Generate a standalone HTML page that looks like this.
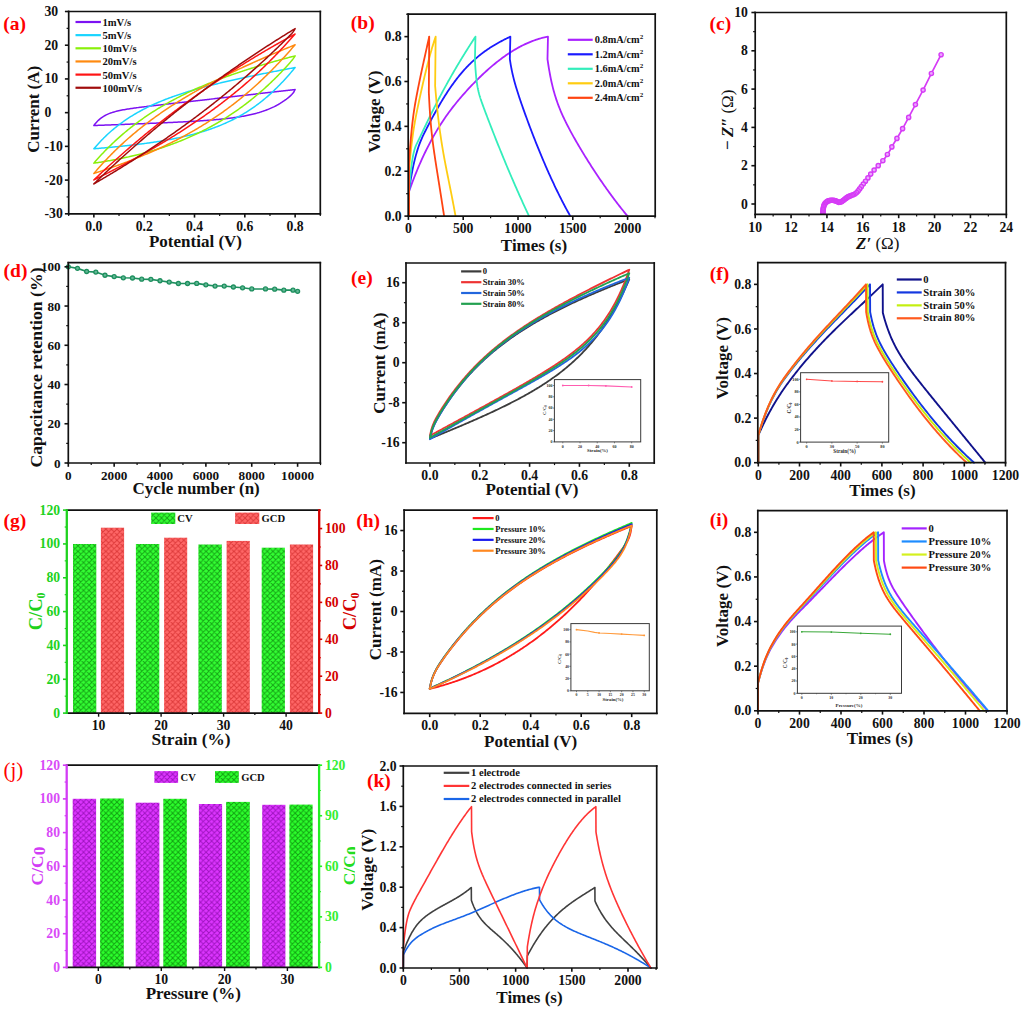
<!DOCTYPE html>
<html><head><meta charset="utf-8"><style>
html,body{margin:0;padding:0;background:#fff;overflow:hidden;}
svg{display:block;}
</style></head><body>
<svg width="1024" height="1010" viewBox="0 0 1024 1010">
<rect width="1024" height="1010" fill="#fff"/>
<polyline points="93.86,125.53 94.98,124.03 96.11,122.67 97.23,121.44 98.36,120.33 99.48,119.32 100.61,118.4 101.73,117.57 102.86,116.81 103.98,116.11 105.1,115.48 106.23,114.9 107.35,114.36 108.48,113.87 109.6,113.42 110.73,113 111.85,112.61 112.98,112.25 114.1,111.91 115.22,111.6 116.35,111.3 117.47,111.03 118.6,110.76 119.72,110.52 120.85,110.28 121.97,110.06 123.1,109.84 124.22,109.64 125.35,109.44 126.47,109.25 127.59,109.07 128.72,108.89 129.84,108.72 130.97,108.55 132.09,108.39 133.22,108.23 134.34,108.07 135.47,107.92 136.59,107.77 137.71,107.62 138.84,107.47 139.96,107.33 141.09,107.19 142.21,107.05 143.34,106.91 144.46,106.77 145.59,106.63 146.71,106.49 147.83,106.36 148.96,106.22 150.08,106.09 151.21,105.96 152.33,105.82 153.46,105.69 154.58,105.56 155.71,105.43 156.83,105.3 157.95,105.17 159.08,105.04 160.2,104.9 161.33,104.77 162.45,104.65 163.58,104.52 164.7,104.39 165.83,104.26 166.95,104.13 168.07,104 169.2,103.87 170.32,103.74 171.45,103.61 172.57,103.48 173.7,103.35 174.82,103.23 175.95,103.1 177.07,102.97 178.2,102.84 179.32,102.71 180.44,102.58 181.57,102.46 182.69,102.33 183.82,102.2 184.94,102.07 186.07,101.94 187.19,101.81 188.32,101.69 189.44,101.56 190.56,101.43 191.69,101.3 192.81,101.17 193.94,101.05 195.06,100.92 196.19,100.79 197.31,100.66 198.44,100.53 199.56,100.4 200.68,100.28 201.81,100.15 202.93,100.02 204.06,99.89 205.18,99.76 206.31,99.64 207.43,99.51 208.56,99.38 209.68,99.25 210.8,99.12 211.93,99 213.05,98.87 214.18,98.74 215.3,98.61 216.43,98.48 217.55,98.36 218.68,98.23 219.8,98.1 220.93,97.97 222.05,97.84 223.17,97.72 224.3,97.59 225.42,97.46 226.55,97.33 227.67,97.2 228.8,97.08 229.92,96.95 231.05,96.82 232.17,96.69 233.29,96.56 234.42,96.43 235.54,96.31 236.67,96.18 237.79,96.05 238.92,95.92 240.04,95.79 241.17,95.67 242.29,95.54 243.41,95.41 244.54,95.28 245.66,95.15 246.79,95.03 247.91,94.9 249.04,94.77 250.16,94.64 251.29,94.51 252.41,94.39 253.53,94.26 254.66,94.13 255.78,94 256.91,93.87 258.03,93.75 259.16,93.62 260.28,93.49 261.41,93.36 262.53,93.23 263.65,93.11 264.78,92.98 265.9,92.85 267.03,92.72 268.15,92.59 269.28,92.47 270.4,92.34 271.53,92.21 272.65,92.08 273.78,91.95 274.9,91.83 276.02,91.7 277.15,91.57 278.27,91.44 279.4,91.31 280.52,91.18 281.65,91.06 282.77,90.93 283.9,90.8 285.02,90.67 286.14,90.54 287.27,90.42 288.39,90.29 289.52,90.16 290.64,90.03 291.77,89.9 292.89,89.78 294.02,89.65 295.14,89.52 295.14,89.52 294.02,91.76 292.89,93.3 291.77,94.54 290.64,95.63 289.52,96.63 288.39,97.57 287.27,98.47 286.14,99.34 285.02,100.16 283.9,100.96 282.77,101.72 281.65,102.46 280.52,103.17 279.4,103.84 278.27,104.5 277.15,105.12 276.02,105.73 274.9,106.31 273.78,106.87 272.65,107.4 271.53,107.92 270.4,108.42 269.28,108.9 268.15,109.36 267.03,109.8 265.9,110.23 264.78,110.64 263.65,111.03 262.53,111.41 261.41,111.78 260.28,112.13 259.16,112.48 258.03,112.8 256.91,113.12 255.78,113.43 254.66,113.72 253.53,114.01 252.41,114.28 251.29,114.54 250.16,114.8 249.04,115.05 247.91,115.29 246.79,115.52 245.66,115.74 244.54,115.95 243.41,116.16 242.29,116.36 241.17,116.56 240.04,116.75 238.92,116.93 237.79,117.1 236.67,117.27 235.54,117.44 234.42,117.6 233.29,117.76 232.17,117.91 231.05,118.05 229.92,118.2 228.8,118.33 227.67,118.47 226.55,118.6 225.42,118.72 224.3,118.85 223.17,118.97 222.05,119.08 220.93,119.2 219.8,119.31 218.68,119.41 217.55,119.52 216.43,119.62 215.3,119.72 214.18,119.82 213.05,119.91 211.93,120.01 210.8,120.1 209.68,120.19 208.56,120.27 207.43,120.36 206.31,120.44 205.18,120.52 204.06,120.6 202.93,120.68 201.81,120.76 200.68,120.83 199.56,120.9 198.44,120.98 197.31,121.05 196.19,121.12 195.06,121.19 193.94,121.25 192.81,121.32 191.69,121.39 190.56,121.45 189.44,121.51 188.32,121.58 187.19,121.64 186.07,121.7 184.94,121.76 183.82,121.82 182.69,121.88 181.57,121.94 180.44,121.99 179.32,122.05 178.2,122.11 177.07,122.16 175.95,122.22 174.82,122.27 173.7,122.32 172.57,122.38 171.45,122.43 170.32,122.48 169.2,122.53 168.07,122.58 166.95,122.64 165.83,122.69 164.7,122.74 163.58,122.79 162.45,122.84 161.33,122.88 160.2,122.93 159.08,122.98 157.95,123.03 156.83,123.08 155.71,123.13 154.58,123.17 153.46,123.22 152.33,123.27 151.21,123.31 150.08,123.36 148.96,123.41 147.83,123.45 146.71,123.5 145.59,123.54 144.46,123.59 143.34,123.63 142.21,123.68 141.09,123.72 139.96,123.77 138.84,123.81 137.71,123.86 136.59,123.9 135.47,123.95 134.34,123.99 133.22,124.04 132.09,124.08 130.97,124.12 129.84,124.17 128.72,124.21 127.59,124.25 126.47,124.3 125.35,124.34 124.22,124.38 123.1,124.43 121.97,124.47 120.85,124.51 119.72,124.56 118.6,124.6 117.47,124.64 116.35,124.68 115.22,124.73 114.1,124.77 112.98,124.81 111.85,124.86 110.73,124.9 109.6,124.94 108.48,124.98 107.35,125.02 106.23,125.07 105.1,125.11 103.98,125.15 102.86,125.19 101.73,125.24 100.61,125.28 99.48,125.32 98.36,125.36 97.23,125.4 96.11,125.45 94.98,125.49 93.86,125.53" fill="none" stroke="#7c12f2" stroke-width="1.5" stroke-linejoin="round" stroke-linecap="round" />
<polyline points="93.86,148.76 94.98,147.44 96.11,146.15 97.23,144.89 98.36,143.65 99.48,142.43 100.61,141.24 101.73,140.07 102.86,138.93 103.98,137.81 105.1,136.71 106.23,135.64 107.35,134.58 108.48,133.55 109.6,132.53 110.73,131.54 111.85,130.56 112.98,129.6 114.1,128.66 115.22,127.74 116.35,126.84 117.47,125.95 118.6,125.08 119.72,124.23 120.85,123.39 121.97,122.57 123.1,121.76 124.22,120.97 125.35,120.19 126.47,119.42 127.59,118.67 128.72,117.93 129.84,117.21 130.97,116.49 132.09,115.79 133.22,115.11 134.34,114.43 135.47,113.77 136.59,113.11 137.71,112.47 138.84,111.84 139.96,111.22 141.09,110.61 142.21,110.01 143.34,109.42 144.46,108.83 145.59,108.26 146.71,107.7 147.83,107.14 148.96,106.6 150.08,106.06 151.21,105.53 152.33,105.01 153.46,104.49 154.58,103.99 155.71,103.49 156.83,103 157.95,102.51 159.08,102.04 160.2,101.57 161.33,101.1 162.45,100.64 163.58,100.19 164.7,99.75 165.83,99.31 166.95,98.88 168.07,98.45 169.2,98.03 170.32,97.61 171.45,97.2 172.57,96.79 173.7,96.39 174.82,96 175.95,95.6 177.07,95.22 178.2,94.84 179.32,94.46 180.44,94.09 181.57,93.72 182.69,93.35 183.82,92.99 184.94,92.63 186.07,92.28 187.19,91.93 188.32,91.59 189.44,91.25 190.56,90.91 191.69,90.57 192.81,90.24 193.94,89.91 195.06,89.59 196.19,89.27 197.31,88.95 198.44,88.63 199.56,88.32 200.68,88.01 201.81,87.7 202.93,87.39 204.06,87.09 205.18,86.79 206.31,86.5 207.43,86.2 208.56,85.91 209.68,85.62 210.8,85.33 211.93,85.05 213.05,84.76 214.18,84.48 215.3,84.2 216.43,83.93 217.55,83.65 218.68,83.38 219.8,83.11 220.93,82.84 222.05,82.57 223.17,82.3 224.3,82.04 225.42,81.78 226.55,81.51 227.67,81.25 228.8,81 229.92,80.74 231.05,80.49 232.17,80.23 233.29,79.98 234.42,79.73 235.54,79.48 236.67,79.23 237.79,78.98 238.92,78.74 240.04,78.49 241.17,78.25 242.29,78.01 243.41,77.77 244.54,77.53 245.66,77.29 246.79,77.05 247.91,76.82 249.04,76.58 250.16,76.34 251.29,76.11 252.41,75.88 253.53,75.65 254.66,75.42 255.78,75.18 256.91,74.96 258.03,74.73 259.16,74.5 260.28,74.27 261.41,74.05 262.53,73.82 263.65,73.6 264.78,73.37 265.9,73.15 267.03,72.93 268.15,72.7 269.28,72.48 270.4,72.26 271.53,72.04 272.65,71.82 273.78,71.6 274.9,71.38 276.02,71.17 277.15,70.95 278.27,70.73 279.4,70.52 280.52,70.3 281.65,70.09 282.77,69.87 283.9,69.66 285.02,69.44 286.14,69.23 287.27,69.02 288.39,68.8 289.52,68.59 290.64,68.38 291.77,68.17 292.89,67.96 294.02,67.75 295.14,67.54 295.14,67.54 294.02,68.89 292.89,70.24 291.77,71.57 290.64,72.88 289.52,74.18 288.39,75.47 287.27,76.74 286.14,78 285.02,79.24 283.9,80.46 282.77,81.67 281.65,82.86 280.52,84.03 279.4,85.19 278.27,86.33 277.15,87.46 276.02,88.57 274.9,89.66 273.78,90.73 272.65,91.79 271.53,92.84 270.4,93.86 269.28,94.87 268.15,95.86 267.03,96.84 265.9,97.8 264.78,98.75 263.65,99.68 262.53,100.59 261.41,101.49 260.28,102.37 259.16,103.24 258.03,104.09 256.91,104.93 255.78,105.75 254.66,106.56 253.53,107.36 252.41,108.14 251.29,108.91 250.16,109.66 249.04,110.4 247.91,111.13 246.79,111.84 245.66,112.54 244.54,113.23 243.41,113.91 242.29,114.57 241.17,115.22 240.04,115.86 238.92,116.49 237.79,117.11 236.67,117.71 235.54,118.31 234.42,118.89 233.29,119.46 232.17,120.02 231.05,120.58 229.92,121.12 228.8,121.65 227.67,122.17 226.55,122.69 225.42,123.19 224.3,123.68 223.17,124.17 222.05,124.64 220.93,125.11 219.8,125.57 218.68,126.02 217.55,126.46 216.43,126.9 215.3,127.32 214.18,127.74 213.05,128.15 211.93,128.56 210.8,128.95 209.68,129.34 208.56,129.73 207.43,130.1 206.31,130.47 205.18,130.83 204.06,131.19 202.93,131.54 201.81,131.88 200.68,132.22 199.56,132.55 198.44,132.87 197.31,133.19 196.19,133.51 195.06,133.82 193.94,134.12 192.81,134.42 191.69,134.71 190.56,135 189.44,135.28 188.32,135.56 187.19,135.83 186.07,136.1 184.94,136.36 183.82,136.62 182.69,136.88 181.57,137.13 180.44,137.38 179.32,137.62 178.2,137.86 177.07,138.09 175.95,138.32 174.82,138.55 173.7,138.77 172.57,138.99 171.45,139.21 170.32,139.42 169.2,139.63 168.07,139.84 166.95,140.04 165.83,140.24 164.7,140.44 163.58,140.63 162.45,140.82 161.33,141.01 160.2,141.2 159.08,141.38 157.95,141.56 156.83,141.74 155.71,141.91 154.58,142.08 153.46,142.25 152.33,142.42 151.21,142.58 150.08,142.75 148.96,142.91 147.83,143.07 146.71,143.22 145.59,143.37 144.46,143.53 143.34,143.68 142.21,143.82 141.09,143.97 139.96,144.11 138.84,144.25 137.71,144.39 136.59,144.53 135.47,144.67 134.34,144.8 133.22,144.93 132.09,145.07 130.97,145.19 129.84,145.32 128.72,145.45 127.59,145.57 126.47,145.7 125.35,145.82 124.22,145.94 123.1,146.06 121.97,146.18 120.85,146.29 119.72,146.41 118.6,146.52 117.47,146.64 116.35,146.75 115.22,146.86 114.1,146.97 112.98,147.08 111.85,147.18 110.73,147.29 109.6,147.39 108.48,147.5 107.35,147.6 106.23,147.7 105.1,147.8 103.98,147.9 102.86,148 101.73,148.1 100.61,148.2 99.48,148.29 98.36,148.39 97.23,148.48 96.11,148.58 94.98,148.67 93.86,148.76" fill="none" stroke="#18d4ff" stroke-width="1.5" stroke-linejoin="round" stroke-linecap="round" />
<polyline points="93.86,163.12 94.98,161.82 96.11,160.54 97.23,159.27 98.36,158.01 99.48,156.77 100.61,155.55 101.73,154.34 102.86,153.15 103.98,151.96 105.1,150.8 106.23,149.65 107.35,148.51 108.48,147.38 109.6,146.27 110.73,145.17 111.85,144.09 112.98,143.01 114.1,141.95 115.22,140.91 116.35,139.87 117.47,138.85 118.6,137.83 119.72,136.83 120.85,135.85 121.97,134.87 123.1,133.9 124.22,132.95 125.35,132 126.47,131.07 127.59,130.15 128.72,129.23 129.84,128.33 130.97,127.44 132.09,126.56 133.22,125.68 134.34,124.82 135.47,123.97 136.59,123.12 137.71,122.29 138.84,121.46 139.96,120.65 141.09,119.84 142.21,119.04 143.34,118.25 144.46,117.47 145.59,116.69 146.71,115.93 147.83,115.17 148.96,114.42 150.08,113.68 151.21,112.94 152.33,112.22 153.46,111.5 154.58,110.79 155.71,110.08 156.83,109.38 157.95,108.69 159.08,108.01 160.2,107.33 161.33,106.67 162.45,106 163.58,105.35 164.7,104.7 165.83,104.05 166.95,103.42 168.07,102.79 169.2,102.16 170.32,101.54 171.45,100.93 172.57,100.32 173.7,99.72 174.82,99.13 175.95,98.54 177.07,97.95 178.2,97.37 179.32,96.8 180.44,96.23 181.57,95.67 182.69,95.11 183.82,94.56 184.94,94.01 186.07,93.47 187.19,92.93 188.32,92.39 189.44,91.86 190.56,91.34 191.69,90.82 192.81,90.31 193.94,89.79 195.06,89.29 196.19,88.79 197.31,88.29 198.44,87.79 199.56,87.3 200.68,86.82 201.81,86.34 202.93,85.86 204.06,85.39 205.18,84.92 206.31,84.45 207.43,83.99 208.56,83.53 209.68,83.07 210.8,82.62 211.93,82.17 213.05,81.73 214.18,81.29 215.3,80.85 216.43,80.41 217.55,79.98 218.68,79.55 219.8,79.13 220.93,78.7 222.05,78.29 223.17,77.87 224.3,77.46 225.42,77.05 226.55,76.64 227.67,76.23 228.8,75.83 229.92,75.43 231.05,75.04 232.17,74.64 233.29,74.25 234.42,73.86 235.54,73.48 236.67,73.09 237.79,72.71 238.92,72.34 240.04,71.96 241.17,71.59 242.29,71.21 243.41,70.85 244.54,70.48 245.66,70.11 246.79,69.75 247.91,69.39 249.04,69.03 250.16,68.68 251.29,68.32 252.41,67.97 253.53,67.62 254.66,67.28 255.78,66.93 256.91,66.59 258.03,66.24 259.16,65.9 260.28,65.57 261.41,65.23 262.53,64.9 263.65,64.56 264.78,64.23 265.9,63.9 267.03,63.58 268.15,63.25 269.28,62.93 270.4,62.6 271.53,62.28 272.65,61.96 273.78,61.64 274.9,61.33 276.02,61.01 277.15,60.7 278.27,60.39 279.4,60.08 280.52,59.77 281.65,59.46 282.77,59.15 283.9,58.85 285.02,58.55 286.14,58.24 287.27,57.94 288.39,57.64 289.52,57.34 290.64,57.05 291.77,56.75 292.89,56.46 294.02,56.16 295.14,55.87 295.14,55.87 294.02,57.67 292.89,59.17 291.77,60.55 290.64,61.87 289.52,63.15 288.39,64.42 287.27,65.67 286.14,66.9 285.02,68.13 283.9,69.34 282.77,70.54 281.65,71.72 280.52,72.9 279.4,74.06 278.27,75.22 277.15,76.36 276.02,77.49 274.9,78.6 273.78,79.71 272.65,80.81 271.53,81.89 270.4,82.97 269.28,84.03 268.15,85.08 267.03,86.13 265.9,87.16 264.78,88.18 263.65,89.19 262.53,90.19 261.41,91.18 260.28,92.16 259.16,93.13 258.03,94.1 256.91,95.05 255.78,95.99 254.66,96.92 253.53,97.84 252.41,98.76 251.29,99.66 250.16,100.56 249.04,101.44 247.91,102.32 246.79,103.19 245.66,104.05 244.54,104.89 243.41,105.74 242.29,106.57 241.17,107.39 240.04,108.21 238.92,109.01 237.79,109.81 236.67,110.6 235.54,111.38 234.42,112.16 233.29,112.92 232.17,113.68 231.05,114.43 229.92,115.17 228.8,115.91 227.67,116.63 226.55,117.35 225.42,118.06 224.3,118.76 223.17,119.46 222.05,120.15 220.93,120.83 219.8,121.5 218.68,122.17 217.55,122.83 216.43,123.48 215.3,124.13 214.18,124.76 213.05,125.4 211.93,126.02 210.8,126.64 209.68,127.25 208.56,127.85 207.43,128.45 206.31,129.04 205.18,129.63 204.06,130.2 202.93,130.78 201.81,131.34 200.68,131.9 199.56,132.45 198.44,133 197.31,133.54 196.19,134.08 195.06,134.61 193.94,135.13 192.81,135.64 191.69,136.16 190.56,136.66 189.44,137.16 188.32,137.65 187.19,138.14 186.07,138.62 184.94,139.1 183.82,139.57 182.69,140.04 181.57,140.5 180.44,140.96 179.32,141.41 178.2,141.85 177.07,142.29 175.95,142.72 174.82,143.15 173.7,143.58 172.57,144 171.45,144.41 170.32,144.82 169.2,145.22 168.07,145.62 166.95,146.02 165.83,146.41 164.7,146.79 163.58,147.17 162.45,147.55 161.33,147.92 160.2,148.29 159.08,148.65 157.95,149.01 156.83,149.36 155.71,149.71 154.58,150.06 153.46,150.4 152.33,150.73 151.21,151.06 150.08,151.39 148.96,151.71 147.83,152.03 146.71,152.35 145.59,152.66 144.46,152.97 143.34,153.27 142.21,153.57 141.09,153.86 139.96,154.15 138.84,154.44 137.71,154.72 136.59,155 135.47,155.28 134.34,155.55 133.22,155.82 132.09,156.08 130.97,156.35 129.84,156.6 128.72,156.86 127.59,157.11 126.47,157.35 125.35,157.6 124.22,157.84 123.1,158.08 121.97,158.31 120.85,158.54 119.72,158.76 118.6,158.99 117.47,159.21 116.35,159.43 115.22,159.64 114.1,159.85 112.98,160.06 111.85,160.26 110.73,160.46 109.6,160.66 108.48,160.85 107.35,161.05 106.23,161.24 105.1,161.42 103.98,161.6 102.86,161.78 101.73,161.96 100.61,162.14 99.48,162.31 98.36,162.48 97.23,162.64 96.11,162.81 94.98,162.97 93.86,163.12" fill="none" stroke="#8af00a" stroke-width="1.5" stroke-linejoin="round" stroke-linecap="round" />
<polyline points="93.86,173.51 94.98,172.19 96.11,170.88 97.23,169.58 98.36,168.3 99.48,167.03 100.61,165.77 101.73,164.53 102.86,163.3 103.98,162.08 105.1,160.87 106.23,159.67 107.35,158.49 108.48,157.32 109.6,156.16 110.73,155.01 111.85,153.87 112.98,152.75 114.1,151.63 115.22,150.53 116.35,149.43 117.47,148.35 118.6,147.28 119.72,146.21 120.85,145.16 121.97,144.11 123.1,143.08 124.22,142.05 125.35,141.04 126.47,140.03 127.59,139.03 128.72,138.05 129.84,137.07 130.97,136.1 132.09,135.13 133.22,134.18 134.34,133.23 135.47,132.3 136.59,131.37 137.71,130.44 138.84,129.53 139.96,128.63 141.09,127.73 142.21,126.84 143.34,125.95 144.46,125.08 145.59,124.21 146.71,123.34 147.83,122.49 148.96,121.64 150.08,120.8 151.21,119.96 152.33,119.14 153.46,118.31 154.58,117.5 155.71,116.69 156.83,115.89 157.95,115.09 159.08,114.3 160.2,113.51 161.33,112.73 162.45,111.96 163.58,111.19 164.7,110.43 165.83,109.67 166.95,108.92 168.07,108.18 169.2,107.44 170.32,106.7 171.45,105.97 172.57,105.24 173.7,104.52 174.82,103.81 175.95,103.1 177.07,102.39 178.2,101.69 179.32,100.99 180.44,100.3 181.57,99.61 182.69,98.93 183.82,98.25 184.94,97.57 186.07,96.9 187.19,96.24 188.32,95.57 189.44,94.91 190.56,94.26 191.69,93.61 192.81,92.96 193.94,92.32 195.06,91.68 196.19,91.04 197.31,90.41 198.44,89.78 199.56,89.16 200.68,88.54 201.81,87.92 202.93,87.3 204.06,86.69 205.18,86.09 206.31,85.48 207.43,84.88 208.56,84.28 209.68,83.68 210.8,83.09 211.93,82.5 213.05,81.92 214.18,81.33 215.3,80.75 216.43,80.17 217.55,79.6 218.68,79.03 219.8,78.46 220.93,77.89 222.05,77.33 223.17,76.76 224.3,76.2 225.42,75.65 226.55,75.09 227.67,74.54 228.8,73.99 229.92,73.44 231.05,72.9 232.17,72.36 233.29,71.82 234.42,71.28 235.54,70.74 236.67,70.21 237.79,69.68 238.92,69.15 240.04,68.62 241.17,68.1 242.29,67.57 243.41,67.05 244.54,66.53 245.66,66.01 246.79,65.5 247.91,64.99 249.04,64.47 250.16,63.96 251.29,63.45 252.41,62.95 253.53,62.44 254.66,61.94 255.78,61.44 256.91,60.94 258.03,60.44 259.16,59.94 260.28,59.45 261.41,58.96 262.53,58.46 263.65,57.97 264.78,57.49 265.9,57 267.03,56.51 268.15,56.03 269.28,55.54 270.4,55.06 271.53,54.58 272.65,54.1 273.78,53.63 274.9,53.15 276.02,52.67 277.15,52.2 278.27,51.73 279.4,51.26 280.52,50.79 281.65,50.32 282.77,49.85 283.9,49.38 285.02,48.92 286.14,48.45 287.27,47.99 288.39,47.53 289.52,47.07 290.64,46.61 291.77,46.15 292.89,45.69 294.02,45.23 295.14,44.78 295.14,44.78 294.02,46.07 292.89,47.35 291.77,48.62 290.64,49.9 289.52,51.16 288.39,52.42 287.27,53.67 286.14,54.91 285.02,56.15 283.9,57.38 282.77,58.6 281.65,59.82 280.52,61.03 279.4,62.23 278.27,63.42 277.15,64.6 276.02,65.78 274.9,66.94 273.78,68.1 272.65,69.25 271.53,70.4 270.4,71.53 269.28,72.66 268.15,73.77 267.03,74.88 265.9,75.98 264.78,77.07 263.65,78.16 262.53,79.23 261.41,80.3 260.28,81.35 259.16,82.4 258.03,83.44 256.91,84.48 255.78,85.5 254.66,86.52 253.53,87.52 252.41,88.52 251.29,89.51 250.16,90.5 249.04,91.47 247.91,92.44 246.79,93.4 245.66,94.35 244.54,95.29 243.41,96.22 242.29,97.15 241.17,98.07 240.04,98.98 238.92,99.89 237.79,100.78 236.67,101.67 235.54,102.55 234.42,103.43 233.29,104.29 232.17,105.15 231.05,106.01 229.92,106.85 228.8,107.69 227.67,108.52 226.55,109.35 225.42,110.16 224.3,110.98 223.17,111.78 222.05,112.58 220.93,113.37 219.8,114.15 218.68,114.93 217.55,115.7 216.43,116.47 215.3,117.23 214.18,117.98 213.05,118.73 211.93,119.47 210.8,120.2 209.68,120.93 208.56,121.65 207.43,122.37 206.31,123.08 205.18,123.78 204.06,124.48 202.93,125.18 201.81,125.87 200.68,126.55 199.56,127.23 198.44,127.9 197.31,128.57 196.19,129.23 195.06,129.89 193.94,130.54 192.81,131.18 191.69,131.82 190.56,132.46 189.44,133.09 188.32,133.72 187.19,134.34 186.07,134.96 184.94,135.57 183.82,136.18 182.69,136.78 181.57,137.38 180.44,137.97 179.32,138.56 178.2,139.15 177.07,139.73 175.95,140.31 174.82,140.88 173.7,141.45 172.57,142.01 171.45,142.57 170.32,143.13 169.2,143.68 168.07,144.23 166.95,144.77 165.83,145.31 164.7,145.85 163.58,146.38 162.45,146.91 161.33,147.43 160.2,147.95 159.08,148.47 157.95,148.99 156.83,149.5 155.71,150 154.58,150.51 153.46,151.01 152.33,151.51 151.21,152 150.08,152.49 148.96,152.98 147.83,153.46 146.71,153.94 145.59,154.42 144.46,154.89 143.34,155.36 142.21,155.83 141.09,156.3 139.96,156.76 138.84,157.22 137.71,157.67 136.59,158.13 135.47,158.58 134.34,159.02 133.22,159.47 132.09,159.91 130.97,160.35 129.84,160.79 128.72,161.22 127.59,161.65 126.47,162.08 125.35,162.51 124.22,162.93 123.1,163.35 121.97,163.77 120.85,164.19 119.72,164.6 118.6,165.01 117.47,165.42 116.35,165.83 115.22,166.23 114.1,166.64 112.98,167.04 111.85,167.43 110.73,167.83 109.6,168.22 108.48,168.61 107.35,169 106.23,169.39 105.1,169.77 103.98,170.15 102.86,170.54 101.73,170.91 100.61,171.29 99.48,171.66 98.36,172.04 97.23,172.41 96.11,172.78 94.98,173.14 93.86,173.51" fill="none" stroke="#ff8a10" stroke-width="1.5" stroke-linejoin="round" stroke-linecap="round" />
<polyline points="93.86,179.95 94.98,178.88 96.11,177.81 97.23,176.75 98.36,175.69 99.48,174.64 100.61,173.59 101.73,172.54 102.86,171.49 103.98,170.45 105.1,169.41 106.23,168.38 107.35,167.35 108.48,166.32 109.6,165.29 110.73,164.27 111.85,163.25 112.98,162.24 114.1,161.23 115.22,160.22 116.35,159.21 117.47,158.21 118.6,157.21 119.72,156.22 120.85,155.22 121.97,154.24 123.1,153.25 124.22,152.27 125.35,151.29 126.47,150.31 127.59,149.34 128.72,148.37 129.84,147.4 130.97,146.44 132.09,145.48 133.22,144.52 134.34,143.57 135.47,142.62 136.59,141.67 137.71,140.72 138.84,139.78 139.96,138.84 141.09,137.91 142.21,136.97 143.34,136.04 144.46,135.12 145.59,134.19 146.71,133.27 147.83,132.35 148.96,131.44 150.08,130.52 151.21,129.62 152.33,128.71 153.46,127.81 154.58,126.9 155.71,126.01 156.83,125.11 157.95,124.22 159.08,123.33 160.2,122.44 161.33,121.56 162.45,120.68 163.58,119.8 164.7,118.93 165.83,118.05 166.95,117.19 168.07,116.32 169.2,115.45 170.32,114.59 171.45,113.74 172.57,112.88 173.7,112.03 174.82,111.18 175.95,110.33 177.07,109.48 178.2,108.64 179.32,107.8 180.44,106.96 181.57,106.13 182.69,105.3 183.82,104.47 184.94,103.64 186.07,102.82 187.19,102 188.32,101.18 189.44,100.36 190.56,99.55 191.69,98.74 192.81,97.93 193.94,97.13 195.06,96.32 196.19,95.52 197.31,94.72 198.44,93.93 199.56,93.14 200.68,92.34 201.81,91.56 202.93,90.77 204.06,89.99 205.18,89.21 206.31,88.43 207.43,87.65 208.56,86.88 209.68,86.11 210.8,85.34 211.93,84.57 213.05,83.81 214.18,83.05 215.3,82.29 216.43,81.53 217.55,80.78 218.68,80.03 219.8,79.28 220.93,78.53 222.05,77.79 223.17,77.04 224.3,76.3 225.42,75.57 226.55,74.83 227.67,74.1 228.8,73.37 229.92,72.64 231.05,71.91 232.17,71.19 233.29,70.46 234.42,69.74 235.54,69.03 236.67,68.31 237.79,67.6 238.92,66.89 240.04,66.18 241.17,65.47 242.29,64.77 243.41,64.07 244.54,63.37 245.66,62.67 246.79,61.97 247.91,61.28 249.04,60.59 250.16,59.9 251.29,59.21 252.41,58.53 253.53,57.84 254.66,57.16 255.78,56.48 256.91,55.81 258.03,55.13 259.16,54.46 260.28,53.79 261.41,53.12 262.53,52.45 263.65,51.79 264.78,51.13 265.9,50.47 267.03,49.81 268.15,49.15 269.28,48.5 270.4,47.85 271.53,47.2 272.65,46.55 273.78,45.9 274.9,45.26 276.02,44.62 277.15,43.98 278.27,43.34 279.4,42.7 280.52,42.07 281.65,41.43 282.77,40.8 283.9,40.17 285.02,39.55 286.14,38.92 287.27,38.3 288.39,37.68 289.52,37.06 290.64,36.44 291.77,35.82 292.89,35.21 294.02,34.6 295.14,33.99 295.14,33.99 294.02,35.25 292.89,36.5 291.77,37.76 290.64,39.01 289.52,40.26 288.39,41.5 287.27,42.74 286.14,43.97 285.02,45.2 283.9,46.42 282.77,47.64 281.65,48.85 280.52,50.05 279.4,51.24 278.27,52.43 277.15,53.61 276.02,54.78 274.9,55.95 273.78,57.11 272.65,58.26 271.53,59.4 270.4,60.53 269.28,61.66 268.15,62.78 267.03,63.89 265.9,65 264.78,66.09 263.65,67.18 262.53,68.27 261.41,69.34 260.28,70.41 259.16,71.47 258.03,72.52 256.91,73.57 255.78,74.61 254.66,75.64 253.53,76.67 252.41,77.68 251.29,78.7 250.16,79.7 249.04,80.7 247.91,81.69 246.79,82.68 245.66,83.66 244.54,84.63 243.41,85.6 242.29,86.56 241.17,87.51 240.04,88.46 238.92,89.4 237.79,90.34 236.67,91.27 235.54,92.2 234.42,93.12 233.29,94.03 232.17,94.94 231.05,95.84 229.92,96.74 228.8,97.63 227.67,98.52 226.55,99.4 225.42,100.28 224.3,101.15 223.17,102.02 222.05,102.88 220.93,103.74 219.8,104.59 218.68,105.44 217.55,106.28 216.43,107.12 215.3,107.95 214.18,108.78 213.05,109.61 211.93,110.43 210.8,111.24 209.68,112.05 208.56,112.86 207.43,113.66 206.31,114.46 205.18,115.26 204.06,116.05 202.93,116.84 201.81,117.62 200.68,118.4 199.56,119.17 198.44,119.94 197.31,120.71 196.19,121.47 195.06,122.23 193.94,122.99 192.81,123.74 191.69,124.49 190.56,125.24 189.44,125.98 188.32,126.72 187.19,127.45 186.07,128.19 184.94,128.91 183.82,129.64 182.69,130.36 181.57,131.08 180.44,131.8 179.32,132.51 178.2,133.22 177.07,133.93 175.95,134.63 174.82,135.33 173.7,136.03 172.57,136.72 171.45,137.42 170.32,138.11 169.2,138.79 168.07,139.48 166.95,140.16 165.83,140.84 164.7,141.51 163.58,142.18 162.45,142.86 161.33,143.52 160.2,144.19 159.08,144.85 157.95,145.51 156.83,146.17 155.71,146.83 154.58,147.48 153.46,148.13 152.33,148.78 151.21,149.43 150.08,150.07 148.96,150.71 147.83,151.35 146.71,151.99 145.59,152.63 144.46,153.26 143.34,153.89 142.21,154.52 141.09,155.15 139.96,155.77 138.84,156.4 137.71,157.02 136.59,157.64 135.47,158.26 134.34,158.87 133.22,159.49 132.09,160.1 130.97,160.71 129.84,161.32 128.72,161.92 127.59,162.53 126.47,163.13 125.35,163.73 124.22,164.33 123.1,164.93 121.97,165.52 120.85,166.12 119.72,166.71 118.6,167.3 117.47,167.89 116.35,168.48 115.22,169.07 114.1,169.65 112.98,170.24 111.85,170.82 110.73,171.4 109.6,171.98 108.48,172.56 107.35,173.13 106.23,173.71 105.1,174.28 103.98,174.86 102.86,175.43 101.73,176 100.61,176.56 99.48,177.13 98.36,177.7 97.23,178.26 96.11,178.83 94.98,179.39 93.86,179.95" fill="none" stroke="#ff1414" stroke-width="1.5" stroke-linejoin="round" stroke-linecap="round" />
<polyline points="93.86,183.89 94.98,182.8 96.11,181.72 97.23,180.63 98.36,179.55 99.48,178.47 100.61,177.4 101.73,176.32 102.86,175.25 103.98,174.19 105.1,173.12 106.23,172.06 107.35,171.01 108.48,169.95 109.6,168.9 110.73,167.85 111.85,166.8 112.98,165.76 114.1,164.72 115.22,163.68 116.35,162.65 117.47,161.62 118.6,160.59 119.72,159.56 120.85,158.54 121.97,157.52 123.1,156.5 124.22,155.48 125.35,154.47 126.47,153.46 127.59,152.46 128.72,151.45 129.84,150.45 130.97,149.45 132.09,148.46 133.22,147.46 134.34,146.47 135.47,145.48 136.59,144.5 137.71,143.52 138.84,142.54 139.96,141.56 141.09,140.59 142.21,139.61 143.34,138.64 144.46,137.68 145.59,136.71 146.71,135.75 147.83,134.79 148.96,133.84 150.08,132.88 151.21,131.93 152.33,130.98 153.46,130.04 154.58,129.1 155.71,128.15 156.83,127.22 157.95,126.28 159.08,125.35 160.2,124.42 161.33,123.49 162.45,122.56 163.58,121.64 164.7,120.72 165.83,119.8 166.95,118.88 168.07,117.97 169.2,117.06 170.32,116.15 171.45,115.24 172.57,114.34 173.7,113.44 174.82,112.54 175.95,111.64 177.07,110.75 178.2,109.86 179.32,108.97 180.44,108.08 181.57,107.19 182.69,106.31 183.82,105.43 184.94,104.55 186.07,103.68 187.19,102.8 188.32,101.93 189.44,101.06 190.56,100.2 191.69,99.33 192.81,98.47 193.94,97.61 195.06,96.75 196.19,95.9 197.31,95.04 198.44,94.19 199.56,93.35 200.68,92.5 201.81,91.65 202.93,90.81 204.06,89.97 205.18,89.14 206.31,88.3 207.43,87.47 208.56,86.64 209.68,85.81 210.8,84.98 211.93,84.16 213.05,83.33 214.18,82.51 215.3,81.69 216.43,80.88 217.55,80.06 218.68,79.25 219.8,78.44 220.93,77.63 222.05,76.83 223.17,76.03 224.3,75.22 225.42,74.42 226.55,73.63 227.67,72.83 228.8,72.04 229.92,71.25 231.05,70.46 232.17,69.67 233.29,68.88 234.42,68.1 235.54,67.32 236.67,66.54 237.79,65.76 238.92,64.99 240.04,64.21 241.17,63.44 242.29,62.67 243.41,61.91 244.54,61.14 245.66,60.38 246.79,59.61 247.91,58.85 249.04,58.1 250.16,57.34 251.29,56.59 252.41,55.83 253.53,55.08 254.66,54.34 255.78,53.59 256.91,52.84 258.03,52.1 259.16,51.36 260.28,50.62 261.41,49.88 262.53,49.15 263.65,48.42 264.78,47.68 265.9,46.95 267.03,46.23 268.15,45.5 269.28,44.77 270.4,44.05 271.53,43.33 272.65,42.61 273.78,41.89 274.9,41.18 276.02,40.46 277.15,39.75 278.27,39.04 279.4,38.33 280.52,37.63 281.65,36.92 282.77,36.22 283.9,35.52 285.02,34.82 286.14,34.12 287.27,33.42 288.39,32.73 289.52,32.03 290.64,31.34 291.77,30.65 292.89,29.97 294.02,29.28 295.14,28.59 295.14,28.59 294.02,30.65 292.89,32.17 291.77,33.46 290.64,34.66 289.52,35.82 288.39,36.96 287.27,38.08 286.14,39.2 285.02,40.32 283.9,41.43 282.77,42.54 281.65,43.64 280.52,44.74 279.4,45.83 278.27,46.92 277.15,48.01 276.02,49.09 274.9,50.16 273.78,51.24 272.65,52.31 271.53,53.37 270.4,54.43 269.28,55.49 268.15,56.54 267.03,57.59 265.9,58.64 264.78,59.68 263.65,60.72 262.53,61.75 261.41,62.78 260.28,63.81 259.16,64.83 258.03,65.85 256.91,66.87 255.78,67.88 254.66,68.88 253.53,69.89 252.41,70.89 251.29,71.89 250.16,72.88 249.04,73.87 247.91,74.86 246.79,75.84 245.66,76.82 244.54,77.79 243.41,78.77 242.29,79.74 241.17,80.7 240.04,81.66 238.92,82.62 237.79,83.58 236.67,84.53 235.54,85.48 234.42,86.42 233.29,87.37 232.17,88.31 231.05,89.24 229.92,90.17 228.8,91.1 227.67,92.03 226.55,92.95 225.42,93.87 224.3,94.79 223.17,95.7 222.05,96.61 220.93,97.52 219.8,98.42 218.68,99.32 217.55,100.22 216.43,101.12 215.3,102.01 214.18,102.9 213.05,103.79 211.93,104.67 210.8,105.55 209.68,106.43 208.56,107.3 207.43,108.17 206.31,109.04 205.18,109.91 204.06,110.77 202.93,111.63 201.81,112.49 200.68,113.34 199.56,114.19 198.44,115.04 197.31,115.89 196.19,116.73 195.06,117.57 193.94,118.41 192.81,119.25 191.69,120.08 190.56,120.91 189.44,121.74 188.32,122.56 187.19,123.39 186.07,124.21 184.94,125.02 183.82,125.84 182.69,126.65 181.57,127.46 180.44,128.27 179.32,129.07 178.2,129.87 177.07,130.67 175.95,131.47 174.82,132.27 173.7,133.06 172.57,133.85 171.45,134.63 170.32,135.42 169.2,136.2 168.07,136.98 166.95,137.76 165.83,138.54 164.7,139.31 163.58,140.08 162.45,140.85 161.33,141.62 160.2,142.38 159.08,143.14 157.95,143.9 156.83,144.66 155.71,145.42 154.58,146.17 153.46,146.92 152.33,147.67 151.21,148.42 150.08,149.16 148.96,149.9 147.83,150.64 146.71,151.38 145.59,152.12 144.46,152.85 143.34,153.58 142.21,154.31 141.09,155.04 139.96,155.77 138.84,156.49 137.71,157.21 136.59,157.93 135.47,158.65 134.34,159.36 133.22,160.08 132.09,160.79 130.97,161.5 129.84,162.21 128.72,162.91 127.59,163.62 126.47,164.32 125.35,165.02 124.22,165.72 123.1,166.41 121.97,167.11 120.85,167.8 119.72,168.49 118.6,169.18 117.47,169.87 116.35,170.55 115.22,171.24 114.1,171.92 112.98,172.6 111.85,173.28 110.73,173.95 109.6,174.63 108.48,175.3 107.35,175.97 106.23,176.64 105.1,177.31 103.98,177.97 102.86,178.64 101.73,179.3 100.61,179.96 99.48,180.62 98.36,181.28 97.23,181.94 96.11,182.59 94.98,183.24 93.86,183.89" fill="none" stroke="#a00c0c" stroke-width="1.5" stroke-linejoin="round" stroke-linecap="round" />
<line x1="67.85" y1="11.5" x2="321.15" y2="11.5" stroke="#111" stroke-width="1.7" />
<line x1="67.85" y1="213.8" x2="321.15" y2="213.8" stroke="#111" stroke-width="1.7" />
<line x1="68.7" y1="10.65" x2="68.7" y2="214.65" stroke="#111" stroke-width="1.7" />
<line x1="320.3" y1="10.65" x2="320.3" y2="214.65" stroke="#111" stroke-width="1.7" />
<line x1="93.86" y1="213.8" x2="93.86" y2="217.6" stroke="#111" stroke-width="1.6" />
<line x1="144.18" y1="213.8" x2="144.18" y2="217.6" stroke="#111" stroke-width="1.6" />
<line x1="194.5" y1="213.8" x2="194.5" y2="217.6" stroke="#111" stroke-width="1.6" />
<line x1="244.82" y1="213.8" x2="244.82" y2="217.6" stroke="#111" stroke-width="1.6" />
<line x1="295.14" y1="213.8" x2="295.14" y2="217.6" stroke="#111" stroke-width="1.6" />
<line x1="68.7" y1="213.8" x2="68.7" y2="215.9" stroke="#111" stroke-width="1.2" />
<line x1="119.02" y1="213.8" x2="119.02" y2="215.9" stroke="#111" stroke-width="1.2" />
<line x1="169.34" y1="213.8" x2="169.34" y2="215.9" stroke="#111" stroke-width="1.2" />
<line x1="219.66" y1="213.8" x2="219.66" y2="215.9" stroke="#111" stroke-width="1.2" />
<line x1="269.98" y1="213.8" x2="269.98" y2="215.9" stroke="#111" stroke-width="1.2" />
<line x1="320.3" y1="213.8" x2="320.3" y2="215.9" stroke="#111" stroke-width="1.2" />
<text x="93.86" y="231" font-family="'Liberation Serif', serif" font-size="13.7" font-weight="bold" fill="#111" text-anchor="middle" >0.0</text>
<text x="144.18" y="231" font-family="'Liberation Serif', serif" font-size="13.7" font-weight="bold" fill="#111" text-anchor="middle" >0.2</text>
<text x="194.5" y="231" font-family="'Liberation Serif', serif" font-size="13.7" font-weight="bold" fill="#111" text-anchor="middle" >0.4</text>
<text x="244.82" y="231" font-family="'Liberation Serif', serif" font-size="13.7" font-weight="bold" fill="#111" text-anchor="middle" >0.6</text>
<text x="295.14" y="231" font-family="'Liberation Serif', serif" font-size="13.7" font-weight="bold" fill="#111" text-anchor="middle" >0.8</text>
<line x1="68.7" y1="213.8" x2="64.9" y2="213.8" stroke="#111" stroke-width="1.6" />
<line x1="68.7" y1="180.08" x2="64.9" y2="180.08" stroke="#111" stroke-width="1.6" />
<line x1="68.7" y1="146.37" x2="64.9" y2="146.37" stroke="#111" stroke-width="1.6" />
<line x1="68.7" y1="112.65" x2="64.9" y2="112.65" stroke="#111" stroke-width="1.6" />
<line x1="68.7" y1="78.93" x2="64.9" y2="78.93" stroke="#111" stroke-width="1.6" />
<line x1="68.7" y1="45.22" x2="64.9" y2="45.22" stroke="#111" stroke-width="1.6" />
<line x1="68.7" y1="11.5" x2="64.9" y2="11.5" stroke="#111" stroke-width="1.6" />
<line x1="68.7" y1="196.94" x2="66.6" y2="196.94" stroke="#111" stroke-width="1.2" />
<line x1="68.7" y1="163.23" x2="66.6" y2="163.23" stroke="#111" stroke-width="1.2" />
<line x1="68.7" y1="129.51" x2="66.6" y2="129.51" stroke="#111" stroke-width="1.2" />
<line x1="68.7" y1="95.79" x2="66.6" y2="95.79" stroke="#111" stroke-width="1.2" />
<line x1="68.7" y1="62.07" x2="66.6" y2="62.07" stroke="#111" stroke-width="1.2" />
<line x1="68.7" y1="28.36" x2="66.6" y2="28.36" stroke="#111" stroke-width="1.2" />
<text x="44.5" y="218.35" font-family="'Liberation Serif', serif" font-size="13.7" font-weight="bold" fill="#111" text-anchor="start" >-30</text>
<text x="44.5" y="184.63" font-family="'Liberation Serif', serif" font-size="13.7" font-weight="bold" fill="#111" text-anchor="start" >-20</text>
<text x="44.5" y="150.92" font-family="'Liberation Serif', serif" font-size="13.7" font-weight="bold" fill="#111" text-anchor="start" >-10</text>
<text x="44.5" y="117.2" font-family="'Liberation Serif', serif" font-size="13.7" font-weight="bold" fill="#111" text-anchor="start" >0</text>
<text x="44.5" y="83.48" font-family="'Liberation Serif', serif" font-size="13.7" font-weight="bold" fill="#111" text-anchor="start" >10</text>
<text x="44.5" y="49.77" font-family="'Liberation Serif', serif" font-size="13.7" font-weight="bold" fill="#111" text-anchor="start" >20</text>
<text x="44.5" y="16.05" font-family="'Liberation Serif', serif" font-size="13.7" font-weight="bold" fill="#111" text-anchor="start" >30</text>
<line x1="75.5" y1="22" x2="100.9" y2="22" stroke="#7c12f2" stroke-width="2.2" />
<text x="102.4" y="25.9" font-family="'Liberation Serif', serif" font-size="10.6" font-weight="bold" fill="#111" text-anchor="start" >1mV/s</text>
<line x1="75.5" y1="35.15" x2="100.9" y2="35.15" stroke="#18d4ff" stroke-width="2.2" />
<text x="102.4" y="39.05" font-family="'Liberation Serif', serif" font-size="10.6" font-weight="bold" fill="#111" text-anchor="start" >5mV/s</text>
<line x1="75.5" y1="48.3" x2="100.9" y2="48.3" stroke="#8af00a" stroke-width="2.2" />
<text x="102.4" y="52.2" font-family="'Liberation Serif', serif" font-size="10.6" font-weight="bold" fill="#111" text-anchor="start" >10mV/s</text>
<line x1="75.5" y1="61.45" x2="100.9" y2="61.45" stroke="#ff8a10" stroke-width="2.2" />
<text x="102.4" y="65.35" font-family="'Liberation Serif', serif" font-size="10.6" font-weight="bold" fill="#111" text-anchor="start" >20mV/s</text>
<line x1="75.5" y1="74.6" x2="100.9" y2="74.6" stroke="#ff1414" stroke-width="2.2" />
<text x="102.4" y="78.5" font-family="'Liberation Serif', serif" font-size="10.6" font-weight="bold" fill="#111" text-anchor="start" >50mV/s</text>
<line x1="75.5" y1="87.75" x2="100.9" y2="87.75" stroke="#a00c0c" stroke-width="2.2" />
<text x="102.4" y="91.65" font-family="'Liberation Serif', serif" font-size="10.6" font-weight="bold" fill="#111" text-anchor="start" >100mV/s</text>
<text x="195.5" y="247" font-family="'Liberation Serif', serif" font-size="17" font-weight="bold" fill="#111" text-anchor="middle" >Potential (V)</text>
<text x="38.7" y="109.3" font-family="'Liberation Serif', serif" font-size="17" font-weight="bold" fill="#111" text-anchor="middle" transform="rotate(-90 38.7 109.3)" >Current (A)</text>
<text x="3.3" y="30.2" font-family="'Liberation Serif', serif" font-size="19.5" font-weight="bold" fill="#ff0000" text-anchor="start" >(a)</text>
<polyline points="409.06,216.1 409.06,191.42 410.22,188.14 411.39,184.93 412.56,181.8 413.73,178.75 414.89,175.76 416.06,172.84 417.23,169.99 418.4,167.2 419.56,164.48 420.73,161.82 421.9,159.22 423.07,156.68 424.23,154.19 425.4,151.76 426.57,149.39 427.74,147.06 428.9,144.79 430.07,142.56 431.24,140.39 432.41,138.26 433.57,136.17 434.74,134.12 435.91,132.12 437.07,130.16 438.24,128.24 439.41,126.36 440.58,124.52 441.74,122.71 442.91,120.94 444.08,119.2 445.25,117.5 446.41,115.83 447.58,114.19 448.75,112.58 449.92,111 451.08,109.44 452.25,107.92 453.42,106.42 454.59,104.94 455.75,103.48 456.92,102.05 458.09,100.64 459.25,99.25 460.42,97.88 461.59,96.52 462.76,95.18 463.92,93.86 465.09,92.55 466.26,91.25 467.43,89.97 468.59,88.7 469.76,87.44 470.93,86.19 472.1,84.96 473.26,83.75 474.43,82.54 475.6,81.35 476.77,80.18 477.93,79.01 479.1,77.86 480.27,76.73 481.44,75.6 482.6,74.5 483.77,73.4 484.94,72.32 486.1,71.26 487.27,70.21 488.44,69.17 489.61,68.14 490.77,67.14 491.94,66.14 493.11,65.16 494.28,64.2 495.44,63.25 496.61,62.31 497.78,61.39 498.95,60.48 500.11,59.59 501.28,58.71 502.45,57.85 503.62,57.01 504.78,56.17 505.95,55.36 507.12,54.56 508.28,53.77 509.45,53 510.62,52.25 511.79,51.51 512.95,50.78 514.12,50.07 515.29,49.38 516.46,48.7 517.62,48.04 518.79,47.4 519.96,46.77 521.13,46.16 522.29,45.56 523.46,44.98 524.63,44.42 525.8,43.87 526.96,43.34 528.13,42.82 529.3,42.32 530.46,41.84 531.63,41.37 532.8,40.92 533.97,40.49 535.13,40.08 536.3,39.68 537.47,39.3 538.64,38.93 539.8,38.58 540.97,38.25 542.14,37.94 543.31,37.64 544.47,37.37 545.64,37.1 546.81,36.86 547.98,36.63 547.48,59.07 547.82,61.39 548.15,63.62 548.48,65.76 548.81,67.82 549.15,69.8 549.48,71.7 549.81,73.53 550.14,75.29 550.48,76.99 550.81,78.63 551.14,80.21 551.47,81.74 551.81,83.22 552.14,84.65 552.47,86.03 552.8,87.37 553.14,88.67 553.47,89.93 553.8,91.16 554.13,92.35 554.47,93.51 554.8,94.64 555.13,95.75 555.47,96.82 555.8,97.87 556.13,98.89 556.46,99.89 556.8,100.87 557.13,101.83 557.46,102.76 557.79,103.68 558.13,104.59 558.46,105.47 558.79,106.34 559.12,107.19 559.46,108.04 559.79,108.86 560.12,109.68 560.45,110.48 560.79,111.27 561.12,112.05 561.45,112.82 561.78,113.58 562.12,114.33 562.45,115.07 562.78,115.8 563.12,116.53 563.45,117.25 563.78,117.96 564.11,118.66 564.45,119.36 564.78,120.05 565.11,120.73 565.44,121.41 565.78,122.09 566.11,122.75 566.44,123.42 566.77,124.08 567.11,124.73 567.44,125.38 567.77,126.03 568.1,126.67 568.44,127.3 568.77,127.94 569.1,128.57 569.43,129.2 569.77,129.82 570.1,130.44 570.43,131.06 571.26,132.59 572.09,134.09 572.92,135.59 573.74,137.07 574.57,138.53 575.4,139.99 576.23,141.43 577.05,142.86 577.88,144.29 578.71,145.7 579.54,147.1 580.37,148.49 581.19,149.88 582.02,151.26 582.85,152.62 583.68,153.98 584.5,155.34 585.33,156.68 586.16,158.02 586.99,159.35 587.81,160.67 588.64,161.99 589.47,163.29 590.3,164.6 591.13,165.89 591.95,167.18 592.78,168.46 593.61,169.73 594.44,171 595.26,172.25 596.09,173.51 596.92,174.75 597.75,175.99 598.57,177.22 599.4,178.45 600.23,179.67 601.06,180.88 601.89,182.08 602.71,183.28 603.54,184.47 604.37,185.66 605.2,186.84 606.02,188.01 606.85,189.17 607.68,190.33 608.51,191.48 609.34,192.62 610.16,193.76 610.99,194.89 611.82,196.02 612.65,197.13 613.47,198.24 614.3,199.35 615.13,200.45 615.96,201.54 616.78,202.62 617.61,203.7 618.44,204.77 619.27,205.83 620.1,206.89 620.92,207.94 621.75,208.98 622.58,210.02 623.41,211.05 624.23,212.07 625.06,213.09 625.89,214.1 626.72,215.1 627.55,216.1" fill="none" stroke="#aa22ff" stroke-width="1.8" stroke-linejoin="round" stroke-linecap="round" />
<polyline points="409.06,216.1 409.06,190.3 409.91,184.62 410.76,179.37 411.61,174.52 412.46,170.05 413.31,165.93 414.17,162.13 415.02,158.63 415.87,155.39 416.72,152.4 417.57,149.62 418.42,147.05 419.27,144.66 420.12,142.43 420.98,140.33 421.83,138.36 422.68,136.49 423.53,134.69 424.38,132.95 425.23,131.26 426.08,129.57 426.93,127.91 427.79,126.25 428.64,124.61 429.49,122.98 430.34,121.36 431.19,119.76 432.04,118.17 432.89,116.59 433.74,115.03 434.6,113.48 435.45,111.95 436.3,110.43 437.15,108.93 438,107.44 438.85,105.96 439.7,104.51 440.56,103.06 441.41,101.63 442.26,100.22 443.11,98.83 443.96,97.45 444.81,96.09 445.66,94.74 446.51,93.41 447.37,92.1 448.22,90.81 449.07,89.53 449.92,88.27 450.77,87.03 451.62,85.81 452.47,84.61 453.32,83.42 454.18,82.26 455.03,81.11 455.88,79.98 456.73,78.87 457.58,77.78 458.43,76.71 459.28,75.66 460.13,74.62 460.99,73.6 461.84,72.6 462.69,71.62 463.54,70.65 464.39,69.71 465.24,68.77 466.09,67.86 466.95,66.96 467.8,66.07 468.65,65.21 469.5,64.35 470.35,63.52 471.2,62.69 472.05,61.88 472.9,61.09 473.76,60.31 474.61,59.55 475.46,58.79 476.31,58.05 477.16,57.33 478.01,56.62 478.86,55.92 479.71,55.23 480.57,54.55 481.42,53.89 482.27,53.24 483.12,52.59 483.97,51.97 484.82,51.35 485.67,50.74 486.52,50.14 487.38,49.55 488.23,48.98 489.08,48.41 489.93,47.85 490.78,47.3 491.63,46.76 492.48,46.23 493.34,45.7 494.19,45.19 495.04,44.68 495.89,44.18 496.74,43.69 497.59,43.21 498.44,42.73 499.29,42.26 500.15,41.79 501,41.34 501.85,40.88 502.7,40.44 503.55,39.99 504.4,39.56 505.25,39.13 506.1,38.7 506.96,38.28 507.81,37.86 508.66,37.45 509.51,37.04 510.36,36.63 509.83,59.07 509.99,60.14 510.15,61.17 510.31,62.18 510.47,63.16 510.63,64.11 510.78,65.03 510.94,65.92 511.1,66.8 511.26,67.65 511.42,68.48 511.58,69.28 511.73,70.07 511.89,70.85 512.05,71.6 512.21,72.34 512.37,73.07 512.53,73.78 512.68,74.47 512.84,75.16 513,75.83 513.16,76.49 513.32,77.14 513.48,77.78 513.63,78.41 513.79,79.03 513.95,79.64 514.11,80.24 514.27,80.84 514.42,81.42 514.58,82.01 514.74,82.58 514.9,83.15 515.06,83.71 515.22,84.27 515.37,84.82 515.53,85.36 515.69,85.9 515.85,86.44 516.01,86.97 516.17,87.5 516.32,88.02 516.48,88.54 516.64,89.06 516.8,89.57 516.96,90.08 517.12,90.59 517.27,91.09 517.43,91.6 517.59,92.09 517.75,92.59 517.91,93.08 518.06,93.57 518.22,94.06 518.38,94.55 518.54,95.03 518.7,95.51 518.86,96 519.01,96.47 519.17,96.95 519.33,97.43 519.49,97.9 519.65,98.37 519.81,98.84 519.96,99.31 520.12,99.78 520.28,100.25 520.44,100.71 520.6,101.17 520.76,101.64 521.47,103.72 522.19,105.78 522.91,107.83 523.63,109.85 524.35,111.86 525.06,113.86 525.78,115.84 526.5,117.81 527.22,119.76 527.94,121.71 528.65,123.64 529.37,125.56 530.09,127.46 530.81,129.36 531.53,131.24 532.24,133.11 532.96,134.97 533.68,136.82 534.4,138.66 535.12,140.48 535.83,142.3 536.55,144.1 537.27,145.89 537.99,147.68 538.71,149.44 539.42,151.2 540.14,152.95 540.86,154.68 541.58,156.41 542.3,158.12 543.02,159.82 543.73,161.51 544.45,163.19 545.17,164.86 545.89,166.52 546.61,168.16 547.32,169.8 548.04,171.42 548.76,173.03 549.48,174.63 550.2,176.22 550.91,177.79 551.63,179.36 552.35,180.91 553.07,182.46 553.79,183.99 554.5,185.51 555.22,187.02 555.94,188.52 556.66,190.01 557.38,191.48 558.09,192.95 558.81,194.4 559.53,195.84 560.25,197.27 560.97,198.69 561.68,200.1 562.4,201.49 563.12,202.88 563.84,204.25 564.56,205.62 565.27,206.97 565.99,208.31 566.71,209.64 567.43,210.95 568.15,212.26 568.87,213.56 569.58,214.84 570.3,216.11" fill="none" stroke="#1a1aff" stroke-width="1.8" stroke-linejoin="round" stroke-linecap="round" />
<polyline points="409.06,216.1 409.12,191.65 409.68,184.01 410.24,177.36 410.8,171.6 411.35,166.66 411.91,162.43 412.47,158.84 413.03,155.78 413.58,153.18 414.14,150.95 414.7,149.03 415.25,147.37 415.81,145.91 416.37,144.61 416.93,143.42 417.48,142.28 418.04,141.14 418.6,139.99 419.16,138.84 419.71,137.69 420.27,136.53 420.83,135.36 421.39,134.2 421.94,133.03 422.5,131.86 423.06,130.69 423.62,129.51 424.17,128.34 424.73,127.17 425.29,126 425.85,124.83 426.4,123.66 426.96,122.49 427.52,121.33 428.07,120.17 428.63,119.02 429.19,117.87 429.75,116.73 430.3,115.59 430.86,114.46 431.42,113.33 431.98,112.21 432.53,111.09 433.09,109.97 433.65,108.87 434.21,107.76 434.76,106.66 435.32,105.56 435.88,104.47 436.44,103.39 436.99,102.31 437.55,101.23 438.11,100.15 438.67,99.09 439.22,98.02 439.78,96.96 440.34,95.91 440.89,94.85 441.45,93.81 442.01,92.76 442.57,91.73 443.12,90.69 443.68,89.66 444.24,88.63 444.8,87.61 445.35,86.59 445.91,85.58 446.47,84.57 447.03,83.56 447.58,82.56 448.14,81.56 448.7,80.56 449.26,79.57 449.81,78.59 450.37,77.6 450.93,76.62 451.49,75.65 452.04,74.67 452.6,73.7 453.16,72.74 453.71,71.77 454.27,70.82 454.83,69.86 455.39,68.91 455.94,67.96 456.5,67.01 457.06,66.07 457.62,65.13 458.17,64.2 458.73,63.27 459.29,62.34 459.85,61.41 460.4,60.49 460.96,59.57 461.52,58.65 462.08,57.74 462.63,56.83 463.19,55.92 463.75,55.02 464.31,54.11 464.86,53.22 465.42,52.32 465.98,51.43 466.53,50.54 467.09,49.65 467.65,48.76 468.21,47.88 468.76,47 469.32,46.12 469.88,45.25 470.44,44.38 470.99,43.51 471.55,42.64 472.11,41.77 472.67,40.91 473.22,40.05 473.78,39.19 474.34,38.34 474.9,37.48 475.45,36.63 474.93,59.74 475.01,61.34 475.1,62.86 475.19,64.3 475.27,65.68 475.36,67 475.44,68.25 475.53,69.45 475.62,70.59 475.7,71.68 475.79,72.72 475.87,73.72 475.96,74.68 476.05,75.59 476.13,76.47 476.22,77.31 476.3,78.11 476.39,78.89 476.48,79.63 476.56,80.34 476.65,81.03 476.73,81.69 476.82,82.33 476.91,82.95 476.99,83.54 477.08,84.12 477.17,84.67 477.25,85.21 477.34,85.73 477.42,86.23 477.51,86.72 477.6,87.19 477.68,87.65 477.77,88.1 477.85,88.54 477.94,88.96 478.03,89.38 478.11,89.78 478.2,90.17 478.28,90.56 478.37,90.93 478.46,91.3 478.54,91.66 478.63,92.02 478.71,92.36 478.8,92.7 478.89,93.04 478.97,93.36 479.06,93.69 479.14,94.01 479.23,94.32 479.32,94.63 479.4,94.93 479.49,95.23 479.58,95.53 479.66,95.82 479.75,96.11 479.83,96.4 479.92,96.68 480.01,96.96 480.09,97.24 480.18,97.51 480.26,97.78 480.35,98.05 480.44,98.32 480.52,98.59 480.61,98.85 480.69,99.11 480.78,99.37 480.87,99.63 481.56,101.68 482.26,103.65 482.96,105.58 483.66,107.48 484.36,109.37 485.05,111.23 485.75,113.08 486.45,114.93 487.15,116.76 487.84,118.59 488.54,120.42 489.24,122.23 489.94,124.04 490.64,125.84 491.33,127.64 492.03,129.43 492.73,131.22 493.43,133 494.12,134.77 494.82,136.54 495.52,138.3 496.22,140.06 496.92,141.81 497.61,143.56 498.31,145.3 499.01,147.03 499.71,148.76 500.4,150.48 501.1,152.2 501.8,153.91 502.5,155.61 503.2,157.31 503.89,159 504.59,160.69 505.29,162.37 505.99,164.05 506.68,165.72 507.38,167.38 508.08,169.04 508.78,170.69 509.48,172.34 510.17,173.98 510.87,175.61 511.57,177.24 512.27,178.87 512.97,180.48 513.66,182.09 514.36,183.7 515.06,185.3 515.76,186.89 516.45,188.48 517.15,190.07 517.85,191.64 518.55,193.21 519.25,194.78 519.94,196.34 520.64,197.89 521.34,199.44 522.04,200.98 522.73,202.52 523.43,204.05 524.13,205.57 524.83,207.09 525.53,208.6 526.22,210.11 526.92,211.61 527.62,213.11 528.32,214.6 529.01,216.08" fill="none" stroke="#33eebb" stroke-width="1.8" stroke-linejoin="round" stroke-linecap="round" />
<polyline points="409.06,216.1 409.06,169.88 409.28,167.27 409.5,164.74 409.73,162.28 409.95,159.89 410.18,157.58 410.4,155.33 410.62,153.15 410.85,151.04 411.07,148.99 411.29,147.01 411.52,145.08 411.74,143.21 411.96,141.39 412.19,139.63 412.41,137.92 412.63,136.26 412.86,134.65 413.08,133.08 413.3,131.56 413.53,130.08 413.75,128.63 413.98,127.23 414.2,125.86 414.42,124.52 414.65,123.22 414.87,121.94 415.09,120.69 415.32,119.47 415.54,118.27 415.76,117.09 415.99,115.94 416.21,114.8 416.43,113.67 416.66,112.56 416.88,111.46 417.1,110.37 417.33,109.29 417.55,108.21 417.78,107.14 418,106.07 418.22,105 418.45,103.94 418.67,102.88 418.89,101.83 419.12,100.77 419.34,99.73 419.56,98.68 419.79,97.65 420.01,96.61 420.23,95.58 420.46,94.55 420.68,93.53 420.9,92.51 421.13,91.5 421.35,90.49 421.58,89.48 421.8,88.48 422.02,87.49 422.25,86.49 422.47,85.51 422.69,84.52 422.92,83.54 423.14,82.57 423.36,81.6 423.59,80.64 423.81,79.68 424.03,78.72 424.26,77.77 424.48,76.82 424.7,75.88 424.93,74.95 425.15,74.02 425.38,73.09 425.6,72.17 425.82,71.26 426.05,70.34 426.27,69.44 426.49,68.54 426.72,67.64 426.94,66.75 427.16,65.87 427.39,64.99 427.61,64.12 427.83,63.25 428.06,62.39 428.28,61.53 428.5,60.68 428.73,59.83 428.95,58.99 429.18,58.16 429.4,57.33 429.62,56.51 429.85,55.69 430.07,54.88 430.29,54.08 430.52,53.28 430.74,52.48 430.96,51.7 431.19,50.92 431.41,50.14 431.63,49.37 431.86,48.61 432.08,47.85 432.3,47.1 432.53,46.36 432.75,45.62 432.98,44.89 433.2,44.17 433.42,43.45 433.65,42.74 433.87,42.03 434.09,41.33 434.32,40.64 434.54,39.96 434.76,39.28 434.99,38.61 435.21,37.94 435.43,37.28 435.66,36.63 435.14,85.99 435.44,89.57 435.73,93.02 436.03,96.35 436.32,99.56 436.62,102.66 436.92,105.65 437.21,108.53 437.51,111.32 437.8,114.03 438.1,116.64 438.39,119.17 438.69,121.63 438.98,124.01 439.28,126.32 439.57,128.57 439.87,130.75 440.16,132.88 440.46,134.95 440.76,136.98 441.05,138.95 441.35,140.88 441.64,142.76 441.94,144.61 442.23,146.42 442.53,148.19 442.82,149.93 443.12,151.64 443.41,153.33 443.71,154.98 444.01,156.62 444.3,158.23 444.6,159.82 444.89,161.4 445.19,162.95 445.48,164.5 445.78,166.03 446.07,167.54 446.37,169.05 446.66,170.55 446.96,172.04 447.26,173.52 447.55,175 447.85,176.48 448.14,177.95 448.44,179.42 448.73,180.88 449.03,182.35 449.32,183.82 449.62,185.29 449.91,186.76 450.21,188.24 450.51,189.72 450.8,191.2 451.1,192.69 451.39,194.19 451.69,195.69 451.98,197.2 452.28,198.72 452.57,200.25 452.87,201.78 453.16,203.33 453.46,204.89 453.76,206.45 454.05,208.03 454.35,209.62 454.64,211.22 454.94,212.83 455.23,214.46 455.53,216.1 455.53,216.1 455.53,216.1 455.53,216.1 455.53,216.1 455.53,216.1 455.53,216.1 455.53,216.1 455.53,216.1 455.53,216.1 455.53,216.1 455.53,216.1 455.53,216.1 455.53,216.1 455.53,216.1 455.53,216.1 455.53,216.1 455.53,216.1 455.53,216.1 455.53,216.1 455.53,216.1 455.53,216.1 455.53,216.1 455.53,216.1 455.53,216.1 455.53,216.1 455.53,216.1 455.53,216.1 455.53,216.1 455.53,216.1 455.53,216.1 455.53,216.1 455.53,216.1 455.53,216.1 455.53,216.1 455.53,216.1 455.53,216.1 455.53,216.1 455.53,216.1 455.53,216.1 455.53,216.1 455.53,216.1 455.53,216.1 455.53,216.1 455.53,216.1 455.53,216.1 455.53,216.1 455.53,216.1 455.53,216.1 455.53,216.1 455.53,216.1 455.53,216.1 455.53,216.1 455.53,216.1 455.53,216.1 455.53,216.1 455.53,216.1 455.53,216.1 455.53,216.1 455.53,216.1 455.53,216.1 455.53,216.1 455.53,216.1 455.53,216.1 455.53,216.1 455.53,216.1 455.53,216.1 455.53,216.1 455.53,216.1 455.53,216.1" fill="none" stroke="#ffcc11" stroke-width="1.8" stroke-linejoin="round" stroke-linecap="round" />
<polyline points="409.06,216.1 409.06,162.03 409.23,159.49 409.4,157.01 409.57,154.61 409.74,152.27 409.9,149.99 410.07,147.78 410.24,145.64 410.41,143.55 410.58,141.52 410.75,139.55 410.92,137.64 411.09,135.78 411.26,133.98 411.43,132.23 411.6,130.52 411.77,128.87 411.94,127.26 412.11,125.7 412.28,124.19 412.45,122.71 412.62,121.28 412.79,119.89 412.96,118.54 413.12,117.22 413.29,115.94 413.46,114.69 413.63,113.48 413.8,112.29 413.97,111.13 414.14,110.01 414.31,108.9 414.48,107.83 414.65,106.77 414.82,105.74 414.99,104.73 415.16,103.73 415.33,102.76 415.5,101.8 415.67,100.85 415.84,99.92 416.01,98.99 416.18,98.08 416.34,97.17 416.51,96.27 416.68,95.38 416.85,94.49 417.02,93.61 417.19,92.73 417.36,91.85 417.53,90.98 417.7,90.11 417.87,89.25 418.04,88.39 418.21,87.54 418.38,86.68 418.55,85.84 418.72,84.99 418.89,84.15 419.06,83.32 419.23,82.49 419.39,81.66 419.56,80.83 419.73,80.01 419.9,79.19 420.07,78.37 420.24,77.56 420.41,76.75 420.58,75.94 420.75,75.14 420.92,74.34 421.09,73.54 421.26,72.74 421.43,71.95 421.6,71.16 421.77,70.37 421.94,69.58 422.11,68.79 422.28,68.01 422.45,67.23 422.61,66.45 422.78,65.67 422.95,64.9 423.12,64.12 423.29,63.35 423.46,62.58 423.63,61.81 423.8,61.04 423.97,60.27 424.14,59.51 424.31,58.74 424.48,57.98 424.65,57.22 424.82,56.45 424.99,55.69 425.16,54.93 425.33,54.17 425.5,53.41 425.67,52.65 425.83,51.89 426,51.13 426.17,50.37 426.34,49.61 426.51,48.85 426.68,48.09 426.85,47.33 427.02,46.57 427.19,45.81 427.36,45.05 427.53,44.29 427.7,43.53 427.87,42.77 428.04,42 428.21,41.24 428.38,40.48 428.55,39.71 428.72,38.94 428.89,38.17 429.05,37.4 429.22,36.63 428.84,92.72 428.95,95.06 429.06,97.3 429.17,99.45 429.28,101.52 429.39,103.5 429.5,105.41 429.6,107.25 429.71,109.02 429.82,110.73 429.93,112.37 430.04,113.96 430.15,115.49 430.26,116.98 430.37,118.41 430.48,119.8 430.59,121.15 430.7,122.46 430.81,123.73 430.91,124.97 431.02,126.17 431.13,127.34 431.24,128.48 431.35,129.59 431.46,130.67 431.57,131.73 431.68,132.77 431.79,133.79 431.9,134.78 432.01,135.76 432.12,136.71 432.22,137.65 432.33,138.57 432.44,139.48 432.55,140.37 432.66,141.25 432.77,142.12 432.88,142.97 432.99,143.82 433.1,144.65 433.21,145.47 433.32,146.28 433.43,147.09 433.54,147.88 433.64,148.67 433.75,149.45 433.86,150.22 433.97,150.99 434.08,151.75 434.19,152.5 434.3,153.25 434.41,154 434.52,154.74 434.63,155.48 434.74,156.21 434.85,156.93 434.95,157.66 435.06,158.38 435.17,159.1 435.28,159.81 435.39,160.53 435.5,161.24 435.61,161.94 435.72,162.65 435.83,163.35 435.94,164.06 436.05,164.76 436.16,165.45 436.26,166.15 436.37,166.85 436.49,167.56 436.6,168.27 436.71,168.98 436.82,169.69 436.93,170.4 437.05,171.11 437.16,171.82 437.27,172.53 437.38,173.23 437.49,173.94 437.61,174.65 437.72,175.35 437.83,176.06 437.94,176.76 438.05,177.47 438.17,178.17 438.28,178.88 438.39,179.58 438.5,180.29 438.62,180.99 438.73,181.7 438.84,182.4 438.95,183.11 439.06,183.82 439.18,184.52 439.29,185.23 439.4,185.94 439.51,186.64 439.62,187.35 439.74,188.06 439.85,188.77 439.96,189.47 440.07,190.18 440.18,190.89 440.3,191.6 440.41,192.31 440.52,193.03 440.63,193.74 440.75,194.45 440.86,195.16 440.97,195.88 441.08,196.59 441.19,197.3 441.31,198.02 441.42,198.73 441.53,199.45 441.64,200.17 441.75,200.88 441.87,201.6 441.98,202.32 442.09,203.04 442.2,203.76 442.31,204.48 442.43,205.2 442.54,205.92 442.65,206.65 442.76,207.37 442.87,208.09 442.99,208.82 443.1,209.54 443.21,210.27 443.32,211 443.44,211.72 443.55,212.45 443.66,213.18 443.77,213.91 443.88,214.64 444,215.37 444.11,216.1" fill="none" stroke="#ff4411" stroke-width="1.8" stroke-linejoin="round" stroke-linecap="round" />
<line x1="407.35" y1="14.2" x2="656.05" y2="14.2" stroke="#111" stroke-width="1.7" />
<line x1="407.35" y1="216.1" x2="656.05" y2="216.1" stroke="#111" stroke-width="1.7" />
<line x1="408.2" y1="13.35" x2="408.2" y2="216.95" stroke="#111" stroke-width="1.7" />
<line x1="655.2" y1="13.35" x2="655.2" y2="216.95" stroke="#111" stroke-width="1.7" />
<line x1="408.4" y1="216.1" x2="408.4" y2="219.9" stroke="#111" stroke-width="1.6" />
<line x1="463.2" y1="216.1" x2="463.2" y2="219.9" stroke="#111" stroke-width="1.6" />
<line x1="518" y1="216.1" x2="518" y2="219.9" stroke="#111" stroke-width="1.6" />
<line x1="572.8" y1="216.1" x2="572.8" y2="219.9" stroke="#111" stroke-width="1.6" />
<line x1="627.6" y1="216.1" x2="627.6" y2="219.9" stroke="#111" stroke-width="1.6" />
<line x1="435.8" y1="216.1" x2="435.8" y2="218.2" stroke="#111" stroke-width="1.2" />
<line x1="490.6" y1="216.1" x2="490.6" y2="218.2" stroke="#111" stroke-width="1.2" />
<line x1="545.4" y1="216.1" x2="545.4" y2="218.2" stroke="#111" stroke-width="1.2" />
<line x1="600.2" y1="216.1" x2="600.2" y2="218.2" stroke="#111" stroke-width="1.2" />
<line x1="655" y1="216.1" x2="655" y2="218.2" stroke="#111" stroke-width="1.2" />
<text x="408.4" y="233.3" font-family="'Liberation Serif', serif" font-size="13.7" font-weight="bold" fill="#111" text-anchor="middle" >0</text>
<text x="463.2" y="233.3" font-family="'Liberation Serif', serif" font-size="13.7" font-weight="bold" fill="#111" text-anchor="middle" >500</text>
<text x="518" y="233.3" font-family="'Liberation Serif', serif" font-size="13.7" font-weight="bold" fill="#111" text-anchor="middle" >1000</text>
<text x="572.8" y="233.3" font-family="'Liberation Serif', serif" font-size="13.7" font-weight="bold" fill="#111" text-anchor="middle" >1500</text>
<text x="627.6" y="233.3" font-family="'Liberation Serif', serif" font-size="13.7" font-weight="bold" fill="#111" text-anchor="middle" >2000</text>
<line x1="408.2" y1="216.1" x2="404.4" y2="216.1" stroke="#111" stroke-width="1.6" />
<line x1="408.2" y1="171.23" x2="404.4" y2="171.23" stroke="#111" stroke-width="1.6" />
<line x1="408.2" y1="126.37" x2="404.4" y2="126.37" stroke="#111" stroke-width="1.6" />
<line x1="408.2" y1="81.5" x2="404.4" y2="81.5" stroke="#111" stroke-width="1.6" />
<line x1="408.2" y1="36.63" x2="404.4" y2="36.63" stroke="#111" stroke-width="1.6" />
<line x1="408.2" y1="193.67" x2="406.1" y2="193.67" stroke="#111" stroke-width="1.2" />
<line x1="408.2" y1="148.8" x2="406.1" y2="148.8" stroke="#111" stroke-width="1.2" />
<line x1="408.2" y1="103.93" x2="406.1" y2="103.93" stroke="#111" stroke-width="1.2" />
<line x1="408.2" y1="59.07" x2="406.1" y2="59.07" stroke="#111" stroke-width="1.2" />
<line x1="408.2" y1="14.2" x2="406.1" y2="14.2" stroke="#111" stroke-width="1.2" />
<text x="401.7" y="220.65" font-family="'Liberation Serif', serif" font-size="13.7" font-weight="bold" fill="#111" text-anchor="end" >0.0</text>
<text x="401.7" y="175.78" font-family="'Liberation Serif', serif" font-size="13.7" font-weight="bold" fill="#111" text-anchor="end" >0.2</text>
<text x="401.7" y="130.92" font-family="'Liberation Serif', serif" font-size="13.7" font-weight="bold" fill="#111" text-anchor="end" >0.4</text>
<text x="401.7" y="86.05" font-family="'Liberation Serif', serif" font-size="13.7" font-weight="bold" fill="#111" text-anchor="end" >0.6</text>
<text x="401.7" y="41.18" font-family="'Liberation Serif', serif" font-size="13.7" font-weight="bold" fill="#111" text-anchor="end" >0.8</text>
<line x1="567.8" y1="39.8" x2="592.7" y2="39.8" stroke="#aa22ff" stroke-width="2.2" />
<text x="594.8" y="43.4" font-family="'Liberation Serif', serif" font-size="10.3" font-weight="bold" fill="#111" text-anchor="start" >0.8mA/cm<tspan font-size="7" dy="-4.1">2</tspan></text>
<line x1="567.8" y1="54.3" x2="592.7" y2="54.3" stroke="#1a1aff" stroke-width="2.2" />
<text x="594.8" y="57.9" font-family="'Liberation Serif', serif" font-size="10.3" font-weight="bold" fill="#111" text-anchor="start" >1.2mA/cm<tspan font-size="7" dy="-4.1">2</tspan></text>
<line x1="567.8" y1="68.8" x2="592.7" y2="68.8" stroke="#33eebb" stroke-width="2.2" />
<text x="594.8" y="72.4" font-family="'Liberation Serif', serif" font-size="10.3" font-weight="bold" fill="#111" text-anchor="start" >1.6mA/cm<tspan font-size="7" dy="-4.1">2</tspan></text>
<line x1="567.8" y1="83.3" x2="592.7" y2="83.3" stroke="#ffcc11" stroke-width="2.2" />
<text x="594.8" y="86.9" font-family="'Liberation Serif', serif" font-size="10.3" font-weight="bold" fill="#111" text-anchor="start" >2.0mA/cm<tspan font-size="7" dy="-4.1">2</tspan></text>
<line x1="567.8" y1="97.8" x2="592.7" y2="97.8" stroke="#ff4411" stroke-width="2.2" />
<text x="594.8" y="101.4" font-family="'Liberation Serif', serif" font-size="10.3" font-weight="bold" fill="#111" text-anchor="start" >2.4mA/cm<tspan font-size="7" dy="-4.1">2</tspan></text>
<text x="534" y="250.9" font-family="'Liberation Serif', serif" font-size="17" font-weight="bold" fill="#111" text-anchor="middle" >Times (s)</text>
<text x="380.3" y="111.7" font-family="'Liberation Serif', serif" font-size="17" font-weight="bold" fill="#111" text-anchor="middle" transform="rotate(-90 380.3 111.7)" >Voltage (V)</text>
<text x="350.8" y="29.2" font-family="'Liberation Serif', serif" font-size="19.5" font-weight="bold" fill="#ff0000" text-anchor="start" >(b)</text>
<defs><clipPath id="clipc"><rect x="755.2" y="12.5" width="251.1" height="201.9"/></clipPath></defs>
<g clip-path="url(#clipc)"><polyline points="822.8,216.5 822.9,212.5 823.2,208.6 824,205.2 825.6,202.6 828,200.9 831,200.2 834.5,200.4 837,201.4 838.8,202.4 840.5,202.2 842.3,201.2 845,199 847.8,196.9 851,195.5 854.1,194.5 857.2,192.2 861.9,185.9 866.6,179.7 871.25,173.4 875.9,168 881.4,162.5 885.7,157.1 889.6,151 893.5,144 898.4,136 903.6,126.9 909.2,116.4 915.8,103.9 923.2,89.9 931.4,73.4 941.1,54.7" fill="none" stroke="#d63cf6" stroke-width="1.7" stroke-linejoin="round"/>
<circle cx="941.1" cy="54.7" r="2.1" fill="#eba6ff" stroke="#d63cf6" stroke-width="1.4"/>
<circle cx="931.38" cy="73.43" r="2.1" fill="#eba6ff" stroke="#d63cf6" stroke-width="1.4"/>
<circle cx="923.1" cy="90.09" r="2.1" fill="#eba6ff" stroke="#d63cf6" stroke-width="1.4"/>
<circle cx="915.43" cy="104.61" r="2.1" fill="#eba6ff" stroke="#d63cf6" stroke-width="1.4"/>
<circle cx="908.66" cy="117.41" r="2.1" fill="#eba6ff" stroke="#d63cf6" stroke-width="1.4"/>
<circle cx="902.6" cy="128.64" r="2.1" fill="#eba6ff" stroke="#d63cf6" stroke-width="1.4"/>
<circle cx="896.94" cy="138.38" r="2.1" fill="#eba6ff" stroke="#d63cf6" stroke-width="1.4"/>
<circle cx="891.87" cy="146.92" r="2.1" fill="#eba6ff" stroke="#d63cf6" stroke-width="1.4"/>
<circle cx="887.4" cy="154.45" r="2.1" fill="#eba6ff" stroke="#d63cf6" stroke-width="1.4"/>
<circle cx="882.85" cy="160.68" r="2.1" fill="#eba6ff" stroke="#d63cf6" stroke-width="1.4"/>
<circle cx="878.23" cy="165.67" r="2.1" fill="#eba6ff" stroke="#d63cf6" stroke-width="1.4"/>
<circle cx="874.12" cy="170.06" r="2.1" fill="#eba6ff" stroke="#d63cf6" stroke-width="1.4"/>
<circle cx="870.72" cy="174.12" r="2.1" fill="#eba6ff" stroke="#d63cf6" stroke-width="1.4"/>
<circle cx="867.94" cy="177.89" r="2.1" fill="#eba6ff" stroke="#d63cf6" stroke-width="1.4"/>
<circle cx="865.47" cy="181.19" r="2.1" fill="#eba6ff" stroke="#d63cf6" stroke-width="1.4"/>
<circle cx="863.27" cy="184.09" r="2.1" fill="#eba6ff" stroke="#d63cf6" stroke-width="1.4"/>
<circle cx="861.34" cy="186.65" r="2.1" fill="#eba6ff" stroke="#d63cf6" stroke-width="1.4"/>
<circle cx="859.65" cy="188.92" r="2.1" fill="#eba6ff" stroke="#d63cf6" stroke-width="1.4"/>
<circle cx="858.16" cy="190.92" r="2.1" fill="#eba6ff" stroke="#d63cf6" stroke-width="1.4"/>
<circle cx="856.72" cy="192.56" r="2.1" fill="#eba6ff" stroke="#d63cf6" stroke-width="1.4"/>
<circle cx="855.16" cy="193.72" r="2.1" fill="#eba6ff" stroke="#d63cf6" stroke-width="1.4"/>
<circle cx="853.72" cy="194.62" r="2.1" fill="#eba6ff" stroke="#d63cf6" stroke-width="1.4"/>
<circle cx="852.28" cy="195.09" r="2.1" fill="#eba6ff" stroke="#d63cf6" stroke-width="1.4"/>
<circle cx="851.02" cy="195.49" r="2.1" fill="#eba6ff" stroke="#d63cf6" stroke-width="1.4"/>
<circle cx="849.94" cy="195.96" r="2.1" fill="#eba6ff" stroke="#d63cf6" stroke-width="1.4"/>
<circle cx="848.93" cy="196.4" r="2.1" fill="#eba6ff" stroke="#d63cf6" stroke-width="1.4"/>
<circle cx="847.92" cy="196.85" r="2.1" fill="#eba6ff" stroke="#d63cf6" stroke-width="1.4"/>
<circle cx="847.03" cy="197.48" r="2.1" fill="#eba6ff" stroke="#d63cf6" stroke-width="1.4"/>
<circle cx="846.15" cy="198.14" r="2.1" fill="#eba6ff" stroke="#d63cf6" stroke-width="1.4"/>
<circle cx="845.27" cy="198.8" r="2.1" fill="#eba6ff" stroke="#d63cf6" stroke-width="1.4"/>
<circle cx="844.41" cy="199.48" r="2.1" fill="#eba6ff" stroke="#d63cf6" stroke-width="1.4"/>
<circle cx="843.55" cy="200.18" r="2.1" fill="#eba6ff" stroke="#d63cf6" stroke-width="1.4"/>
<circle cx="842.7" cy="200.87" r="2.1" fill="#eba6ff" stroke="#d63cf6" stroke-width="1.4"/>
<circle cx="841.79" cy="201.48" r="2.1" fill="#eba6ff" stroke="#d63cf6" stroke-width="1.4"/>
<circle cx="840.83" cy="202.02" r="2.1" fill="#eba6ff" stroke="#d63cf6" stroke-width="1.4"/>
<circle cx="839.78" cy="202.28" r="2.1" fill="#eba6ff" stroke="#d63cf6" stroke-width="1.4"/>
<circle cx="838.7" cy="202.35" r="2.1" fill="#eba6ff" stroke="#d63cf6" stroke-width="1.4"/>
<circle cx="837.74" cy="201.81" r="2.1" fill="#eba6ff" stroke="#d63cf6" stroke-width="1.4"/>
<circle cx="836.77" cy="201.31" r="2.1" fill="#eba6ff" stroke="#d63cf6" stroke-width="1.4"/>
<circle cx="835.74" cy="200.9" r="2.1" fill="#eba6ff" stroke="#d63cf6" stroke-width="1.4"/>
<circle cx="834.72" cy="200.49" r="2.1" fill="#eba6ff" stroke="#d63cf6" stroke-width="1.4"/>
<circle cx="833.64" cy="200.35" r="2.1" fill="#eba6ff" stroke="#d63cf6" stroke-width="1.4"/>
<circle cx="832.54" cy="200.29" r="2.1" fill="#eba6ff" stroke="#d63cf6" stroke-width="1.4"/>
<circle cx="831.45" cy="200.23" r="2.1" fill="#eba6ff" stroke="#d63cf6" stroke-width="1.4"/>
<circle cx="830.36" cy="200.35" r="2.1" fill="#eba6ff" stroke="#d63cf6" stroke-width="1.4"/>
<circle cx="829.29" cy="200.6" r="2.1" fill="#eba6ff" stroke="#d63cf6" stroke-width="1.4"/>
<circle cx="828.22" cy="200.85" r="2.1" fill="#eba6ff" stroke="#d63cf6" stroke-width="1.4"/>
<circle cx="827.29" cy="201.4" r="2.1" fill="#eba6ff" stroke="#d63cf6" stroke-width="1.4"/>
<circle cx="826.39" cy="202.04" r="2.1" fill="#eba6ff" stroke="#d63cf6" stroke-width="1.4"/>
<circle cx="825.53" cy="202.71" r="2.1" fill="#eba6ff" stroke="#d63cf6" stroke-width="1.4"/>
<circle cx="824.95" cy="203.65" r="2.1" fill="#eba6ff" stroke="#d63cf6" stroke-width="1.4"/>
<circle cx="824.38" cy="204.59" r="2.1" fill="#eba6ff" stroke="#d63cf6" stroke-width="1.4"/>
<circle cx="823.91" cy="205.57" r="2.1" fill="#eba6ff" stroke="#d63cf6" stroke-width="1.4"/>
<circle cx="823.66" cy="206.64" r="2.1" fill="#eba6ff" stroke="#d63cf6" stroke-width="1.4"/>
<circle cx="823.41" cy="207.71" r="2.1" fill="#eba6ff" stroke="#d63cf6" stroke-width="1.4"/>
<circle cx="823.19" cy="208.79" r="2.1" fill="#eba6ff" stroke="#d63cf6" stroke-width="1.4"/>
<circle cx="823.1" cy="209.88" r="2.1" fill="#eba6ff" stroke="#d63cf6" stroke-width="1.4"/>
<circle cx="823.02" cy="210.98" r="2.1" fill="#eba6ff" stroke="#d63cf6" stroke-width="1.4"/>
<circle cx="822.93" cy="212.08" r="2.1" fill="#eba6ff" stroke="#d63cf6" stroke-width="1.4"/>
<circle cx="822.88" cy="213.17" r="2.1" fill="#eba6ff" stroke="#d63cf6" stroke-width="1.4"/>
<circle cx="822.86" cy="214.27" r="2.1" fill="#eba6ff" stroke="#d63cf6" stroke-width="1.4"/>
<circle cx="822.83" cy="215.37" r="2.1" fill="#eba6ff" stroke="#d63cf6" stroke-width="1.4"/>
<circle cx="822.8" cy="216.47" r="2.1" fill="#eba6ff" stroke="#d63cf6" stroke-width="1.4"/>
</g>
<line x1="754.35" y1="12.5" x2="1007.15" y2="12.5" stroke="#111" stroke-width="1.7" />
<line x1="754.35" y1="214.4" x2="1007.15" y2="214.4" stroke="#111" stroke-width="1.7" />
<line x1="755.2" y1="11.65" x2="755.2" y2="215.25" stroke="#111" stroke-width="1.7" />
<line x1="1006.3" y1="11.65" x2="1006.3" y2="215.25" stroke="#111" stroke-width="1.7" />
<line x1="755.2" y1="214.4" x2="755.2" y2="218.2" stroke="#111" stroke-width="1.6" />
<line x1="791.07" y1="214.4" x2="791.07" y2="218.2" stroke="#111" stroke-width="1.6" />
<line x1="826.94" y1="214.4" x2="826.94" y2="218.2" stroke="#111" stroke-width="1.6" />
<line x1="862.81" y1="214.4" x2="862.81" y2="218.2" stroke="#111" stroke-width="1.6" />
<line x1="898.69" y1="214.4" x2="898.69" y2="218.2" stroke="#111" stroke-width="1.6" />
<line x1="934.56" y1="214.4" x2="934.56" y2="218.2" stroke="#111" stroke-width="1.6" />
<line x1="970.43" y1="214.4" x2="970.43" y2="218.2" stroke="#111" stroke-width="1.6" />
<line x1="1006.3" y1="214.4" x2="1006.3" y2="218.2" stroke="#111" stroke-width="1.6" />
<line x1="773.14" y1="214.4" x2="773.14" y2="216.5" stroke="#111" stroke-width="1.2" />
<line x1="809.01" y1="214.4" x2="809.01" y2="216.5" stroke="#111" stroke-width="1.2" />
<line x1="844.88" y1="214.4" x2="844.88" y2="216.5" stroke="#111" stroke-width="1.2" />
<line x1="880.75" y1="214.4" x2="880.75" y2="216.5" stroke="#111" stroke-width="1.2" />
<line x1="916.62" y1="214.4" x2="916.62" y2="216.5" stroke="#111" stroke-width="1.2" />
<line x1="952.49" y1="214.4" x2="952.49" y2="216.5" stroke="#111" stroke-width="1.2" />
<line x1="988.36" y1="214.4" x2="988.36" y2="216.5" stroke="#111" stroke-width="1.2" />
<text x="755.2" y="231.6" font-family="'Liberation Serif', serif" font-size="13.7" font-weight="bold" fill="#111" text-anchor="middle" >10</text>
<text x="791.07" y="231.6" font-family="'Liberation Serif', serif" font-size="13.7" font-weight="bold" fill="#111" text-anchor="middle" >12</text>
<text x="826.94" y="231.6" font-family="'Liberation Serif', serif" font-size="13.7" font-weight="bold" fill="#111" text-anchor="middle" >14</text>
<text x="862.81" y="231.6" font-family="'Liberation Serif', serif" font-size="13.7" font-weight="bold" fill="#111" text-anchor="middle" >16</text>
<text x="898.69" y="231.6" font-family="'Liberation Serif', serif" font-size="13.7" font-weight="bold" fill="#111" text-anchor="middle" >18</text>
<text x="934.56" y="231.6" font-family="'Liberation Serif', serif" font-size="13.7" font-weight="bold" fill="#111" text-anchor="middle" >20</text>
<text x="970.43" y="231.6" font-family="'Liberation Serif', serif" font-size="13.7" font-weight="bold" fill="#111" text-anchor="middle" >22</text>
<text x="1006.3" y="231.6" font-family="'Liberation Serif', serif" font-size="13.7" font-weight="bold" fill="#111" text-anchor="middle" >24</text>
<line x1="755.2" y1="204" x2="751.4" y2="204" stroke="#111" stroke-width="1.6" />
<line x1="755.2" y1="165.7" x2="751.4" y2="165.7" stroke="#111" stroke-width="1.6" />
<line x1="755.2" y1="127.4" x2="751.4" y2="127.4" stroke="#111" stroke-width="1.6" />
<line x1="755.2" y1="89.1" x2="751.4" y2="89.1" stroke="#111" stroke-width="1.6" />
<line x1="755.2" y1="50.8" x2="751.4" y2="50.8" stroke="#111" stroke-width="1.6" />
<line x1="755.2" y1="12.5" x2="751.4" y2="12.5" stroke="#111" stroke-width="1.6" />
<line x1="755.2" y1="184.85" x2="753.1" y2="184.85" stroke="#111" stroke-width="1.2" />
<line x1="755.2" y1="146.55" x2="753.1" y2="146.55" stroke="#111" stroke-width="1.2" />
<line x1="755.2" y1="108.25" x2="753.1" y2="108.25" stroke="#111" stroke-width="1.2" />
<line x1="755.2" y1="69.95" x2="753.1" y2="69.95" stroke="#111" stroke-width="1.2" />
<line x1="755.2" y1="31.65" x2="753.1" y2="31.65" stroke="#111" stroke-width="1.2" />
<text x="747.9" y="208.55" font-family="'Liberation Serif', serif" font-size="13.7" font-weight="bold" fill="#111" text-anchor="end" >0</text>
<text x="747.9" y="170.25" font-family="'Liberation Serif', serif" font-size="13.7" font-weight="bold" fill="#111" text-anchor="end" >2</text>
<text x="747.9" y="131.95" font-family="'Liberation Serif', serif" font-size="13.7" font-weight="bold" fill="#111" text-anchor="end" >4</text>
<text x="747.9" y="93.65" font-family="'Liberation Serif', serif" font-size="13.7" font-weight="bold" fill="#111" text-anchor="end" >6</text>
<text x="747.9" y="55.35" font-family="'Liberation Serif', serif" font-size="13.7" font-weight="bold" fill="#111" text-anchor="end" >8</text>
<text x="747.9" y="17.05" font-family="'Liberation Serif', serif" font-size="13.7" font-weight="bold" fill="#111" text-anchor="end" >10</text>
<text x="856" y="248.6" font-family="'Liberation Serif', serif" font-size="17" font-weight="bold" fill="#111" text-anchor="start" ><tspan font-style="italic">Z′</tspan><tspan font-weight="normal"> (Ω)</tspan></text>
<text x="732.8" y="150" font-family="'Liberation Serif', serif" font-size="17" font-weight="bold" fill="#111" text-anchor="start" transform="rotate(-90 732.8 150)" ><tspan fill="#14253f">−</tspan><tspan dx="3.3" font-style="italic">Z″</tspan><tspan dx="-0.6" font-weight="normal"> (Ω)</tspan></text>
<text x="709.5" y="30" font-family="'Liberation Serif', serif" font-size="19.5" font-weight="bold" fill="#ff0000" text-anchor="start" >(c)</text>
<polyline points="68.3,266.8 77.47,268.37 86.64,271.51 95.82,272.1 104.99,275.24 114.16,276.61 123.33,277.79 132.5,277.98 141.68,279.16 150.85,279.36 160.02,280.73 169.19,282.1 178.36,283.48 187.54,283.48 196.71,283.38 205.88,284.85 215.05,286.03 224.22,286.03 233.4,287.01 242.57,287.79 251.74,288.97 265.5,288.97 274.67,289.17 283.84,290.15 293.01,290.15 297.6,291.33" fill="none" stroke="#1e8f5e" stroke-width="1.6" stroke-linejoin="round" stroke-linecap="round" />
<circle cx="68.3" cy="266.8" r="2.0" fill="#62b896" stroke="#1e8f5e" stroke-width="1.3"/>
<circle cx="77.47" cy="268.37" r="2.0" fill="#62b896" stroke="#1e8f5e" stroke-width="1.3"/>
<circle cx="86.64" cy="271.51" r="2.0" fill="#62b896" stroke="#1e8f5e" stroke-width="1.3"/>
<circle cx="95.82" cy="272.1" r="2.0" fill="#62b896" stroke="#1e8f5e" stroke-width="1.3"/>
<circle cx="104.99" cy="275.24" r="2.0" fill="#62b896" stroke="#1e8f5e" stroke-width="1.3"/>
<circle cx="114.16" cy="276.61" r="2.0" fill="#62b896" stroke="#1e8f5e" stroke-width="1.3"/>
<circle cx="123.33" cy="277.79" r="2.0" fill="#62b896" stroke="#1e8f5e" stroke-width="1.3"/>
<circle cx="132.5" cy="277.98" r="2.0" fill="#62b896" stroke="#1e8f5e" stroke-width="1.3"/>
<circle cx="141.68" cy="279.16" r="2.0" fill="#62b896" stroke="#1e8f5e" stroke-width="1.3"/>
<circle cx="150.85" cy="279.36" r="2.0" fill="#62b896" stroke="#1e8f5e" stroke-width="1.3"/>
<circle cx="160.02" cy="280.73" r="2.0" fill="#62b896" stroke="#1e8f5e" stroke-width="1.3"/>
<circle cx="169.19" cy="282.1" r="2.0" fill="#62b896" stroke="#1e8f5e" stroke-width="1.3"/>
<circle cx="178.36" cy="283.48" r="2.0" fill="#62b896" stroke="#1e8f5e" stroke-width="1.3"/>
<circle cx="187.54" cy="283.48" r="2.0" fill="#62b896" stroke="#1e8f5e" stroke-width="1.3"/>
<circle cx="196.71" cy="283.38" r="2.0" fill="#62b896" stroke="#1e8f5e" stroke-width="1.3"/>
<circle cx="205.88" cy="284.85" r="2.0" fill="#62b896" stroke="#1e8f5e" stroke-width="1.3"/>
<circle cx="215.05" cy="286.03" r="2.0" fill="#62b896" stroke="#1e8f5e" stroke-width="1.3"/>
<circle cx="224.22" cy="286.03" r="2.0" fill="#62b896" stroke="#1e8f5e" stroke-width="1.3"/>
<circle cx="233.4" cy="287.01" r="2.0" fill="#62b896" stroke="#1e8f5e" stroke-width="1.3"/>
<circle cx="242.57" cy="287.79" r="2.0" fill="#62b896" stroke="#1e8f5e" stroke-width="1.3"/>
<circle cx="251.74" cy="288.97" r="2.0" fill="#62b896" stroke="#1e8f5e" stroke-width="1.3"/>
<circle cx="265.5" cy="288.97" r="2.0" fill="#62b896" stroke="#1e8f5e" stroke-width="1.3"/>
<circle cx="274.67" cy="289.17" r="2.0" fill="#62b896" stroke="#1e8f5e" stroke-width="1.3"/>
<circle cx="283.84" cy="290.15" r="2.0" fill="#62b896" stroke="#1e8f5e" stroke-width="1.3"/>
<circle cx="293.01" cy="290.15" r="2.0" fill="#62b896" stroke="#1e8f5e" stroke-width="1.3"/>
<circle cx="297.6" cy="291.33" r="2.0" fill="#62b896" stroke="#1e8f5e" stroke-width="1.3"/>
<line x1="67.45" y1="262.7" x2="321.15" y2="262.7" stroke="#111" stroke-width="1.7" />
<line x1="67.45" y1="463" x2="321.15" y2="463" stroke="#111" stroke-width="1.7" />
<line x1="68.3" y1="261.85" x2="68.3" y2="463.85" stroke="#111" stroke-width="1.7" />
<line x1="320.3" y1="261.85" x2="320.3" y2="463.85" stroke="#111" stroke-width="1.7" />
<line x1="68.3" y1="463" x2="68.3" y2="466.8" stroke="#111" stroke-width="1.6" />
<line x1="114.16" y1="463" x2="114.16" y2="466.8" stroke="#111" stroke-width="1.6" />
<line x1="160.02" y1="463" x2="160.02" y2="466.8" stroke="#111" stroke-width="1.6" />
<line x1="205.88" y1="463" x2="205.88" y2="466.8" stroke="#111" stroke-width="1.6" />
<line x1="251.74" y1="463" x2="251.74" y2="466.8" stroke="#111" stroke-width="1.6" />
<line x1="297.6" y1="463" x2="297.6" y2="466.8" stroke="#111" stroke-width="1.6" />
<line x1="91.23" y1="463" x2="91.23" y2="465.1" stroke="#111" stroke-width="1.2" />
<line x1="137.09" y1="463" x2="137.09" y2="465.1" stroke="#111" stroke-width="1.2" />
<line x1="182.95" y1="463" x2="182.95" y2="465.1" stroke="#111" stroke-width="1.2" />
<line x1="228.81" y1="463" x2="228.81" y2="465.1" stroke="#111" stroke-width="1.2" />
<line x1="274.67" y1="463" x2="274.67" y2="465.1" stroke="#111" stroke-width="1.2" />
<line x1="320.53" y1="463" x2="320.53" y2="465.1" stroke="#111" stroke-width="1.2" />
<text x="68.3" y="479.8" font-family="'Liberation Serif', serif" font-size="13.2" font-weight="bold" fill="#111" text-anchor="middle" >0</text>
<text x="114.16" y="479.8" font-family="'Liberation Serif', serif" font-size="13.2" font-weight="bold" fill="#111" text-anchor="middle" >2000</text>
<text x="160.02" y="479.8" font-family="'Liberation Serif', serif" font-size="13.2" font-weight="bold" fill="#111" text-anchor="middle" >4000</text>
<text x="205.88" y="479.8" font-family="'Liberation Serif', serif" font-size="13.2" font-weight="bold" fill="#111" text-anchor="middle" >6000</text>
<text x="251.74" y="479.8" font-family="'Liberation Serif', serif" font-size="13.2" font-weight="bold" fill="#111" text-anchor="middle" >8000</text>
<text x="297.6" y="479.8" font-family="'Liberation Serif', serif" font-size="13.2" font-weight="bold" fill="#111" text-anchor="middle" >10000</text>
<line x1="68.3" y1="463" x2="64.5" y2="463" stroke="#111" stroke-width="1.6" />
<line x1="68.3" y1="423.76" x2="64.5" y2="423.76" stroke="#111" stroke-width="1.6" />
<line x1="68.3" y1="384.52" x2="64.5" y2="384.52" stroke="#111" stroke-width="1.6" />
<line x1="68.3" y1="345.28" x2="64.5" y2="345.28" stroke="#111" stroke-width="1.6" />
<line x1="68.3" y1="306.04" x2="64.5" y2="306.04" stroke="#111" stroke-width="1.6" />
<line x1="68.3" y1="266.8" x2="64.5" y2="266.8" stroke="#111" stroke-width="1.6" />
<line x1="68.3" y1="443.38" x2="66.2" y2="443.38" stroke="#111" stroke-width="1.2" />
<line x1="68.3" y1="404.14" x2="66.2" y2="404.14" stroke="#111" stroke-width="1.2" />
<line x1="68.3" y1="364.9" x2="66.2" y2="364.9" stroke="#111" stroke-width="1.2" />
<line x1="68.3" y1="325.66" x2="66.2" y2="325.66" stroke="#111" stroke-width="1.2" />
<line x1="68.3" y1="286.42" x2="66.2" y2="286.42" stroke="#111" stroke-width="1.2" />
<text x="60.7" y="467.55" font-family="'Liberation Serif', serif" font-size="13.2" font-weight="bold" fill="#111" text-anchor="end" >0</text>
<text x="60.7" y="428.31" font-family="'Liberation Serif', serif" font-size="13.2" font-weight="bold" fill="#111" text-anchor="end" >20</text>
<text x="60.7" y="389.07" font-family="'Liberation Serif', serif" font-size="13.2" font-weight="bold" fill="#111" text-anchor="end" >40</text>
<text x="60.7" y="349.83" font-family="'Liberation Serif', serif" font-size="13.2" font-weight="bold" fill="#111" text-anchor="end" >60</text>
<text x="60.7" y="310.59" font-family="'Liberation Serif', serif" font-size="13.2" font-weight="bold" fill="#111" text-anchor="end" >80</text>
<text x="60.7" y="271.35" font-family="'Liberation Serif', serif" font-size="13.2" font-weight="bold" fill="#111" text-anchor="end" >100</text>
<text x="196.2" y="493.6" font-family="'Liberation Serif', serif" font-size="17" font-weight="bold" fill="#111" text-anchor="middle" >Cycle number (n)</text>
<text x="41.7" y="367.5" font-family="'Liberation Serif', serif" font-size="17.7" font-weight="bold" fill="#111" text-anchor="middle" transform="rotate(-90 41.7 367.5)" >Capacitance retention (%)</text>
<text x="3.6" y="276.6" font-family="'Liberation Serif', serif" font-size="19.5" font-weight="bold" fill="#ff0000" text-anchor="start" >(d)</text>
<polyline points="429.92,438.7 430.92,434.06 431.93,430.56 432.93,427.75 433.93,425.37 434.93,423.24 435.93,421.27 436.94,419.42 437.94,417.64 438.94,415.91 439.94,414.23 440.94,412.58 441.94,410.96 442.95,409.36 443.95,407.8 444.95,406.25 445.95,404.73 446.95,403.24 447.96,401.76 448.96,400.3 449.96,398.87 450.96,397.46 451.96,396.06 452.96,394.69 453.97,393.33 454.97,391.99 455.97,390.67 456.97,389.37 457.97,388.09 458.97,386.82 459.98,385.57 460.98,384.33 461.98,383.12 462.98,381.92 463.98,380.73 464.99,379.56 465.99,378.4 466.99,377.26 467.99,376.14 468.99,375.02 469.99,373.92 471,372.84 472,371.77 473,370.71 474,369.66 475,368.63 476.01,367.61 477.01,366.6 478.01,365.6 479.01,364.62 480.01,363.64 481.01,362.68 482.02,361.73 483.02,360.79 484.02,359.86 485.02,358.94 486.02,358.03 487.03,357.13 488.03,356.23 489.03,355.35 490.03,354.48 491.03,353.62 492.03,352.77 493.04,351.92 494.04,351.09 495.04,350.26 496.04,349.44 497.04,348.63 498.05,347.83 499.05,347.03 500.05,346.25 501.05,345.47 502.05,344.7 503.05,343.93 504.06,343.18 505.06,342.43 506.06,341.68 507.06,340.95 508.06,340.22 509.06,339.49 510.07,338.78 511.07,338.07 512.07,337.36 513.07,336.67 514.07,335.98 515.08,335.29 516.08,334.61 517.08,333.94 518.08,333.27 519.08,332.6 520.08,331.95 521.09,331.29 522.09,330.65 523.09,330 524.09,329.37 525.09,328.73 526.1,328.11 527.1,327.48 528.1,326.87 529.1,326.25 530.1,325.64 531.1,325.04 532.11,324.44 533.11,323.84 534.11,323.25 535.11,322.66 536.11,322.08 537.12,321.5 538.12,320.92 539.12,320.35 540.12,319.78 541.12,319.22 542.12,318.66 543.13,318.1 544.13,317.55 545.13,317 546.13,316.45 547.13,315.91 548.13,315.37 549.14,314.83 550.14,314.3 551.14,313.77 552.14,313.24 553.14,312.72 554.15,312.2 555.15,311.68 556.15,311.16 557.15,310.65 558.15,310.14 559.15,309.63 560.16,309.13 561.16,308.63 562.16,308.13 563.16,307.64 564.16,307.14 565.17,306.65 566.17,306.16 567.17,305.68 568.17,305.19 569.17,304.71 570.17,304.23 571.18,303.76 572.18,303.28 573.18,302.81 574.18,302.34 575.18,301.87 576.19,301.41 577.19,300.94 578.19,300.48 579.19,300.02 580.19,299.57 581.19,299.11 582.2,298.66 583.2,298.21 584.2,297.76 585.2,297.31 586.2,296.87 587.2,296.42 588.21,295.98 589.21,295.54 590.21,295.1 591.21,294.67 592.21,294.23 593.22,293.8 594.22,293.37 595.22,292.94 596.22,292.51 597.22,292.08 598.22,291.66 599.23,291.24 600.23,290.81 601.23,290.39 602.23,289.98 603.23,289.56 604.24,289.14 605.24,288.73 606.24,288.32 607.24,287.91 608.24,287.5 609.24,287.09 610.25,286.68 611.25,286.28 612.25,285.87 613.25,285.47 614.25,285.07 615.26,284.67 616.26,284.27 617.26,283.87 618.26,283.48 619.26,283.08 620.26,282.69 621.27,282.29 622.27,281.9 623.27,281.51 624.27,281.13 625.27,280.74 626.27,280.35 627.28,279.97 628.28,279.58 629.28,279.2 629.28,279.2 628.28,281.52 627.28,283.8 626.27,286.04 625.27,288.23 624.27,290.38 623.27,292.49 622.27,294.56 621.27,296.59 620.26,298.58 619.26,300.53 618.26,302.45 617.26,304.33 616.26,306.17 615.26,307.99 614.25,309.77 613.25,311.51 612.25,313.23 611.25,314.91 610.25,316.56 609.24,318.19 608.24,319.78 607.24,321.35 606.24,322.89 605.24,324.4 604.24,325.89 603.23,327.35 602.23,328.78 601.23,330.19 600.23,331.58 599.23,332.94 598.22,334.28 597.22,335.6 596.22,336.9 595.22,338.17 594.22,339.43 593.22,340.66 592.21,341.88 591.21,343.07 590.21,344.25 589.21,345.41 588.21,346.55 587.2,347.67 586.2,348.78 585.2,349.86 584.2,350.94 583.2,351.99 582.2,353.03 581.19,354.06 580.19,355.07 579.19,356.07 578.19,357.05 577.19,358.02 576.19,358.97 575.18,359.91 574.18,360.84 573.18,361.76 572.18,362.66 571.18,363.55 570.17,364.43 569.17,365.3 568.17,366.16 567.17,367 566.17,367.84 565.17,368.66 564.16,369.48 563.16,370.28 562.16,371.08 561.16,371.87 560.16,372.64 559.15,373.41 558.15,374.17 557.15,374.92 556.15,375.66 555.15,376.39 554.15,377.12 553.14,377.84 552.14,378.55 551.14,379.25 550.14,379.94 549.14,380.63 548.13,381.31 547.13,381.98 546.13,382.65 545.13,383.31 544.13,383.97 543.13,384.62 542.12,385.26 541.12,385.89 540.12,386.53 539.12,387.15 538.12,387.77 537.12,388.38 536.11,388.99 535.11,389.6 534.11,390.19 533.11,390.79 532.11,391.38 531.1,391.96 530.1,392.54 529.1,393.12 528.1,393.69 527.1,394.25 526.1,394.82 525.09,395.38 524.09,395.93 523.09,396.48 522.09,397.03 521.09,397.57 520.08,398.11 519.08,398.65 518.08,399.18 517.08,399.71 516.08,400.24 515.08,400.76 514.07,401.28 513.07,401.8 512.07,402.31 511.07,402.82 510.07,403.33 509.06,403.83 508.06,404.34 507.06,404.84 506.06,405.33 505.06,405.83 504.06,406.32 503.05,406.81 502.05,407.3 501.05,407.78 500.05,408.27 499.05,408.75 498.05,409.23 497.04,409.7 496.04,410.18 495.04,410.65 494.04,411.12 493.04,411.59 492.03,412.06 491.03,412.52 490.03,412.99 489.03,413.45 488.03,413.91 487.03,414.37 486.02,414.82 485.02,415.28 484.02,415.73 483.02,416.18 482.02,416.63 481.01,417.08 480.01,417.53 479.01,417.98 478.01,418.42 477.01,418.87 476.01,419.31 475,419.75 474,420.19 473,420.63 472,421.07 471,421.5 469.99,421.94 468.99,422.37 467.99,422.81 466.99,423.24 465.99,423.67 464.99,424.1 463.98,424.53 462.98,424.96 461.98,425.39 460.98,425.81 459.98,426.24 458.97,426.67 457.97,427.09 456.97,427.51 455.97,427.94 454.97,428.36 453.97,428.78 452.96,429.2 451.96,429.62 450.96,430.04 449.96,430.46 448.96,430.87 447.96,431.29 446.95,431.71 445.95,432.12 444.95,432.54 443.95,432.95 442.95,433.37 441.94,433.78 440.94,434.19 439.94,434.6 438.94,435.02 437.94,435.43 436.94,435.84 435.93,436.25 434.93,436.66 433.93,437.07 432.93,437.48 431.93,437.88 430.92,438.29 429.92,438.7" fill="none" stroke="#3c3c3c" stroke-width="1.8" stroke-linejoin="round" stroke-linecap="round" />
<polyline points="429.92,435.7 430.92,431.09 431.93,427.63 432.93,424.85 433.93,422.49 434.93,420.39 435.93,418.46 436.94,416.63 437.94,414.88 438.94,413.18 439.94,411.52 440.94,409.9 441.94,408.3 442.95,406.73 443.95,405.19 444.95,403.67 445.95,402.17 446.95,400.7 447.96,399.24 448.96,397.81 449.96,396.39 450.96,395 451.96,393.62 452.96,392.26 453.97,390.92 454.97,389.6 455.97,388.3 456.97,387.01 457.97,385.74 458.97,384.49 459.98,383.25 460.98,382.03 461.98,380.83 462.98,379.64 463.98,378.46 464.99,377.3 465.99,376.15 466.99,375.02 467.99,373.9 468.99,372.8 469.99,371.71 471,370.63 472,369.56 473,368.51 474,367.46 475,366.43 476.01,365.42 477.01,364.41 478.01,363.41 479.01,362.43 480.01,361.46 481.01,360.49 482.02,359.54 483.02,358.6 484.02,357.66 485.02,356.74 486.02,355.83 487.03,354.92 488.03,354.02 489.03,353.14 490.03,352.26 491.03,351.39 492.03,350.53 493.04,349.68 494.04,348.83 495.04,348 496.04,347.17 497.04,346.35 498.05,345.53 499.05,344.72 500.05,343.93 501.05,343.13 502.05,342.35 503.05,341.57 504.06,340.8 505.06,340.03 506.06,339.27 507.06,338.52 508.06,337.77 509.06,337.03 510.07,336.29 511.07,335.56 512.07,334.84 513.07,334.12 514.07,333.4 515.08,332.69 516.08,331.99 517.08,331.29 518.08,330.6 519.08,329.91 520.08,329.23 521.09,328.55 522.09,327.87 523.09,327.2 524.09,326.54 525.09,325.87 526.1,325.22 527.1,324.56 528.1,323.91 529.1,323.27 530.1,322.63 531.1,321.99 532.11,321.35 533.11,320.72 534.11,320.1 535.11,319.47 536.11,318.85 537.12,318.24 538.12,317.62 539.12,317.01 540.12,316.4 541.12,315.8 542.12,315.2 543.13,314.6 544.13,314.01 545.13,313.41 546.13,312.82 547.13,312.24 548.13,311.65 549.14,311.07 550.14,310.49 551.14,309.91 552.14,309.34 553.14,308.77 554.15,308.2 555.15,307.63 556.15,307.07 557.15,306.5 558.15,305.94 559.15,305.39 560.16,304.83 561.16,304.28 562.16,303.72 563.16,303.17 564.16,302.62 565.17,302.08 566.17,301.53 567.17,300.99 568.17,300.45 569.17,299.91 570.17,299.37 571.18,298.84 572.18,298.3 573.18,297.77 574.18,297.24 575.18,296.71 576.19,296.18 577.19,295.65 578.19,295.13 579.19,294.6 580.19,294.08 581.19,293.56 582.2,293.04 583.2,292.52 584.2,292 585.2,291.49 586.2,290.97 587.2,290.46 588.21,289.95 589.21,289.43 590.21,288.92 591.21,288.42 592.21,287.91 593.22,287.4 594.22,286.89 595.22,286.39 596.22,285.89 597.22,285.38 598.22,284.88 599.23,284.38 600.23,283.88 601.23,283.38 602.23,282.88 603.23,282.38 604.24,281.89 605.24,281.39 606.24,280.9 607.24,280.4 608.24,279.91 609.24,279.42 610.25,278.92 611.25,278.43 612.25,277.94 613.25,277.45 614.25,276.96 615.26,276.48 616.26,275.99 617.26,275.5 618.26,275.01 619.26,274.53 620.26,274.04 621.27,273.56 622.27,273.07 623.27,272.59 624.27,272.11 625.27,271.62 626.27,271.14 627.28,270.66 628.28,270.18 629.28,269.7 629.28,269.7 628.28,272.57 627.28,275.35 626.27,278.04 625.27,280.65 624.27,283.17 623.27,285.61 622.27,287.97 621.27,290.26 620.26,292.48 619.26,294.63 618.26,296.72 617.26,298.75 616.26,300.71 615.26,302.62 614.25,304.48 613.25,306.28 612.25,308.03 611.25,309.73 610.25,311.39 609.24,313 608.24,314.56 607.24,316.09 606.24,317.58 605.24,319.02 604.24,320.44 603.23,321.81 602.23,323.16 601.23,324.47 600.23,325.75 599.23,327 598.22,328.22 597.22,329.42 596.22,330.59 595.22,331.73 594.22,332.85 593.22,333.95 592.21,335.02 591.21,336.07 590.21,337.1 589.21,338.12 588.21,339.11 587.2,340.09 586.2,341.04 585.2,341.99 584.2,342.91 583.2,343.82 582.2,344.72 581.19,345.6 580.19,346.46 579.19,347.32 578.19,348.16 577.19,348.99 576.19,349.81 575.18,350.62 574.18,351.41 573.18,352.2 572.18,352.98 571.18,353.74 570.17,354.5 569.17,355.25 568.17,355.99 567.17,356.73 566.17,357.45 565.17,358.17 564.16,358.88 563.16,359.59 562.16,360.28 561.16,360.98 560.16,361.66 559.15,362.34 558.15,363.02 557.15,363.69 556.15,364.35 555.15,365.01 554.15,365.67 553.14,366.32 552.14,366.96 551.14,367.6 550.14,368.24 549.14,368.88 548.13,369.51 547.13,370.13 546.13,370.76 545.13,371.38 544.13,371.99 543.13,372.61 542.12,373.22 541.12,373.83 540.12,374.43 539.12,375.04 538.12,375.64 537.12,376.24 536.11,376.84 535.11,377.43 534.11,378.02 533.11,378.61 532.11,379.2 531.1,379.79 530.1,380.37 529.1,380.96 528.1,381.54 527.1,382.12 526.1,382.7 525.09,383.27 524.09,383.85 523.09,384.42 522.09,385 521.09,385.57 520.08,386.14 519.08,386.71 518.08,387.28 517.08,387.85 516.08,388.42 515.08,388.98 514.07,389.55 513.07,390.11 512.07,390.67 511.07,391.24 510.07,391.8 509.06,392.36 508.06,392.92 507.06,393.48 506.06,394.04 505.06,394.6 504.06,395.15 503.05,395.71 502.05,396.27 501.05,396.82 500.05,397.38 499.05,397.93 498.05,398.49 497.04,399.04 496.04,399.6 495.04,400.15 494.04,400.7 493.04,401.26 492.03,401.81 491.03,402.36 490.03,402.91 489.03,403.46 488.03,404.01 487.03,404.57 486.02,405.12 485.02,405.67 484.02,406.22 483.02,406.76 482.02,407.31 481.01,407.86 480.01,408.41 479.01,408.96 478.01,409.51 477.01,410.06 476.01,410.61 475,411.15 474,411.7 473,412.25 472,412.8 471,413.34 469.99,413.89 468.99,414.44 467.99,414.98 466.99,415.53 465.99,416.08 464.99,416.62 463.98,417.17 462.98,417.72 461.98,418.26 460.98,418.81 459.98,419.35 458.97,419.9 457.97,420.45 456.97,420.99 455.97,421.54 454.97,422.08 453.97,422.63 452.96,423.17 451.96,423.72 450.96,424.26 449.96,424.81 448.96,425.35 447.96,425.9 446.95,426.44 445.95,426.99 444.95,427.53 443.95,428.08 442.95,428.62 441.94,429.17 440.94,429.71 439.94,430.26 438.94,430.8 437.94,431.35 436.94,431.89 435.93,432.43 434.93,432.98 433.93,433.52 432.93,434.07 431.93,434.61 430.92,435.16 429.92,435.7" fill="none" stroke="#ee3333" stroke-width="1.8" stroke-linejoin="round" stroke-linecap="round" />
<polyline points="429.92,439.2 430.92,434.54 431.93,431.02 432.93,428.19 433.93,425.79 434.93,423.64 435.93,421.65 436.94,419.78 437.94,417.98 438.94,416.23 439.94,414.53 440.94,412.86 441.94,411.22 442.95,409.61 443.95,408.03 444.95,406.46 445.95,404.93 446.95,403.41 447.96,401.91 448.96,400.44 449.96,398.99 450.96,397.56 451.96,396.14 452.96,394.75 453.97,393.38 454.97,392.02 455.97,390.68 456.97,389.36 457.97,388.06 458.97,386.78 459.98,385.51 460.98,384.26 461.98,383.03 462.98,381.81 463.98,380.61 464.99,379.42 465.99,378.25 466.99,377.09 467.99,375.95 468.99,374.82 469.99,373.7 471,372.6 472,371.51 473,370.44 474,369.38 475,368.33 476.01,367.29 477.01,366.27 478.01,365.25 479.01,364.25 480.01,363.26 481.01,362.29 482.02,361.32 483.02,360.36 484.02,359.42 485.02,358.48 486.02,357.56 487.03,356.64 488.03,355.74 489.03,354.84 490.03,353.96 491.03,353.08 492.03,352.21 493.04,351.36 494.04,350.51 495.04,349.67 496.04,348.83 497.04,348.01 498.05,347.2 499.05,346.39 500.05,345.59 501.05,344.8 502.05,344.01 503.05,343.23 504.06,342.46 505.06,341.7 506.06,340.95 507.06,340.2 508.06,339.46 509.06,338.72 510.07,337.99 511.07,337.27 512.07,336.56 513.07,335.85 514.07,335.14 515.08,334.45 516.08,333.75 517.08,333.07 518.08,332.39 519.08,331.71 520.08,331.05 521.09,330.38 522.09,329.72 523.09,329.07 524.09,328.42 525.09,327.78 526.1,327.14 527.1,326.51 528.1,325.88 529.1,325.26 530.1,324.64 531.1,324.02 532.11,323.41 533.11,322.81 534.11,322.21 535.11,321.61 536.11,321.02 537.12,320.43 538.12,319.84 539.12,319.26 540.12,318.68 541.12,318.11 542.12,317.54 543.13,316.98 544.13,316.41 545.13,315.86 546.13,315.3 547.13,314.75 548.13,314.2 549.14,313.66 550.14,313.11 551.14,312.58 552.14,312.04 553.14,311.51 554.15,310.98 555.15,310.46 556.15,309.93 557.15,309.41 558.15,308.9 559.15,308.38 560.16,307.87 561.16,307.36 562.16,306.86 563.16,306.36 564.16,305.86 565.17,305.36 566.17,304.86 567.17,304.37 568.17,303.88 569.17,303.39 570.17,302.91 571.18,302.43 572.18,301.95 573.18,301.47 574.18,300.99 575.18,300.52 576.19,300.05 577.19,299.58 578.19,299.11 579.19,298.65 580.19,298.19 581.19,297.73 582.2,297.27 583.2,296.81 584.2,296.36 585.2,295.91 586.2,295.46 587.2,295.01 588.21,294.57 589.21,294.12 590.21,293.68 591.21,293.24 592.21,292.8 593.22,292.36 594.22,291.93 595.22,291.5 596.22,291.06 597.22,290.63 598.22,290.21 599.23,289.78 600.23,289.36 601.23,288.93 602.23,288.51 603.23,288.09 604.24,287.67 605.24,287.26 606.24,286.84 607.24,286.43 608.24,286.02 609.24,285.61 610.25,285.2 611.25,284.79 612.25,284.39 613.25,283.98 614.25,283.58 615.26,283.18 616.26,282.78 617.26,282.38 618.26,281.98 619.26,281.59 620.26,281.19 621.27,280.8 622.27,280.41 623.27,280.02 624.27,279.63 625.27,279.24 626.27,278.85 627.28,278.47 628.28,278.08 629.28,277.7 629.28,277.7 628.28,280.49 627.28,283.19 626.27,285.8 625.27,288.32 624.27,290.76 623.27,293.12 622.27,295.4 621.27,297.62 620.26,299.76 619.26,301.83 618.26,303.85 617.26,305.8 616.26,307.69 615.26,309.52 614.25,311.3 613.25,313.03 612.25,314.71 611.25,316.34 610.25,317.92 609.24,319.46 608.24,320.96 607.24,322.41 606.24,323.83 605.24,325.21 604.24,326.55 603.23,327.86 602.23,329.14 601.23,330.39 600.23,331.6 599.23,332.79 598.22,333.94 597.22,335.08 596.22,336.18 595.22,337.26 594.22,338.32 593.22,339.35 592.21,340.37 591.21,341.36 590.21,342.33 589.21,343.29 588.21,344.22 587.2,345.14 586.2,346.04 585.2,346.92 584.2,347.79 583.2,348.65 582.2,349.49 581.19,350.32 580.19,351.13 579.19,351.93 578.19,352.72 577.19,353.5 576.19,354.27 575.18,355.02 574.18,355.77 573.18,356.51 572.18,357.23 571.18,357.95 570.17,358.66 569.17,359.37 568.17,360.06 567.17,360.75 566.17,361.43 565.17,362.11 564.16,362.77 563.16,363.43 562.16,364.09 561.16,364.74 560.16,365.38 559.15,366.02 558.15,366.66 557.15,367.29 556.15,367.91 555.15,368.53 554.15,369.15 553.14,369.76 552.14,370.37 551.14,370.98 550.14,371.58 549.14,372.18 548.13,372.78 547.13,373.37 546.13,373.96 545.13,374.55 544.13,375.14 543.13,375.72 542.12,376.3 541.12,376.88 540.12,377.46 539.12,378.03 538.12,378.6 537.12,379.18 536.11,379.74 535.11,380.31 534.11,380.88 533.11,381.45 532.11,382.01 531.1,382.57 530.1,383.13 529.1,383.69 528.1,384.25 527.1,384.81 526.1,385.37 525.09,385.93 524.09,386.48 523.09,387.04 522.09,387.6 521.09,388.15 520.08,388.7 519.08,389.26 518.08,389.81 517.08,390.36 516.08,390.91 515.08,391.47 514.07,392.02 513.07,392.57 512.07,393.12 511.07,393.67 510.07,394.22 509.06,394.77 508.06,395.32 507.06,395.87 506.06,396.42 505.06,396.97 504.06,397.52 503.05,398.07 502.05,398.63 501.05,399.18 500.05,399.73 499.05,400.28 498.05,400.83 497.04,401.38 496.04,401.93 495.04,402.48 494.04,403.03 493.04,403.58 492.03,404.14 491.03,404.69 490.03,405.24 489.03,405.79 488.03,406.35 487.03,406.9 486.02,407.46 485.02,408.01 484.02,408.56 483.02,409.12 482.02,409.67 481.01,410.23 480.01,410.79 479.01,411.34 478.01,411.9 477.01,412.46 476.01,413.01 475,413.57 474,414.13 473,414.69 472,415.25 471,415.81 469.99,416.37 468.99,416.93 467.99,417.49 466.99,418.05 465.99,418.61 464.99,419.18 463.98,419.74 462.98,420.3 461.98,420.87 460.98,421.43 459.98,422 458.97,422.56 457.97,423.13 456.97,423.69 455.97,424.26 454.97,424.83 453.97,425.4 452.96,425.97 451.96,426.54 450.96,427.11 449.96,427.68 448.96,428.25 447.96,428.82 446.95,429.39 445.95,429.96 444.95,430.54 443.95,431.11 442.95,431.68 441.94,432.26 440.94,432.83 439.94,433.41 438.94,433.99 437.94,434.56 436.94,435.14 435.93,435.72 434.93,436.3 433.93,436.88 432.93,437.46 431.93,438.04 430.92,438.62 429.92,439.2" fill="none" stroke="#2266dd" stroke-width="1.8" stroke-linejoin="round" stroke-linecap="round" />
<polyline points="429.92,437.7 430.92,433.07 431.93,429.57 432.93,426.77 433.93,424.38 434.93,422.26 435.93,420.3 436.94,418.45 437.94,416.67 438.94,414.94 439.94,413.26 440.94,411.61 441.94,410 442.95,408.4 443.95,406.84 444.95,405.3 445.95,403.78 446.95,402.28 447.96,400.8 448.96,399.34 449.96,397.91 450.96,396.49 451.96,395.1 452.96,393.72 453.97,392.36 454.97,391.02 455.97,389.7 456.97,388.39 457.97,387.11 458.97,385.84 459.98,384.58 460.98,383.35 461.98,382.12 462.98,380.92 463.98,379.73 464.99,378.55 465.99,377.39 466.99,376.24 467.99,375.11 468.99,373.99 469.99,372.88 471,371.79 472,370.71 473,369.65 474,368.59 475,367.55 476.01,366.52 477.01,365.5 478.01,364.49 479.01,363.5 480.01,362.52 481.01,361.54 482.02,360.58 483.02,359.63 484.02,358.69 485.02,357.75 486.02,356.83 487.03,355.92 488.03,355.02 489.03,354.12 490.03,353.24 491.03,352.36 492.03,351.5 493.04,350.64 494.04,349.79 495.04,348.95 496.04,348.11 497.04,347.29 498.05,346.47 499.05,345.66 500.05,344.86 501.05,344.06 502.05,343.27 503.05,342.49 504.06,341.72 505.06,340.95 506.06,340.19 507.06,339.44 508.06,338.69 509.06,337.95 510.07,337.21 511.07,336.48 512.07,335.76 513.07,335.04 514.07,334.33 515.08,333.62 516.08,332.92 517.08,332.23 518.08,331.54 519.08,330.85 520.08,330.17 521.09,329.5 522.09,328.83 523.09,328.16 524.09,327.5 525.09,326.84 526.1,326.19 527.1,325.55 528.1,324.9 529.1,324.26 530.1,323.63 531.1,323 532.11,322.37 533.11,321.75 534.11,321.13 535.11,320.52 536.11,319.91 537.12,319.3 538.12,318.7 539.12,318.1 540.12,317.5 541.12,316.91 542.12,316.32 543.13,315.74 544.13,315.15 545.13,314.57 546.13,314 547.13,313.42 548.13,312.85 549.14,312.29 550.14,311.72 551.14,311.16 552.14,310.6 553.14,310.04 554.15,309.49 555.15,308.94 556.15,308.39 557.15,307.85 558.15,307.3 559.15,306.76 560.16,306.22 561.16,305.69 562.16,305.15 563.16,304.62 564.16,304.09 565.17,303.57 566.17,303.04 567.17,302.52 568.17,302 569.17,301.48 570.17,300.97 571.18,300.45 572.18,299.94 573.18,299.43 574.18,298.92 575.18,298.42 576.19,297.91 577.19,297.41 578.19,296.91 579.19,296.41 580.19,295.91 581.19,295.42 582.2,294.92 583.2,294.43 584.2,293.94 585.2,293.45 586.2,292.96 587.2,292.48 588.21,291.99 589.21,291.51 590.21,291.03 591.21,290.55 592.21,290.07 593.22,289.59 594.22,289.12 595.22,288.64 596.22,288.17 597.22,287.7 598.22,287.23 599.23,286.76 600.23,286.29 601.23,285.82 602.23,285.36 603.23,284.89 604.24,284.43 605.24,283.97 606.24,283.51 607.24,283.05 608.24,282.59 609.24,282.13 610.25,281.68 611.25,281.22 612.25,280.77 613.25,280.31 614.25,279.86 615.26,279.41 616.26,278.96 617.26,278.51 618.26,278.07 619.26,277.62 620.26,277.17 621.27,276.73 622.27,276.28 623.27,275.84 624.27,275.4 625.27,274.96 626.27,274.52 627.28,274.08 628.28,273.64 629.28,273.2 629.28,273.2 628.28,276.04 627.28,278.79 626.27,281.45 625.27,284.02 624.27,286.51 623.27,288.91 622.27,291.25 621.27,293.51 620.26,295.7 619.26,297.82 618.26,299.88 617.26,301.87 616.26,303.81 615.26,305.69 614.25,307.51 613.25,309.29 612.25,311.01 611.25,312.68 610.25,314.31 609.24,315.89 608.24,317.43 607.24,318.93 606.24,320.39 605.24,321.81 604.24,323.2 603.23,324.55 602.23,325.87 601.23,327.15 600.23,328.41 599.23,329.63 598.22,330.83 597.22,332 596.22,333.15 595.22,334.27 594.22,335.36 593.22,336.43 592.21,337.48 591.21,338.51 590.21,339.52 589.21,340.51 588.21,341.48 587.2,342.44 586.2,343.37 585.2,344.29 584.2,345.2 583.2,346.09 582.2,346.96 581.19,347.82 580.19,348.67 579.19,349.5 578.19,350.32 577.19,351.13 576.19,351.93 575.18,352.72 574.18,353.5 573.18,354.27 572.18,355.02 571.18,355.77 570.17,356.51 569.17,357.25 568.17,357.97 567.17,358.69 566.17,359.4 565.17,360.1 564.16,360.79 563.16,361.48 562.16,362.16 561.16,362.84 560.16,363.51 559.15,364.17 558.15,364.83 557.15,365.49 556.15,366.14 555.15,366.78 554.15,367.43 553.14,368.06 552.14,368.69 551.14,369.32 550.14,369.95 549.14,370.57 548.13,371.19 547.13,371.8 546.13,372.42 545.13,373.02 544.13,373.63 543.13,374.23 542.12,374.83 541.12,375.43 540.12,376.03 539.12,376.62 538.12,377.21 537.12,377.8 536.11,378.39 535.11,378.97 534.11,379.56 533.11,380.14 532.11,380.72 531.1,381.3 530.1,381.88 529.1,382.45 528.1,383.03 527.1,383.6 526.1,384.17 525.09,384.74 524.09,385.31 523.09,385.88 522.09,386.45 521.09,387.02 520.08,387.58 519.08,388.15 518.08,388.71 517.08,389.27 516.08,389.84 515.08,390.4 514.07,390.96 513.07,391.52 512.07,392.08 511.07,392.64 510.07,393.2 509.06,393.76 508.06,394.32 507.06,394.87 506.06,395.43 505.06,395.99 504.06,396.54 503.05,397.1 502.05,397.66 501.05,398.21 500.05,398.77 499.05,399.32 498.05,399.88 497.04,400.43 496.04,400.99 495.04,401.54 494.04,402.1 493.04,402.65 492.03,403.2 491.03,403.76 490.03,404.31 489.03,404.87 488.03,405.42 487.03,405.97 486.02,406.53 485.02,407.08 484.02,407.63 483.02,408.19 482.02,408.74 481.01,409.29 480.01,409.85 479.01,410.4 478.01,410.96 477.01,411.51 476.01,412.06 475,412.62 474,413.17 473,413.73 472,414.28 471,414.83 469.99,415.39 468.99,415.94 467.99,416.5 466.99,417.05 465.99,417.61 464.99,418.16 463.98,418.72 462.98,419.27 461.98,419.83 460.98,420.38 459.98,420.94 458.97,421.5 457.97,422.05 456.97,422.61 455.97,423.16 454.97,423.72 453.97,424.28 452.96,424.84 451.96,425.39 450.96,425.95 449.96,426.51 448.96,427.06 447.96,427.62 446.95,428.18 445.95,428.74 444.95,429.3 443.95,429.86 442.95,430.42 441.94,430.97 440.94,431.53 439.94,432.09 438.94,432.65 437.94,433.21 436.94,433.77 435.93,434.33 434.93,434.89 433.93,435.45 432.93,436.02 431.93,436.58 430.92,437.14 429.92,437.7" fill="none" stroke="#22a050" stroke-width="1.8" stroke-linejoin="round" stroke-linecap="round" />
<line x1="405.15" y1="263" x2="655.05" y2="263" stroke="#111" stroke-width="1.7" />
<line x1="405.15" y1="463" x2="655.05" y2="463" stroke="#111" stroke-width="1.7" />
<line x1="406" y1="262.15" x2="406" y2="463.85" stroke="#111" stroke-width="1.7" />
<line x1="654.2" y1="262.15" x2="654.2" y2="463.85" stroke="#111" stroke-width="1.7" />
<line x1="429.92" y1="463" x2="429.92" y2="466.8" stroke="#111" stroke-width="1.6" />
<line x1="479.76" y1="463" x2="479.76" y2="466.8" stroke="#111" stroke-width="1.6" />
<line x1="529.6" y1="463" x2="529.6" y2="466.8" stroke="#111" stroke-width="1.6" />
<line x1="579.44" y1="463" x2="579.44" y2="466.8" stroke="#111" stroke-width="1.6" />
<line x1="629.28" y1="463" x2="629.28" y2="466.8" stroke="#111" stroke-width="1.6" />
<line x1="454.84" y1="463" x2="454.84" y2="465.1" stroke="#111" stroke-width="1.2" />
<line x1="504.68" y1="463" x2="504.68" y2="465.1" stroke="#111" stroke-width="1.2" />
<line x1="554.52" y1="463" x2="554.52" y2="465.1" stroke="#111" stroke-width="1.2" />
<line x1="604.36" y1="463" x2="604.36" y2="465.1" stroke="#111" stroke-width="1.2" />
<text x="429.92" y="480.2" font-family="'Liberation Serif', serif" font-size="13.7" font-weight="bold" fill="#111" text-anchor="middle" >0.0</text>
<text x="479.76" y="480.2" font-family="'Liberation Serif', serif" font-size="13.7" font-weight="bold" fill="#111" text-anchor="middle" >0.2</text>
<text x="529.6" y="480.2" font-family="'Liberation Serif', serif" font-size="13.7" font-weight="bold" fill="#111" text-anchor="middle" >0.4</text>
<text x="579.44" y="480.2" font-family="'Liberation Serif', serif" font-size="13.7" font-weight="bold" fill="#111" text-anchor="middle" >0.6</text>
<text x="629.28" y="480.2" font-family="'Liberation Serif', serif" font-size="13.7" font-weight="bold" fill="#111" text-anchor="middle" >0.8</text>
<line x1="406" y1="442.7" x2="402.2" y2="442.7" stroke="#111" stroke-width="1.6" />
<line x1="406" y1="402.7" x2="402.2" y2="402.7" stroke="#111" stroke-width="1.6" />
<line x1="406" y1="362.7" x2="402.2" y2="362.7" stroke="#111" stroke-width="1.6" />
<line x1="406" y1="322.7" x2="402.2" y2="322.7" stroke="#111" stroke-width="1.6" />
<line x1="406" y1="282.7" x2="402.2" y2="282.7" stroke="#111" stroke-width="1.6" />
<line x1="406" y1="422.7" x2="403.9" y2="422.7" stroke="#111" stroke-width="1.2" />
<line x1="406" y1="382.7" x2="403.9" y2="382.7" stroke="#111" stroke-width="1.2" />
<line x1="406" y1="342.7" x2="403.9" y2="342.7" stroke="#111" stroke-width="1.2" />
<line x1="406" y1="302.7" x2="403.9" y2="302.7" stroke="#111" stroke-width="1.2" />
<text x="399.6" y="447.25" font-family="'Liberation Serif', serif" font-size="13.7" font-weight="bold" fill="#111" text-anchor="end" >-16</text>
<text x="399.6" y="407.25" font-family="'Liberation Serif', serif" font-size="13.7" font-weight="bold" fill="#111" text-anchor="end" >-8</text>
<text x="399.6" y="367.25" font-family="'Liberation Serif', serif" font-size="13.7" font-weight="bold" fill="#111" text-anchor="end" >0</text>
<text x="399.6" y="327.25" font-family="'Liberation Serif', serif" font-size="13.7" font-weight="bold" fill="#111" text-anchor="end" >8</text>
<text x="399.6" y="287.25" font-family="'Liberation Serif', serif" font-size="13.7" font-weight="bold" fill="#111" text-anchor="end" >16</text>
<line x1="461.1" y1="271.4" x2="481.4" y2="271.4" stroke="#3c3c3c" stroke-width="2.2" />
<text x="482.7" y="274.4" font-family="'Liberation Serif', serif" font-size="8.6" font-weight="bold" fill="#111" text-anchor="start" >0</text>
<line x1="461.1" y1="282.2" x2="481.4" y2="282.2" stroke="#ee3333" stroke-width="2.2" />
<text x="482.7" y="285.2" font-family="'Liberation Serif', serif" font-size="8.6" font-weight="bold" fill="#111" text-anchor="start" >Strain 30%</text>
<line x1="461.1" y1="293" x2="481.4" y2="293" stroke="#2266dd" stroke-width="2.2" />
<text x="482.7" y="296" font-family="'Liberation Serif', serif" font-size="8.6" font-weight="bold" fill="#111" text-anchor="start" >Strain 50%</text>
<line x1="461.1" y1="303.8" x2="481.4" y2="303.8" stroke="#22a050" stroke-width="2.2" />
<text x="482.7" y="306.8" font-family="'Liberation Serif', serif" font-size="8.6" font-weight="bold" fill="#111" text-anchor="start" >Strain 80%</text>
<rect x="554.4" y="379.6" width="86.3" height="62.3" fill="#fff" stroke="#3a3a3a" stroke-width="1.0"/>
<line x1="554.4" y1="441.9" x2="553" y2="441.9" stroke="#3a3a3a" stroke-width="0.6" />
<line x1="554.4" y1="430.62" x2="553" y2="430.62" stroke="#3a3a3a" stroke-width="0.6" />
<line x1="554.4" y1="419.35" x2="553" y2="419.35" stroke="#3a3a3a" stroke-width="0.6" />
<line x1="554.4" y1="408.07" x2="553" y2="408.07" stroke="#3a3a3a" stroke-width="0.6" />
<line x1="554.4" y1="396.8" x2="553" y2="396.8" stroke="#3a3a3a" stroke-width="0.6" />
<line x1="554.4" y1="385.52" x2="553" y2="385.52" stroke="#3a3a3a" stroke-width="0.6" />
<line x1="562.8" y1="441.9" x2="562.8" y2="443.3" stroke="#3a3a3a" stroke-width="0.6" />
<line x1="580.02" y1="441.9" x2="580.02" y2="443.3" stroke="#3a3a3a" stroke-width="0.6" />
<line x1="597.25" y1="441.9" x2="597.25" y2="443.3" stroke="#3a3a3a" stroke-width="0.6" />
<line x1="614.47" y1="441.9" x2="614.47" y2="443.3" stroke="#3a3a3a" stroke-width="0.6" />
<line x1="631.7" y1="441.9" x2="631.7" y2="443.3" stroke="#3a3a3a" stroke-width="0.6" />
<text x="552.6" y="443.3" font-family="'Liberation Serif', serif" font-size="4.0" font-weight="bold" fill="#2a2a2a" text-anchor="end" >0</text>
<text x="552.6" y="432.02" font-family="'Liberation Serif', serif" font-size="4.0" font-weight="bold" fill="#2a2a2a" text-anchor="end" >20</text>
<text x="552.6" y="420.75" font-family="'Liberation Serif', serif" font-size="4.0" font-weight="bold" fill="#2a2a2a" text-anchor="end" >40</text>
<text x="552.6" y="409.47" font-family="'Liberation Serif', serif" font-size="4.0" font-weight="bold" fill="#2a2a2a" text-anchor="end" >60</text>
<text x="552.6" y="398.2" font-family="'Liberation Serif', serif" font-size="4.0" font-weight="bold" fill="#2a2a2a" text-anchor="end" >80</text>
<text x="552.6" y="386.92" font-family="'Liberation Serif', serif" font-size="4.0" font-weight="bold" fill="#2a2a2a" text-anchor="end" >100</text>
<text x="562.8" y="447.5" font-family="'Liberation Serif', serif" font-size="4.0" font-weight="bold" fill="#2a2a2a" text-anchor="middle" >0</text>
<text x="580.02" y="447.5" font-family="'Liberation Serif', serif" font-size="4.0" font-weight="bold" fill="#2a2a2a" text-anchor="middle" >20</text>
<text x="597.25" y="447.5" font-family="'Liberation Serif', serif" font-size="4.0" font-weight="bold" fill="#2a2a2a" text-anchor="middle" >40</text>
<text x="614.47" y="447.5" font-family="'Liberation Serif', serif" font-size="4.0" font-weight="bold" fill="#2a2a2a" text-anchor="middle" >60</text>
<text x="631.7" y="447.5" font-family="'Liberation Serif', serif" font-size="4.0" font-weight="bold" fill="#2a2a2a" text-anchor="middle" >80</text>
<polyline points="562.8,385.52 588.64,385.52 605.86,385.91 631.7,386.93" fill="none" stroke="#ff5cb0" stroke-width="1.1" stroke-linejoin="round" stroke-linecap="round" />
<circle cx="562.8" cy="385.52" r="0.9" fill="#ff5cb0"/>
<circle cx="588.64" cy="385.52" r="0.9" fill="#ff5cb0"/>
<circle cx="605.86" cy="385.91" r="0.9" fill="#ff5cb0"/>
<circle cx="631.7" cy="386.93" r="0.9" fill="#ff5cb0"/>
<text x="597.5" y="452" font-family="'Liberation Serif', serif" font-size="4.8" font-weight="bold" fill="#2a2a2a" text-anchor="middle" >Strain(%)</text>
<text x="546" y="410" font-family="'Liberation Serif', serif" font-size="4.8" font-weight="bold" fill="#2a2a2a" text-anchor="middle" transform="rotate(-90 546 410)" >C/C<tspan font-size="3" dy="1">0</tspan></text>
<text x="531.9" y="494.8" font-family="'Liberation Serif', serif" font-size="17" font-weight="bold" fill="#111" text-anchor="middle" >Potential (V)</text>
<text x="385.2" y="363.1" font-family="'Liberation Serif', serif" font-size="17" font-weight="bold" fill="#111" text-anchor="middle" transform="rotate(-90 385.2 363.1)" >Current (mA)</text>
<text x="351" y="283.6" font-family="'Liberation Serif', serif" font-size="19.5" font-weight="bold" fill="#ff0000" text-anchor="start" >(e)</text>
<polyline points="758.3,462.7 758.3,435.28 759.35,432.9 760.39,430.56 761.44,428.28 762.48,426.04 763.53,423.85 764.57,421.71 765.62,419.6 766.66,417.55 767.71,415.53 768.76,413.55 769.8,411.62 770.85,409.72 771.89,407.86 772.94,406.04 773.98,404.25 775.03,402.49 776.07,400.77 777.12,399.07 778.17,397.41 779.21,395.78 780.26,394.17 781.3,392.59 782.35,391.04 783.39,389.51 784.44,388.01 785.49,386.52 786.53,385.06 787.58,383.62 788.62,382.19 789.67,380.78 790.71,379.39 791.76,378.02 792.8,376.65 793.85,375.3 794.9,373.97 795.94,372.64 796.99,371.33 798.03,370.02 799.08,368.73 800.12,367.45 801.17,366.17 802.21,364.91 803.26,363.66 804.31,362.42 805.35,361.19 806.4,359.97 807.44,358.76 808.49,357.55 809.53,356.36 810.58,355.17 811.62,354 812.67,352.83 813.72,351.67 814.76,350.52 815.81,349.38 816.85,348.24 817.9,347.11 818.94,345.99 819.99,344.88 821.03,343.78 822.08,342.68 823.13,341.58 824.17,340.5 825.22,339.42 826.26,338.35 827.31,337.28 828.35,336.22 829.4,335.16 830.45,334.11 831.49,333.07 832.54,332.03 833.58,330.99 834.63,329.96 835.67,328.93 836.72,327.91 837.76,326.89 838.81,325.88 839.86,324.87 840.9,323.86 841.95,322.86 842.99,321.86 844.04,320.86 845.08,319.87 846.13,318.87 847.17,317.89 848.22,316.9 849.27,315.91 850.31,314.93 851.36,313.95 852.4,312.97 853.45,311.99 854.49,311.01 855.54,310.04 856.58,309.06 857.63,308.09 858.68,307.11 859.72,306.14 860.77,305.16 861.81,304.19 862.86,303.21 863.9,302.24 864.95,301.26 865.99,300.28 867.04,299.31 868.09,298.33 869.13,297.35 870.18,296.36 871.22,295.38 872.27,294.39 873.31,293.4 874.36,292.41 875.4,291.42 876.45,290.42 877.5,289.43 878.54,288.42 879.59,287.42 880.63,286.41 881.68,285.4 882.72,284.38 882.83,312.69 883.37,314.75 883.9,316.73 884.44,318.64 884.98,320.48 885.52,322.25 886.06,323.96 886.6,325.61 887.13,327.2 887.67,328.74 888.21,330.23 888.75,331.68 889.29,333.08 889.83,334.43 890.36,335.75 890.9,337.03 891.44,338.28 891.98,339.49 892.52,340.67 893.06,341.82 893.59,342.94 894.13,344.04 894.67,345.11 895.21,346.16 895.75,347.19 896.29,348.19 896.82,349.18 897.36,350.14 897.9,351.09 898.44,352.03 898.98,352.94 899.52,353.85 900.06,354.73 900.59,355.61 901.13,356.47 901.67,357.32 902.21,358.17 902.75,359 903.29,359.82 903.82,360.63 904.36,361.43 904.9,362.22 905.44,363.01 905.98,363.79 906.52,364.56 907.05,365.32 907.59,366.08 908.13,366.84 908.67,367.59 909.21,368.33 909.75,369.07 910.28,369.8 910.82,370.53 911.36,371.25 911.9,371.97 912.44,372.69 912.98,373.4 913.51,374.12 914.05,374.82 914.59,375.53 915.13,376.23 915.67,376.93 916.21,377.63 916.75,378.32 917.28,379.01 917.82,379.7 918.36,380.39 918.9,381.08 919.44,381.76 919.98,382.45 920.92,383.64 921.87,384.84 922.82,386.03 923.76,387.22 924.71,388.4 925.66,389.58 926.6,390.76 927.55,391.93 928.5,393.11 929.44,394.28 930.39,395.45 931.34,396.62 932.29,397.79 933.23,398.96 934.18,400.12 935.13,401.29 936.07,402.45 937.02,403.61 937.97,404.78 938.91,405.94 939.86,407.1 940.81,408.26 941.75,409.42 942.7,410.58 943.65,411.74 944.6,412.9 945.54,414.06 946.49,415.21 947.44,416.37 948.38,417.53 949.33,418.69 950.28,419.85 951.22,421.01 952.17,422.16 953.12,423.32 954.06,424.48 955.01,425.64 955.96,426.79 956.9,427.95 957.85,429.11 958.8,430.27 959.75,431.43 960.69,432.58 961.64,433.74 962.59,434.9 963.53,436.06 964.48,437.21 965.43,438.37 966.37,439.53 967.32,440.69 968.27,441.84 969.21,443 970.16,444.16 971.11,445.32 972.06,446.48 973,447.63 973.95,448.79 974.9,449.95 975.84,451.11 976.79,452.27 977.74,453.43 978.68,454.58 979.63,455.74 980.58,456.9 981.52,458.06 982.47,459.22 983.42,460.38 984.37,461.54 985.31,462.7" fill="none" stroke="#10128c" stroke-width="1.9" stroke-linejoin="round" stroke-linecap="round" />
<polyline points="758.3,462.7 758.3,435.28 759.24,432.12 760.18,429.09 761.12,426.17 762.06,423.37 762.99,420.67 763.93,418.07 764.87,415.57 765.81,413.16 766.75,410.84 767.69,408.6 768.63,406.44 769.57,404.36 770.5,402.34 771.44,400.39 772.38,398.51 773.32,396.7 774.26,394.94 775.2,393.24 776.14,391.59 777.08,389.99 778.01,388.44 778.95,386.93 779.89,385.46 780.83,384.04 781.77,382.64 782.71,381.28 783.65,379.95 784.59,378.64 785.52,377.36 786.46,376.09 787.4,374.85 788.34,373.61 789.28,372.39 790.22,371.18 791.16,369.97 792.1,368.78 793.03,367.59 793.97,366.41 794.91,365.24 795.85,364.07 796.79,362.92 797.73,361.77 798.67,360.63 799.61,359.5 800.54,358.37 801.48,357.26 802.42,356.14 803.36,355.04 804.3,353.94 805.24,352.85 806.18,351.77 807.12,350.69 808.05,349.62 808.99,348.55 809.93,347.49 810.87,346.43 811.81,345.38 812.75,344.34 813.69,343.3 814.63,342.27 815.57,341.24 816.5,340.21 817.44,339.19 818.38,338.17 819.32,337.16 820.26,336.15 821.2,335.15 822.14,334.15 823.08,333.15 824.01,332.16 824.95,331.17 825.89,330.18 826.83,329.2 827.77,328.21 828.71,327.24 829.65,326.26 830.59,325.28 831.52,324.31 832.46,323.34 833.4,322.37 834.34,321.41 835.28,320.44 836.22,319.48 837.16,318.52 838.1,317.56 839.03,316.59 839.97,315.63 840.91,314.68 841.85,313.72 842.79,312.76 843.73,311.8 844.67,310.84 845.61,309.88 846.54,308.92 847.48,307.96 848.42,307 849.36,306.04 850.3,305.08 851.24,304.12 852.18,303.15 853.12,302.19 854.05,301.22 854.99,300.25 855.93,299.28 856.87,298.31 857.81,297.33 858.75,296.35 859.69,295.37 860.63,294.39 861.56,293.41 862.5,292.42 863.44,291.42 864.38,290.43 865.32,289.43 866.26,288.43 867.2,287.42 868.14,286.41 869.08,285.4 870.01,284.38 870.16,312.02 870.42,313.4 870.68,314.73 870.94,316 871.2,317.23 871.46,318.42 871.72,319.56 871.98,320.66 872.24,321.72 872.5,322.75 872.76,323.74 873.02,324.7 873.28,325.63 873.54,326.54 873.81,327.41 874.07,328.26 874.33,329.09 874.59,329.89 874.85,330.67 875.11,331.43 875.37,332.18 875.63,332.9 875.89,333.61 876.15,334.3 876.41,334.97 876.67,335.63 876.93,336.28 877.19,336.91 877.45,337.54 877.71,338.15 877.97,338.75 878.23,339.34 878.49,339.91 878.75,340.48 879.02,341.04 879.28,341.6 879.54,342.14 879.8,342.68 880.06,343.21 880.32,343.73 880.58,344.25 880.84,344.76 881.1,345.27 881.36,345.77 881.62,346.26 881.88,346.75 882.14,347.23 882.4,347.72 882.66,348.19 882.92,348.66 883.18,349.13 883.44,349.6 883.7,350.06 883.97,350.52 884.23,350.97 884.49,351.42 884.75,351.87 885.01,352.32 885.27,352.76 885.53,353.21 885.79,353.65 886.05,354.08 886.31,354.52 886.57,354.95 886.83,355.38 887.09,355.81 887.35,356.24 887.61,356.66 887.87,357.09 888.13,357.51 889.38,359.5 890.62,361.47 891.87,363.41 893.12,365.33 894.36,367.24 895.61,369.12 896.85,370.98 898.1,372.83 899.34,374.67 900.59,376.49 901.84,378.3 903.08,380.1 904.33,381.88 905.57,383.65 906.82,385.41 908.06,387.16 909.31,388.89 910.56,390.62 911.8,392.33 913.05,394.03 914.29,395.71 915.54,397.39 916.78,399.05 918.03,400.7 919.28,402.34 920.52,403.97 921.77,405.58 923.01,407.18 924.26,408.78 925.5,410.35 926.75,411.92 928,413.48 929.24,415.02 930.49,416.55 931.73,418.07 932.98,419.58 934.22,421.08 935.47,422.56 936.71,424.04 937.96,425.5 939.21,426.95 940.45,428.38 941.7,429.81 942.94,431.22 944.19,432.62 945.43,434.01 946.68,435.39 947.93,436.76 949.17,438.11 950.42,439.45 951.66,440.78 952.91,442.1 954.15,443.41 955.4,444.7 956.65,445.99 957.89,447.26 959.14,448.52 960.38,449.76 961.63,451 962.87,452.22 964.12,453.43 965.37,454.63 966.61,455.82 967.86,457 969.1,458.16 970.35,459.31 971.59,460.46 972.84,461.58 974.09,462.7" fill="none" stroke="#1438e0" stroke-width="1.9" stroke-linejoin="round" stroke-linecap="round" />
<polyline points="758.3,462.7 758.3,435.28 759.22,432.12 760.14,429.09 761.06,426.17 761.97,423.37 762.89,420.67 763.81,418.07 764.73,415.57 765.65,413.16 766.57,410.84 767.49,408.6 768.4,406.44 769.32,404.36 770.24,402.34 771.16,400.39 772.08,398.51 773,396.7 773.91,394.94 774.83,393.24 775.75,391.59 776.67,389.99 777.59,388.44 778.51,386.93 779.43,385.46 780.34,384.04 781.26,382.64 782.18,381.28 783.1,379.95 784.02,378.64 784.94,377.36 785.86,376.09 786.77,374.85 787.69,373.61 788.61,372.39 789.53,371.18 790.45,369.97 791.37,368.78 792.29,367.59 793.2,366.41 794.12,365.24 795.04,364.07 795.96,362.92 796.88,361.77 797.8,360.63 798.71,359.5 799.63,358.37 800.55,357.26 801.47,356.14 802.39,355.04 803.31,353.94 804.23,352.85 805.14,351.77 806.06,350.69 806.98,349.62 807.9,348.55 808.82,347.49 809.74,346.43 810.66,345.38 811.57,344.34 812.49,343.3 813.41,342.27 814.33,341.24 815.25,340.21 816.17,339.19 817.09,338.17 818,337.16 818.92,336.15 819.84,335.15 820.76,334.15 821.68,333.15 822.6,332.16 823.51,331.17 824.43,330.18 825.35,329.2 826.27,328.21 827.19,327.24 828.11,326.26 829.03,325.28 829.94,324.31 830.86,323.34 831.78,322.37 832.7,321.41 833.62,320.44 834.54,319.48 835.46,318.52 836.37,317.56 837.29,316.59 838.21,315.63 839.13,314.68 840.05,313.72 840.97,312.76 841.89,311.8 842.8,310.84 843.72,309.88 844.64,308.92 845.56,307.96 846.48,307 847.4,306.04 848.31,305.08 849.23,304.12 850.15,303.15 851.07,302.19 851.99,301.22 852.91,300.25 853.83,299.28 854.74,298.31 855.66,297.33 856.58,296.35 857.5,295.37 858.42,294.39 859.34,293.41 860.26,292.42 861.17,291.42 862.09,290.43 863.01,289.43 863.93,288.43 864.85,287.42 865.77,286.41 866.69,285.4 867.6,284.38 867.79,312.02 868.04,313.4 868.3,314.73 868.55,316.01 868.8,317.24 869.05,318.42 869.31,319.57 869.56,320.67 869.81,321.73 870.07,322.75 870.32,323.75 870.57,324.7 870.83,325.63 871.08,326.53 871.33,327.41 871.58,328.25 871.84,329.08 872.09,329.88 872.34,330.65 872.6,331.41 872.85,332.15 873.1,332.87 873.36,333.57 873.61,334.26 873.86,334.93 874.12,335.58 874.37,336.22 874.62,336.85 874.87,337.47 875.13,338.07 875.38,338.67 875.63,339.25 875.89,339.82 876.14,340.39 876.39,340.94 876.65,341.49 876.9,342.03 877.15,342.56 877.4,343.08 877.66,343.6 877.91,344.11 878.16,344.61 878.42,345.11 878.67,345.61 878.92,346.09 879.18,346.58 879.43,347.06 879.68,347.53 879.94,348 880.19,348.47 880.44,348.93 880.69,349.39 880.95,349.84 881.2,350.29 881.45,350.74 881.71,351.19 881.96,351.63 882.21,352.07 882.47,352.51 882.72,352.94 882.97,353.37 883.22,353.8 883.48,354.23 883.73,354.66 883.98,355.08 884.24,355.5 884.49,355.92 884.74,356.34 885,356.76 885.25,357.17 886.49,359.18 887.73,361.16 888.96,363.12 890.2,365.05 891.44,366.96 892.68,368.85 893.92,370.73 895.15,372.59 896.39,374.43 897.63,376.26 898.87,378.08 900.11,379.89 901.35,381.68 902.58,383.46 903.82,385.22 905.06,386.98 906.3,388.72 907.54,390.45 908.78,392.17 910.01,393.88 911.25,395.57 912.49,397.25 913.73,398.92 914.97,400.58 916.2,402.22 917.44,403.86 918.68,405.48 919.92,407.09 921.16,408.68 922.4,410.27 923.63,411.84 924.87,413.4 926.11,414.95 927.35,416.49 928.59,418.01 929.82,419.53 931.06,421.03 932.3,422.52 933.54,423.99 934.78,425.46 936.02,426.91 937.25,428.35 938.49,429.78 939.73,431.2 940.97,432.6 942.21,433.99 943.45,435.37 944.68,436.74 945.92,438.1 947.16,439.44 948.4,440.78 949.64,442.1 950.87,443.4 952.11,444.7 953.35,445.98 954.59,447.26 955.83,448.52 957.07,449.77 958.3,451 959.54,452.23 960.78,453.44 962.02,454.64 963.26,455.83 964.49,457 965.73,458.17 966.97,459.32 968.21,460.46 969.45,461.59 970.69,462.7" fill="none" stroke="#c4ef10" stroke-width="1.9" stroke-linejoin="round" stroke-linecap="round" />
<polyline points="758.3,462.7 758.3,435.28 759.21,432.12 760.11,429.09 761.02,426.17 761.92,423.37 762.83,420.67 763.73,418.07 764.64,415.57 765.54,413.16 766.45,410.84 767.35,408.6 768.26,406.44 769.16,404.36 770.07,402.34 770.97,400.39 771.88,398.51 772.78,396.7 773.69,394.94 774.59,393.24 775.5,391.59 776.4,389.99 777.31,388.44 778.21,386.93 779.12,385.46 780.02,384.04 780.93,382.64 781.83,381.28 782.74,379.95 783.64,378.64 784.55,377.36 785.45,376.09 786.36,374.85 787.26,373.61 788.17,372.39 789.07,371.18 789.98,369.97 790.88,368.78 791.79,367.59 792.69,366.41 793.6,365.24 794.5,364.07 795.41,362.92 796.31,361.77 797.22,360.63 798.12,359.5 799.03,358.37 799.93,357.26 800.84,356.14 801.74,355.04 802.65,353.94 803.55,352.85 804.46,351.77 805.36,350.69 806.27,349.62 807.17,348.55 808.08,347.49 808.98,346.43 809.89,345.38 810.79,344.34 811.7,343.3 812.6,342.27 813.51,341.24 814.41,340.21 815.32,339.19 816.22,338.17 817.13,337.16 818.03,336.15 818.94,335.15 819.84,334.15 820.75,333.15 821.65,332.16 822.56,331.17 823.46,330.18 824.37,329.2 825.27,328.21 826.18,327.24 827.08,326.26 827.99,325.28 828.89,324.31 829.8,323.34 830.7,322.37 831.61,321.41 832.51,320.44 833.42,319.48 834.32,318.52 835.23,317.56 836.13,316.59 837.04,315.63 837.94,314.68 838.85,313.72 839.75,312.76 840.66,311.8 841.56,310.84 842.47,309.88 843.37,308.92 844.28,307.96 845.18,307 846.09,306.04 846.99,305.08 847.9,304.12 848.8,303.15 849.71,302.19 850.61,301.22 851.52,300.25 852.42,299.28 853.33,298.31 854.23,297.33 855.14,296.35 856.04,295.37 856.95,294.39 857.85,293.41 858.76,292.42 859.66,291.42 860.57,290.43 861.47,289.43 862.38,288.43 863.28,287.42 864.19,286.41 865.09,285.4 866,284.38 866.14,312.02 866.38,313.41 866.61,314.74 866.85,316.02 867.09,317.26 867.32,318.44 867.56,319.58 867.8,320.68 868.03,321.74 868.27,322.76 868.51,323.75 868.74,324.71 868.98,325.63 869.22,326.52 869.45,327.39 869.69,328.23 869.93,329.04 870.16,329.83 870.4,330.6 870.63,331.35 870.87,332.08 871.11,332.79 871.34,333.48 871.58,334.16 871.82,334.81 872.05,335.46 872.29,336.09 872.53,336.71 872.76,337.31 873,337.9 873.24,338.48 873.47,339.05 873.71,339.61 873.95,340.16 874.18,340.7 874.42,341.24 874.66,341.76 874.89,342.28 875.13,342.79 875.37,343.29 875.6,343.78 875.84,344.27 876.07,344.76 876.31,345.24 876.55,345.71 876.78,346.18 877.02,346.64 877.26,347.1 877.49,347.55 877.73,348 877.97,348.45 878.2,348.89 878.44,349.33 878.68,349.77 878.91,350.2 879.15,350.63 879.39,351.06 879.62,351.48 879.86,351.9 880.1,352.32 880.33,352.74 880.57,353.15 880.81,353.57 881.04,353.98 881.28,354.38 881.51,354.79 881.75,355.19 881.99,355.6 882.22,356 882.46,356.4 883.68,358.44 884.9,360.45 886.13,362.43 887.35,364.38 888.57,366.31 889.79,368.23 891.01,370.13 892.24,372.01 893.46,373.88 894.68,375.73 895.9,377.57 897.12,379.39 898.35,381.2 899.57,383 900.79,384.79 902.01,386.56 903.23,388.32 904.45,390.07 905.68,391.8 906.9,393.53 908.12,395.24 909.34,396.94 910.56,398.62 911.79,400.29 913.01,401.95 914.23,403.6 915.45,405.24 916.67,406.86 917.9,408.47 919.12,410.07 920.34,411.65 921.56,413.23 922.78,414.79 924.01,416.34 925.23,417.87 926.45,419.4 927.67,420.91 928.89,422.41 930.11,423.89 931.34,425.37 932.56,426.83 933.78,428.28 935,429.71 936.22,431.14 937.45,432.55 938.67,433.95 939.89,435.34 941.11,436.71 942.33,438.07 943.56,439.42 944.78,440.76 946,442.08 947.22,443.4 948.44,444.7 949.67,445.98 950.89,447.26 952.11,448.52 953.33,449.77 954.55,451.01 955.77,452.23 957,453.45 958.22,454.65 959.44,455.83 960.66,457.01 961.88,458.17 963.11,459.32 964.33,460.46 965.55,461.59 966.77,462.7" fill="none" stroke="#ff5a1e" stroke-width="1.9" stroke-linejoin="round" stroke-linecap="round" />
<line x1="756.95" y1="262.7" x2="1006.35" y2="262.7" stroke="#111" stroke-width="1.7" />
<line x1="756.95" y1="462.7" x2="1006.35" y2="462.7" stroke="#111" stroke-width="1.7" />
<line x1="757.8" y1="261.85" x2="757.8" y2="463.55" stroke="#111" stroke-width="1.7" />
<line x1="1005.5" y1="261.85" x2="1005.5" y2="463.55" stroke="#111" stroke-width="1.7" />
<line x1="758.3" y1="462.7" x2="758.3" y2="466.5" stroke="#111" stroke-width="1.6" />
<line x1="799.5" y1="462.7" x2="799.5" y2="466.5" stroke="#111" stroke-width="1.6" />
<line x1="840.7" y1="462.7" x2="840.7" y2="466.5" stroke="#111" stroke-width="1.6" />
<line x1="881.9" y1="462.7" x2="881.9" y2="466.5" stroke="#111" stroke-width="1.6" />
<line x1="923.1" y1="462.7" x2="923.1" y2="466.5" stroke="#111" stroke-width="1.6" />
<line x1="964.3" y1="462.7" x2="964.3" y2="466.5" stroke="#111" stroke-width="1.6" />
<line x1="1005.5" y1="462.7" x2="1005.5" y2="466.5" stroke="#111" stroke-width="1.6" />
<line x1="778.9" y1="462.7" x2="778.9" y2="464.8" stroke="#111" stroke-width="1.2" />
<line x1="820.1" y1="462.7" x2="820.1" y2="464.8" stroke="#111" stroke-width="1.2" />
<line x1="861.3" y1="462.7" x2="861.3" y2="464.8" stroke="#111" stroke-width="1.2" />
<line x1="902.5" y1="462.7" x2="902.5" y2="464.8" stroke="#111" stroke-width="1.2" />
<line x1="943.7" y1="462.7" x2="943.7" y2="464.8" stroke="#111" stroke-width="1.2" />
<line x1="984.9" y1="462.7" x2="984.9" y2="464.8" stroke="#111" stroke-width="1.2" />
<text x="758.3" y="479.9" font-family="'Liberation Serif', serif" font-size="13.7" font-weight="bold" fill="#111" text-anchor="middle" >0</text>
<text x="799.5" y="479.9" font-family="'Liberation Serif', serif" font-size="13.7" font-weight="bold" fill="#111" text-anchor="middle" >200</text>
<text x="840.7" y="479.9" font-family="'Liberation Serif', serif" font-size="13.7" font-weight="bold" fill="#111" text-anchor="middle" >400</text>
<text x="881.9" y="479.9" font-family="'Liberation Serif', serif" font-size="13.7" font-weight="bold" fill="#111" text-anchor="middle" >600</text>
<text x="923.1" y="479.9" font-family="'Liberation Serif', serif" font-size="13.7" font-weight="bold" fill="#111" text-anchor="middle" >800</text>
<text x="964.3" y="479.9" font-family="'Liberation Serif', serif" font-size="13.7" font-weight="bold" fill="#111" text-anchor="middle" >1000</text>
<text x="1005.5" y="479.9" font-family="'Liberation Serif', serif" font-size="13.7" font-weight="bold" fill="#111" text-anchor="middle" >1200</text>
<line x1="757.8" y1="462.7" x2="754" y2="462.7" stroke="#111" stroke-width="1.6" />
<line x1="757.8" y1="418.12" x2="754" y2="418.12" stroke="#111" stroke-width="1.6" />
<line x1="757.8" y1="373.54" x2="754" y2="373.54" stroke="#111" stroke-width="1.6" />
<line x1="757.8" y1="328.96" x2="754" y2="328.96" stroke="#111" stroke-width="1.6" />
<line x1="757.8" y1="284.38" x2="754" y2="284.38" stroke="#111" stroke-width="1.6" />
<line x1="757.8" y1="440.41" x2="755.7" y2="440.41" stroke="#111" stroke-width="1.2" />
<line x1="757.8" y1="395.83" x2="755.7" y2="395.83" stroke="#111" stroke-width="1.2" />
<line x1="757.8" y1="351.25" x2="755.7" y2="351.25" stroke="#111" stroke-width="1.2" />
<line x1="757.8" y1="306.67" x2="755.7" y2="306.67" stroke="#111" stroke-width="1.2" />
<text x="751.3" y="467.25" font-family="'Liberation Serif', serif" font-size="13.7" font-weight="bold" fill="#111" text-anchor="end" >0.0</text>
<text x="751.3" y="422.67" font-family="'Liberation Serif', serif" font-size="13.7" font-weight="bold" fill="#111" text-anchor="end" >0.2</text>
<text x="751.3" y="378.09" font-family="'Liberation Serif', serif" font-size="13.7" font-weight="bold" fill="#111" text-anchor="end" >0.4</text>
<text x="751.3" y="333.51" font-family="'Liberation Serif', serif" font-size="13.7" font-weight="bold" fill="#111" text-anchor="end" >0.6</text>
<text x="751.3" y="288.93" font-family="'Liberation Serif', serif" font-size="13.7" font-weight="bold" fill="#111" text-anchor="end" >0.8</text>
<line x1="896.8" y1="279.5" x2="921.7" y2="279.5" stroke="#10128c" stroke-width="2.2" />
<text x="923.3" y="282.7" font-family="'Liberation Serif', serif" font-size="10.6" font-weight="bold" fill="#111" text-anchor="start" >0</text>
<line x1="896.8" y1="292.43" x2="921.7" y2="292.43" stroke="#1438e0" stroke-width="2.2" />
<text x="923.3" y="295.63" font-family="'Liberation Serif', serif" font-size="10.6" font-weight="bold" fill="#111" text-anchor="start" >Strain 30%</text>
<line x1="896.8" y1="305.36" x2="921.7" y2="305.36" stroke="#c4ef10" stroke-width="2.2" />
<text x="923.3" y="308.56" font-family="'Liberation Serif', serif" font-size="10.6" font-weight="bold" fill="#111" text-anchor="start" >Strain 50%</text>
<line x1="896.8" y1="318.29" x2="921.7" y2="318.29" stroke="#ff5a1e" stroke-width="2.2" />
<text x="923.3" y="321.49" font-family="'Liberation Serif', serif" font-size="10.6" font-weight="bold" fill="#111" text-anchor="start" >Strain 80%</text>
<rect x="800.6" y="372.7" width="88.1" height="69.4" fill="#fff" stroke="#3a3a3a" stroke-width="1.0"/>
<line x1="800.6" y1="442.1" x2="799" y2="442.1" stroke="#3a3a3a" stroke-width="0.6" />
<text x="798.6" y="443.6" font-family="'Liberation Serif', serif" font-size="4.2" font-weight="bold" fill="#2a2a2a" text-anchor="end" >0</text>
<line x1="800.6" y1="429.54" x2="799" y2="429.54" stroke="#3a3a3a" stroke-width="0.6" />
<text x="798.6" y="431.04" font-family="'Liberation Serif', serif" font-size="4.2" font-weight="bold" fill="#2a2a2a" text-anchor="end" >20</text>
<line x1="800.6" y1="416.98" x2="799" y2="416.98" stroke="#3a3a3a" stroke-width="0.6" />
<text x="798.6" y="418.48" font-family="'Liberation Serif', serif" font-size="4.2" font-weight="bold" fill="#2a2a2a" text-anchor="end" >40</text>
<line x1="800.6" y1="404.42" x2="799" y2="404.42" stroke="#3a3a3a" stroke-width="0.6" />
<text x="798.6" y="405.92" font-family="'Liberation Serif', serif" font-size="4.2" font-weight="bold" fill="#2a2a2a" text-anchor="end" >60</text>
<line x1="800.6" y1="391.86" x2="799" y2="391.86" stroke="#3a3a3a" stroke-width="0.6" />
<text x="798.6" y="393.36" font-family="'Liberation Serif', serif" font-size="4.2" font-weight="bold" fill="#2a2a2a" text-anchor="end" >80</text>
<line x1="800.6" y1="379.29" x2="799" y2="379.29" stroke="#3a3a3a" stroke-width="0.6" />
<text x="798.6" y="380.79" font-family="'Liberation Serif', serif" font-size="4.2" font-weight="bold" fill="#2a2a2a" text-anchor="end" >100</text>
<line x1="806.66" y1="442.1" x2="806.66" y2="443.6" stroke="#3a3a3a" stroke-width="0.6" />
<text x="806.66" y="447.9" font-family="'Liberation Serif', serif" font-size="4.2" font-weight="bold" fill="#2a2a2a" text-anchor="middle" >0</text>
<line x1="831.9" y1="442.1" x2="831.9" y2="443.6" stroke="#3a3a3a" stroke-width="0.6" />
<text x="831.9" y="447.9" font-family="'Liberation Serif', serif" font-size="4.2" font-weight="bold" fill="#2a2a2a" text-anchor="middle" >30</text>
<line x1="857.15" y1="442.1" x2="857.15" y2="443.6" stroke="#3a3a3a" stroke-width="0.6" />
<text x="857.15" y="447.9" font-family="'Liberation Serif', serif" font-size="4.2" font-weight="bold" fill="#2a2a2a" text-anchor="middle" >50</text>
<line x1="882.39" y1="442.1" x2="882.39" y2="443.6" stroke="#3a3a3a" stroke-width="0.6" />
<text x="882.39" y="447.9" font-family="'Liberation Serif', serif" font-size="4.2" font-weight="bold" fill="#2a2a2a" text-anchor="middle" >80</text>
<polyline points="806.66,379.29 831.9,380.93 857.15,381.43 882.39,381.74" fill="none" stroke="#ff4a4a" stroke-width="1.1" stroke-linejoin="round" stroke-linecap="round" />
<circle cx="806.66" cy="379.29" r="0.9" fill="#ff4a4a"/>
<circle cx="831.9" cy="380.93" r="0.9" fill="#ff4a4a"/>
<circle cx="857.15" cy="381.43" r="0.9" fill="#ff4a4a"/>
<circle cx="882.39" cy="381.74" r="0.9" fill="#ff4a4a"/>
<text x="844.6" y="452.5" font-family="'Liberation Serif', serif" font-size="5.2" font-weight="bold" fill="#2a2a2a" text-anchor="middle" >Strain(%)</text>
<text x="791" y="408" font-family="'Liberation Serif', serif" font-size="5.4" font-weight="bold" fill="#2a2a2a" text-anchor="middle" transform="rotate(-90 791 408)" >C/C<tspan font-size="3.4" dy="1.2">0</tspan></text>
<text x="882.5" y="496.4" font-family="'Liberation Serif', serif" font-size="17" font-weight="bold" fill="#111" text-anchor="middle" >Times (s)</text>
<text x="727.6" y="358.2" font-family="'Liberation Serif', serif" font-size="17" font-weight="bold" fill="#111" text-anchor="middle" transform="rotate(-90 727.6 358.2)" >Voltage (V)</text>
<text x="709.8" y="280.4" font-family="'Liberation Serif', serif" font-size="19.5" font-weight="bold" fill="#ff0000" text-anchor="start" >(f)</text>
<defs><pattern id="hg" patternUnits="userSpaceOnUse" width="5.57" height="5.57"><rect width="5.57" height="5.57" fill="#33ff33"/><path d="M0,0 L5.57,5.57 M5.57,0 L0,5.57 M-1,4.57 L1,6.57 M4.57,-1 L6.57,1 M-1,1 L1,-1 M4.57,6.57 L6.57,4.57" stroke="#16a416" stroke-width="0.95"/></pattern></defs>
<defs><pattern id="hr" patternUnits="userSpaceOnUse" width="5.57" height="5.57"><rect width="5.57" height="5.57" fill="#ff6767"/><path d="M0,0 L5.57,5.57 M5.57,0 L0,5.57 M-1,4.57 L1,6.57 M4.57,-1 L6.57,1 M-1,1 L1,-1 M4.57,6.57 L6.57,4.57" stroke="#dd3a3a" stroke-width="0.95"/></pattern></defs>
<defs><pattern id="hm" patternUnits="userSpaceOnUse" width="5.57" height="5.57"><rect width="5.57" height="5.57" fill="#dd35ff"/><path d="M0,0 L5.57,5.57 M5.57,0 L0,5.57 M-1,4.57 L1,6.57 M4.57,-1 L6.57,1 M-1,1 L1,-1 M4.57,6.57 L6.57,4.57" stroke="#9e14bf" stroke-width="0.95"/></pattern></defs>
<defs><pattern id="hg2" patternUnits="userSpaceOnUse" width="5.57" height="5.57"><rect width="5.57" height="5.57" fill="#2cff2c"/><path d="M0,0 L5.57,5.57 M5.57,0 L0,5.57 M-1,4.57 L1,6.57 M4.57,-1 L6.57,1 M-1,1 L1,-1 M4.57,6.57 L6.57,4.57" stroke="#12a012" stroke-width="0.95"/></pattern></defs>
<rect x="73" y="544" width="23.3" height="169.1" fill="url(#hg)"/>
<rect x="100.9" y="527.7" width="23.2" height="185.4" fill="url(#hr)"/>
<rect x="135.9" y="544" width="23.4" height="169.1" fill="url(#hg)"/>
<rect x="164.1" y="537.7" width="23.1" height="175.4" fill="url(#hr)"/>
<rect x="198.4" y="544.5" width="23.4" height="168.6" fill="url(#hg)"/>
<rect x="226.6" y="540.9" width="23.2" height="172.2" fill="url(#hr)"/>
<rect x="261.7" y="547.7" width="23.2" height="165.4" fill="url(#hg)"/>
<rect x="289.9" y="544.5" width="23.2" height="168.6" fill="url(#hr)"/>
<line x1="65.95" y1="510.1" x2="320.05" y2="510.1" stroke="#111" stroke-width="1.7" />
<line x1="65.95" y1="713.1" x2="320.05" y2="713.1" stroke="#111" stroke-width="1.7" />
<line x1="66.8" y1="509.25" x2="66.8" y2="713.95" stroke="#1ed21e" stroke-width="2.3" />
<line x1="319.2" y1="509.25" x2="319.2" y2="713.95" stroke="#d40000" stroke-width="2.3" />
<line x1="98.6" y1="713.1" x2="98.6" y2="716.7" stroke="#111" stroke-width="1.4" />
<text x="98.6" y="729.6" font-family="'Liberation Serif', serif" font-size="13.7" font-weight="bold" fill="#111" text-anchor="middle" >10</text>
<line x1="161.1" y1="713.1" x2="161.1" y2="716.7" stroke="#111" stroke-width="1.4" />
<text x="161.1" y="729.6" font-family="'Liberation Serif', serif" font-size="13.7" font-weight="bold" fill="#111" text-anchor="middle" >20</text>
<line x1="223.6" y1="713.1" x2="223.6" y2="716.7" stroke="#111" stroke-width="1.4" />
<text x="223.6" y="729.6" font-family="'Liberation Serif', serif" font-size="13.7" font-weight="bold" fill="#111" text-anchor="middle" >30</text>
<line x1="286.1" y1="713.1" x2="286.1" y2="716.7" stroke="#111" stroke-width="1.4" />
<text x="286.1" y="729.6" font-family="'Liberation Serif', serif" font-size="13.7" font-weight="bold" fill="#111" text-anchor="middle" >40</text>
<line x1="129.85" y1="713.1" x2="129.85" y2="715.1" stroke="#111" stroke-width="1.2" />
<line x1="192.35" y1="713.1" x2="192.35" y2="715.1" stroke="#111" stroke-width="1.2" />
<line x1="254.85" y1="713.1" x2="254.85" y2="715.1" stroke="#111" stroke-width="1.2" />
<line x1="66.8" y1="713.1" x2="63" y2="713.1" stroke="#1ed21e" stroke-width="1.6" />
<line x1="66.8" y1="679.27" x2="63" y2="679.27" stroke="#1ed21e" stroke-width="1.6" />
<line x1="66.8" y1="645.43" x2="63" y2="645.43" stroke="#1ed21e" stroke-width="1.6" />
<line x1="66.8" y1="611.6" x2="63" y2="611.6" stroke="#1ed21e" stroke-width="1.6" />
<line x1="66.8" y1="577.77" x2="63" y2="577.77" stroke="#1ed21e" stroke-width="1.6" />
<line x1="66.8" y1="543.93" x2="63" y2="543.93" stroke="#1ed21e" stroke-width="1.6" />
<line x1="66.8" y1="510.1" x2="63" y2="510.1" stroke="#1ed21e" stroke-width="1.6" />
<line x1="66.8" y1="696.18" x2="64.7" y2="696.18" stroke="#1ed21e" stroke-width="1.2" />
<line x1="66.8" y1="662.35" x2="64.7" y2="662.35" stroke="#1ed21e" stroke-width="1.2" />
<line x1="66.8" y1="628.52" x2="64.7" y2="628.52" stroke="#1ed21e" stroke-width="1.2" />
<line x1="66.8" y1="594.68" x2="64.7" y2="594.68" stroke="#1ed21e" stroke-width="1.2" />
<line x1="66.8" y1="560.85" x2="64.7" y2="560.85" stroke="#1ed21e" stroke-width="1.2" />
<line x1="66.8" y1="527.02" x2="64.7" y2="527.02" stroke="#1ed21e" stroke-width="1.2" />
<text x="60.1" y="717.65" font-family="'Liberation Serif', serif" font-size="13.7" font-weight="bold" fill="#1ed21e" text-anchor="end" >0</text>
<text x="60.1" y="683.82" font-family="'Liberation Serif', serif" font-size="13.7" font-weight="bold" fill="#1ed21e" text-anchor="end" >20</text>
<text x="60.1" y="649.98" font-family="'Liberation Serif', serif" font-size="13.7" font-weight="bold" fill="#1ed21e" text-anchor="end" >40</text>
<text x="60.1" y="616.15" font-family="'Liberation Serif', serif" font-size="13.7" font-weight="bold" fill="#1ed21e" text-anchor="end" >60</text>
<text x="60.1" y="582.32" font-family="'Liberation Serif', serif" font-size="13.7" font-weight="bold" fill="#1ed21e" text-anchor="end" >80</text>
<text x="60.1" y="548.48" font-family="'Liberation Serif', serif" font-size="13.7" font-weight="bold" fill="#1ed21e" text-anchor="end" >100</text>
<text x="60.1" y="514.65" font-family="'Liberation Serif', serif" font-size="13.7" font-weight="bold" fill="#1ed21e" text-anchor="end" >120</text>
<line x1="319.2" y1="713.1" x2="322.2" y2="713.1" stroke="#d40000" stroke-width="1.6" />
<line x1="319.2" y1="676.19" x2="322.2" y2="676.19" stroke="#d40000" stroke-width="1.6" />
<line x1="319.2" y1="639.28" x2="322.2" y2="639.28" stroke="#d40000" stroke-width="1.6" />
<line x1="319.2" y1="602.37" x2="322.2" y2="602.37" stroke="#d40000" stroke-width="1.6" />
<line x1="319.2" y1="565.46" x2="322.2" y2="565.46" stroke="#d40000" stroke-width="1.6" />
<line x1="319.2" y1="528.55" x2="322.2" y2="528.55" stroke="#d40000" stroke-width="1.6" />
<line x1="319.2" y1="694.65" x2="321" y2="694.65" stroke="#d40000" stroke-width="1.2" />
<line x1="319.2" y1="657.74" x2="321" y2="657.74" stroke="#d40000" stroke-width="1.2" />
<line x1="319.2" y1="620.83" x2="321" y2="620.83" stroke="#d40000" stroke-width="1.2" />
<line x1="319.2" y1="583.92" x2="321" y2="583.92" stroke="#d40000" stroke-width="1.2" />
<line x1="319.2" y1="547.01" x2="321" y2="547.01" stroke="#d40000" stroke-width="1.2" />
<line x1="319.2" y1="510.1" x2="321" y2="510.1" stroke="#d40000" stroke-width="1.2" />
<text x="325" y="717.65" font-family="'Liberation Serif', serif" font-size="13.7" font-weight="bold" fill="#d40000" text-anchor="start" >0</text>
<text x="325" y="680.74" font-family="'Liberation Serif', serif" font-size="13.7" font-weight="bold" fill="#d40000" text-anchor="start" >20</text>
<text x="325" y="643.83" font-family="'Liberation Serif', serif" font-size="13.7" font-weight="bold" fill="#d40000" text-anchor="start" >40</text>
<text x="325" y="606.92" font-family="'Liberation Serif', serif" font-size="13.7" font-weight="bold" fill="#d40000" text-anchor="start" >60</text>
<text x="325" y="570.01" font-family="'Liberation Serif', serif" font-size="13.7" font-weight="bold" fill="#d40000" text-anchor="start" >80</text>
<text x="325" y="533.1" font-family="'Liberation Serif', serif" font-size="13.7" font-weight="bold" fill="#d40000" text-anchor="start" >100</text>
<rect x="151.2" y="512.6" width="24.1" height="11.4" fill="url(#hg)"/>
<text x="177.3" y="522.3" font-family="'Liberation Serif', serif" font-size="10.6" font-weight="bold" fill="#111" text-anchor="start" >CV</text>
<rect x="235.1" y="512.6" width="24.2" height="11.4" fill="url(#hr)"/>
<text x="261.6" y="522.3" font-family="'Liberation Serif', serif" font-size="10.6" font-weight="bold" fill="#111" text-anchor="start" >GCD</text>
<text x="191" y="745" font-family="'Liberation Serif', serif" font-size="17.3" font-weight="bold" fill="#111" text-anchor="middle" >Strain (%)</text>
<text x="41.8" y="630.3" font-family="'Liberation Serif', serif" font-size="18.5" font-weight="bold" fill="#1ed21e" text-anchor="start" transform="rotate(-90 41.8 630.3)" >C/C<tspan font-size="12" dy="3.5">0</tspan></text>
<text x="355.6" y="630.3" font-family="'Liberation Serif', serif" font-size="18.5" font-weight="bold" fill="#d40000" text-anchor="start" transform="rotate(-90 355.6 630.3)" >C/C<tspan font-size="12" dy="3.5">0</tspan></text>
<text x="3.6" y="526.5" font-family="'Liberation Serif', serif" font-size="19.5" font-weight="bold" fill="#ff0000" text-anchor="start" >(g)</text>
<rect x="72.7" y="798.8" width="23.4" height="168.6" fill="url(#hm)"/>
<rect x="100.1" y="798.5" width="23.7" height="168.9" fill="url(#hg2)"/>
<rect x="135.7" y="802.7" width="23.7" height="164.7" fill="url(#hm)"/>
<rect x="163.3" y="798.8" width="23.5" height="168.6" fill="url(#hg2)"/>
<rect x="198.9" y="804" width="23.2" height="163.4" fill="url(#hm)"/>
<rect x="226.1" y="801.9" width="23.7" height="165.5" fill="url(#hg2)"/>
<rect x="262.2" y="804.8" width="23.2" height="162.6" fill="url(#hm)"/>
<rect x="289.4" y="804.6" width="23.2" height="162.8" fill="url(#hg2)"/>
<line x1="65.85" y1="765.2" x2="319.95" y2="765.2" stroke="#111" stroke-width="1.7" />
<line x1="65.85" y1="967.4" x2="319.95" y2="967.4" stroke="#111" stroke-width="1.7" />
<line x1="66.7" y1="764.35" x2="66.7" y2="968.25" stroke="#d23cf5" stroke-width="2.3" />
<line x1="319.1" y1="764.35" x2="319.1" y2="968.25" stroke="#22ee22" stroke-width="2.3" />
<line x1="98.3" y1="967.4" x2="98.3" y2="971" stroke="#111" stroke-width="1.4" />
<text x="98.3" y="983.9" font-family="'Liberation Serif', serif" font-size="13.7" font-weight="bold" fill="#111" text-anchor="middle" >0</text>
<line x1="161.3" y1="967.4" x2="161.3" y2="971" stroke="#111" stroke-width="1.4" />
<text x="161.3" y="983.9" font-family="'Liberation Serif', serif" font-size="13.7" font-weight="bold" fill="#111" text-anchor="middle" >10</text>
<line x1="224.6" y1="967.4" x2="224.6" y2="971" stroke="#111" stroke-width="1.4" />
<text x="224.6" y="983.9" font-family="'Liberation Serif', serif" font-size="13.7" font-weight="bold" fill="#111" text-anchor="middle" >20</text>
<line x1="287.4" y1="967.4" x2="287.4" y2="971" stroke="#111" stroke-width="1.4" />
<text x="287.4" y="983.9" font-family="'Liberation Serif', serif" font-size="13.7" font-weight="bold" fill="#111" text-anchor="middle" >30</text>
<line x1="129.8" y1="967.4" x2="129.8" y2="969.4" stroke="#111" stroke-width="1.2" />
<line x1="192.9" y1="967.4" x2="192.9" y2="969.4" stroke="#111" stroke-width="1.2" />
<line x1="256" y1="967.4" x2="256" y2="969.4" stroke="#111" stroke-width="1.2" />
<line x1="66.7" y1="967.4" x2="62.9" y2="967.4" stroke="#d23cf5" stroke-width="1.6" />
<line x1="66.7" y1="933.7" x2="62.9" y2="933.7" stroke="#d23cf5" stroke-width="1.6" />
<line x1="66.7" y1="900" x2="62.9" y2="900" stroke="#d23cf5" stroke-width="1.6" />
<line x1="66.7" y1="866.3" x2="62.9" y2="866.3" stroke="#d23cf5" stroke-width="1.6" />
<line x1="66.7" y1="832.6" x2="62.9" y2="832.6" stroke="#d23cf5" stroke-width="1.6" />
<line x1="66.7" y1="798.9" x2="62.9" y2="798.9" stroke="#d23cf5" stroke-width="1.6" />
<line x1="66.7" y1="765.2" x2="62.9" y2="765.2" stroke="#d23cf5" stroke-width="1.6" />
<line x1="66.7" y1="950.55" x2="64.6" y2="950.55" stroke="#d23cf5" stroke-width="1.2" />
<line x1="66.7" y1="916.85" x2="64.6" y2="916.85" stroke="#d23cf5" stroke-width="1.2" />
<line x1="66.7" y1="883.15" x2="64.6" y2="883.15" stroke="#d23cf5" stroke-width="1.2" />
<line x1="66.7" y1="849.45" x2="64.6" y2="849.45" stroke="#d23cf5" stroke-width="1.2" />
<line x1="66.7" y1="815.75" x2="64.6" y2="815.75" stroke="#d23cf5" stroke-width="1.2" />
<line x1="66.7" y1="782.05" x2="64.6" y2="782.05" stroke="#d23cf5" stroke-width="1.2" />
<text x="60" y="971.95" font-family="'Liberation Serif', serif" font-size="13.7" font-weight="bold" fill="#d84af7" text-anchor="end" >0</text>
<text x="60" y="938.25" font-family="'Liberation Serif', serif" font-size="13.7" font-weight="bold" fill="#d84af7" text-anchor="end" >20</text>
<text x="60" y="904.55" font-family="'Liberation Serif', serif" font-size="13.7" font-weight="bold" fill="#d84af7" text-anchor="end" >40</text>
<text x="60" y="870.85" font-family="'Liberation Serif', serif" font-size="13.7" font-weight="bold" fill="#d84af7" text-anchor="end" >60</text>
<text x="60" y="837.15" font-family="'Liberation Serif', serif" font-size="13.7" font-weight="bold" fill="#d84af7" text-anchor="end" >80</text>
<text x="60" y="803.45" font-family="'Liberation Serif', serif" font-size="13.7" font-weight="bold" fill="#d84af7" text-anchor="end" >100</text>
<text x="60" y="769.75" font-family="'Liberation Serif', serif" font-size="13.7" font-weight="bold" fill="#d84af7" text-anchor="end" >120</text>
<line x1="319.1" y1="967.4" x2="322.1" y2="967.4" stroke="#22ee22" stroke-width="1.6" />
<line x1="319.1" y1="916.85" x2="322.1" y2="916.85" stroke="#22ee22" stroke-width="1.6" />
<line x1="319.1" y1="866.3" x2="322.1" y2="866.3" stroke="#22ee22" stroke-width="1.6" />
<line x1="319.1" y1="815.75" x2="322.1" y2="815.75" stroke="#22ee22" stroke-width="1.6" />
<line x1="319.1" y1="765.2" x2="322.1" y2="765.2" stroke="#22ee22" stroke-width="1.6" />
<line x1="319.1" y1="942.12" x2="320.9" y2="942.12" stroke="#22ee22" stroke-width="1.2" />
<line x1="319.1" y1="891.58" x2="320.9" y2="891.58" stroke="#22ee22" stroke-width="1.2" />
<line x1="319.1" y1="841.02" x2="320.9" y2="841.02" stroke="#22ee22" stroke-width="1.2" />
<line x1="319.1" y1="790.48" x2="320.9" y2="790.48" stroke="#22ee22" stroke-width="1.2" />
<text x="324.9" y="971.95" font-family="'Liberation Serif', serif" font-size="13.7" font-weight="bold" fill="#33ee33" text-anchor="start" >0</text>
<text x="324.9" y="921.4" font-family="'Liberation Serif', serif" font-size="13.7" font-weight="bold" fill="#33ee33" text-anchor="start" >30</text>
<text x="324.9" y="870.85" font-family="'Liberation Serif', serif" font-size="13.7" font-weight="bold" fill="#33ee33" text-anchor="start" >60</text>
<text x="324.9" y="820.3" font-family="'Liberation Serif', serif" font-size="13.7" font-weight="bold" fill="#33ee33" text-anchor="start" >90</text>
<text x="324.9" y="769.75" font-family="'Liberation Serif', serif" font-size="13.7" font-weight="bold" fill="#33ee33" text-anchor="start" >120</text>
<rect x="154.4" y="771.1" width="23.7" height="11.8" fill="url(#hm)"/>
<text x="180.6" y="781" font-family="'Liberation Serif', serif" font-size="10.6" font-weight="bold" fill="#111" text-anchor="start" >CV</text>
<rect x="215" y="771.1" width="23.8" height="11.8" fill="url(#hg2)"/>
<text x="241.2" y="781" font-family="'Liberation Serif', serif" font-size="10.6" font-weight="bold" fill="#111" text-anchor="start" >GCD</text>
<text x="193.3" y="999.2" font-family="'Liberation Serif', serif" font-size="17" font-weight="bold" fill="#111" text-anchor="middle" >Pressure (%)</text>
<text x="42.8" y="885.4" font-family="'Liberation Serif', serif" font-size="17.5" font-weight="bold" fill="#d23cf5" text-anchor="start" transform="rotate(-90 42.8 885.4)" >C/C<tspan dy="2.6">0</tspan></text>
<defs><clipPath id="clipj"><rect x="330" y="830" width="25.2" height="70"/></clipPath></defs><g clip-path="url(#clipj)">
<text x="355" y="885.2" font-family="'Liberation Serif', serif" font-size="17.5" font-weight="bold" fill="#22dd22" text-anchor="start" transform="rotate(-90 355 885.2)" >C/C<tspan dy="2.6">0</tspan></text>
</g>
<text x="3.4" y="776.6" font-family="'Liberation Serif', serif" font-size="21" font-weight="normal" fill="#ff0000" text-anchor="start" >(j)</text>
<polyline points="429.7,688.92 430.72,684.1 431.73,680.36 432.75,677.33 433.76,674.8 434.78,672.59 435.79,670.62 436.81,668.8 437.82,667.1 438.84,665.47 439.85,663.9 440.87,662.38 441.88,660.89 442.9,659.43 443.91,657.99 444.93,656.58 445.94,655.18 446.96,653.81 447.97,652.45 448.99,651.1 450,649.77 451.02,648.45 452.03,647.15 453.05,645.86 454.06,644.59 455.08,643.33 456.09,642.08 457.11,640.85 458.12,639.63 459.14,638.42 460.15,637.22 461.17,636.04 462.18,634.86 463.2,633.7 464.21,632.56 465.23,631.42 466.24,630.29 467.26,629.18 468.27,628.08 469.29,626.98 470.3,625.9 471.32,624.83 472.33,623.77 473.35,622.72 474.36,621.68 475.38,620.65 476.39,619.63 477.41,618.62 478.42,617.62 479.44,616.63 480.45,615.65 481.47,614.68 482.48,613.71 483.5,612.76 484.51,611.81 485.53,610.88 486.54,609.95 487.56,609.03 488.57,608.12 489.59,607.21 490.6,606.32 491.62,605.43 492.63,604.55 493.65,603.68 494.66,602.81 495.68,601.96 496.69,601.11 497.71,600.26 498.73,599.43 499.74,598.6 500.76,597.78 501.77,596.97 502.79,596.16 503.8,595.36 504.82,594.56 505.83,593.78 506.85,593 507.86,592.22 508.88,591.45 509.89,590.69 510.91,589.93 511.92,589.18 512.94,588.44 513.95,587.7 514.97,586.97 515.98,586.24 517,585.52 518.01,584.8 519.03,584.09 520.04,583.38 521.06,582.68 522.07,581.99 523.09,581.3 524.1,580.61 525.12,579.93 526.13,579.26 527.15,578.59 528.16,577.92 529.18,577.26 530.19,576.6 531.21,575.95 532.22,575.3 533.24,574.66 534.25,574.02 535.27,573.39 536.28,572.76 537.3,572.13 538.31,571.51 539.33,570.89 540.34,570.28 541.36,569.67 542.37,569.06 543.39,568.46 544.4,567.86 545.42,567.27 546.43,566.68 547.45,566.09 548.46,565.5 549.48,564.92 550.49,564.35 551.51,563.77 552.52,563.2 553.54,562.63 554.55,562.07 555.57,561.51 556.58,560.95 557.6,560.4 558.61,559.85 559.63,559.3 560.64,558.75 561.66,558.21 562.67,557.67 563.69,557.14 564.71,556.6 565.72,556.07 566.74,555.54 567.75,555.02 568.77,554.49 569.78,553.97 570.8,553.46 571.81,552.94 572.83,552.43 573.84,551.92 574.86,551.41 575.87,550.91 576.89,550.4 577.9,549.9 578.92,549.41 579.93,548.91 580.95,548.42 581.96,547.92 582.98,547.43 583.99,546.95 585.01,546.46 586.02,545.98 587.04,545.5 588.05,545.02 589.07,544.54 590.08,544.07 591.1,543.59 592.11,543.12 593.13,542.65 594.14,542.19 595.16,541.72 596.17,541.26 597.19,540.8 598.2,540.34 599.22,539.88 600.23,539.42 601.25,538.97 602.26,538.51 603.28,538.06 604.29,537.61 605.31,537.16 606.32,536.71 607.34,536.27 608.35,535.82 609.37,535.38 610.38,534.94 611.4,534.5 612.41,534.06 613.43,533.63 614.44,533.19 615.46,532.76 616.47,532.33 617.49,531.89 618.5,531.46 619.52,531.04 620.53,530.61 621.55,530.18 622.56,529.76 623.58,529.33 624.59,528.91 625.61,528.49 626.62,528.07 627.64,527.65 628.65,527.23 629.67,526.82 630.68,526.4 631.7,525.99 631.7,525.99 630.68,532.22 629.67,536.04 628.65,538.67 627.64,540.7 626.62,542.43 625.61,544.01 624.59,545.51 623.58,546.97 622.56,548.4 621.55,549.81 620.53,551.21 619.52,552.59 618.5,553.97 617.49,555.33 616.47,556.69 615.46,558.04 614.44,559.38 613.43,560.71 612.41,562.03 611.4,563.34 610.38,564.64 609.37,565.93 608.35,567.22 607.34,568.5 606.32,569.76 605.31,571.02 604.29,572.27 603.28,573.51 602.26,574.75 601.25,575.97 600.23,577.19 599.22,578.39 598.2,579.59 597.19,580.78 596.17,581.97 595.16,583.14 594.14,584.31 593.13,585.47 592.11,586.62 591.1,587.76 590.08,588.89 589.07,590.02 588.05,591.13 587.04,592.24 586.02,593.35 585.01,594.44 583.99,595.53 582.98,596.6 581.96,597.68 580.95,598.74 579.93,599.79 578.92,600.84 577.9,601.88 576.89,602.91 575.87,603.94 574.86,604.96 573.84,605.97 572.83,606.97 571.81,607.96 570.8,608.95 569.78,609.93 568.77,610.91 567.75,611.87 566.74,612.83 565.72,613.78 564.71,614.73 563.69,615.67 562.67,616.6 561.66,617.52 560.64,618.44 559.63,619.35 558.61,620.25 557.6,621.14 556.58,622.03 555.57,622.92 554.55,623.79 553.54,624.66 552.52,625.52 551.51,626.38 550.49,627.23 549.48,628.07 548.46,628.9 547.45,629.73 546.43,630.55 545.42,631.37 544.4,632.18 543.39,632.98 542.37,633.78 541.36,634.57 540.34,635.35 539.33,636.13 538.31,636.9 537.3,637.67 536.28,638.43 535.27,639.18 534.25,639.92 533.24,640.66 532.22,641.4 531.21,642.13 530.19,642.85 529.18,643.57 528.16,644.28 527.15,644.98 526.13,645.68 525.12,646.37 524.1,647.06 523.09,647.74 522.07,648.41 521.06,649.08 520.04,649.75 519.03,650.4 518.01,651.06 517,651.7 515.98,652.34 514.97,652.98 513.95,653.61 512.94,654.23 511.92,654.85 510.91,655.47 509.89,656.07 508.88,656.68 507.86,657.27 506.85,657.86 505.83,658.45 504.82,659.03 503.8,659.61 502.79,660.18 501.77,660.74 500.76,661.3 499.74,661.86 498.73,662.41 497.71,662.95 496.69,663.49 495.68,664.02 494.66,664.55 493.65,665.08 492.63,665.6 491.62,666.11 490.6,666.62 489.59,667.12 488.57,667.62 487.56,668.12 486.54,668.61 485.53,669.09 484.51,669.57 483.5,670.04 482.48,670.51 481.47,670.98 480.45,671.44 479.44,671.9 478.42,672.35 477.41,672.79 476.39,673.24 475.38,673.67 474.36,674.11 473.35,674.53 472.33,674.96 471.32,675.38 470.3,675.79 469.29,676.2 468.27,676.61 467.26,677.01 466.24,677.4 465.23,677.8 464.21,678.18 463.2,678.57 462.18,678.95 461.17,679.32 460.15,679.69 459.14,680.06 458.12,680.42 457.11,680.78 456.09,681.13 455.08,681.48 454.06,681.83 453.05,682.17 452.03,682.51 451.02,682.84 450,683.17 448.99,683.49 447.97,683.81 446.96,684.13 445.94,684.44 444.93,684.75 443.91,685.06 442.9,685.36 441.88,685.65 440.87,685.95 439.85,686.24 438.84,686.52 437.82,686.8 436.81,687.08 435.79,687.35 434.78,687.62 433.76,687.89 432.75,688.15 431.73,688.41 430.72,688.67 429.7,688.92" fill="none" stroke="#ff1a1a" stroke-width="1.8" stroke-linejoin="round" stroke-linecap="round" />
<polyline points="429.7,688.41 430.72,683.58 431.73,679.83 432.75,676.79 433.76,674.24 434.78,672.02 435.79,670.04 436.81,668.21 437.82,666.49 438.84,664.85 439.85,663.27 440.87,661.73 441.88,660.23 442.9,658.76 443.91,657.31 444.93,655.88 445.94,654.48 446.96,653.08 447.97,651.71 448.99,650.35 450,649.01 451.02,647.68 452.03,646.37 453.05,645.07 454.06,643.78 455.08,642.51 456.09,641.25 457.11,640 458.12,638.76 459.14,637.54 460.15,636.33 461.17,635.14 462.18,633.95 463.2,632.78 464.21,631.62 465.23,630.47 466.24,629.33 467.26,628.2 468.27,627.09 469.29,625.98 470.3,624.89 471.32,623.81 472.33,622.73 473.35,621.67 474.36,620.62 475.38,619.58 476.39,618.54 477.41,617.52 478.42,616.51 479.44,615.5 480.45,614.51 481.47,613.52 482.48,612.55 483.5,611.58 484.51,610.62 485.53,609.67 486.54,608.73 487.56,607.8 488.57,606.87 489.59,605.96 490.6,605.05 491.62,604.15 492.63,603.25 493.65,602.37 494.66,601.49 495.68,600.62 496.69,599.76 497.71,598.91 498.73,598.06 499.74,597.22 500.76,596.38 501.77,595.56 502.79,594.74 503.8,593.92 504.82,593.12 505.83,592.32 506.85,591.52 507.86,590.74 508.88,589.95 509.89,589.18 510.91,588.41 511.92,587.65 512.94,586.89 513.95,586.14 514.97,585.39 515.98,584.65 517,583.92 518.01,583.19 519.03,582.47 520.04,581.75 521.06,581.03 522.07,580.33 523.09,579.62 524.1,578.93 525.12,578.23 526.13,577.54 527.15,576.86 528.16,576.18 529.18,575.51 530.19,574.84 531.21,574.18 532.22,573.51 533.24,572.86 534.25,572.21 535.27,571.56 536.28,570.92 537.3,570.28 538.31,569.64 539.33,569.01 540.34,568.39 541.36,567.76 542.37,567.15 543.39,566.53 544.4,565.92 545.42,565.31 546.43,564.71 547.45,564.11 548.46,563.51 549.48,562.92 550.49,562.33 551.51,561.74 552.52,561.16 553.54,560.58 554.55,560 555.57,559.43 556.58,558.86 557.6,558.29 558.61,557.73 559.63,557.17 560.64,556.61 561.66,556.05 562.67,555.5 563.69,554.95 564.71,554.41 565.72,553.86 566.74,553.32 567.75,552.78 568.77,552.25 569.78,551.71 570.8,551.18 571.81,550.66 572.83,550.13 573.84,549.61 574.86,549.09 575.87,548.57 576.89,548.05 577.9,547.54 578.92,547.03 579.93,546.52 580.95,546.02 581.96,545.51 582.98,545.01 583.99,544.51 585.01,544.01 586.02,543.52 587.04,543.02 588.05,542.53 589.07,542.04 590.08,541.55 591.1,541.07 592.11,540.58 593.13,540.1 594.14,539.62 595.16,539.14 596.17,538.67 597.19,538.19 598.2,537.72 599.22,537.25 600.23,536.78 601.25,536.31 602.26,535.84 603.28,535.38 604.29,534.92 605.31,534.46 606.32,534 607.34,533.54 608.35,533.08 609.37,532.63 610.38,532.17 611.4,531.72 612.41,531.27 613.43,530.82 614.44,530.37 615.46,529.93 616.47,529.48 617.49,529.04 618.5,528.59 619.52,528.15 620.53,527.71 621.55,527.27 622.56,526.84 623.58,526.4 624.59,525.96 625.61,525.53 626.62,525.1 627.64,524.67 628.65,524.23 629.67,523.81 630.68,523.38 631.7,522.95 631.7,522.95 630.68,527.48 629.67,531.4 628.65,534.83 627.64,537.85 626.62,540.53 625.61,542.94 624.59,545.12 623.58,547.11 622.56,548.95 621.55,550.66 620.53,552.27 619.52,553.79 618.5,555.23 617.49,556.61 616.47,557.94 615.46,559.23 614.44,560.48 613.43,561.69 612.41,562.88 611.4,564.05 610.38,565.2 609.37,566.33 608.35,567.44 607.34,568.54 606.32,569.62 605.31,570.7 604.29,571.76 603.28,572.81 602.26,573.86 601.25,574.89 600.23,575.92 599.22,576.94 598.2,577.95 597.19,578.96 596.17,579.95 595.16,580.95 594.14,581.93 593.13,582.91 592.11,583.88 591.1,584.84 590.08,585.8 589.07,586.75 588.05,587.7 587.04,588.64 586.02,589.58 585.01,590.51 583.99,591.43 582.98,592.35 581.96,593.26 580.95,594.17 579.93,595.07 578.92,595.96 577.9,596.85 576.89,597.74 575.87,598.62 574.86,599.49 573.84,600.36 572.83,601.23 571.81,602.09 570.8,602.94 569.78,603.79 568.77,604.64 567.75,605.48 566.74,606.31 565.72,607.14 564.71,607.97 563.69,608.79 562.67,609.6 561.66,610.42 560.64,611.22 559.63,612.02 558.61,612.82 557.6,613.62 556.58,614.41 555.57,615.19 554.55,615.97 553.54,616.75 552.52,617.52 551.51,618.29 550.49,619.05 549.48,619.81 548.46,620.56 547.45,621.31 546.43,622.06 545.42,622.8 544.4,623.54 543.39,624.28 542.37,625.01 541.36,625.74 540.34,626.46 539.33,627.18 538.31,627.9 537.3,628.61 536.28,629.32 535.27,630.02 534.25,630.72 533.24,631.42 532.22,632.12 531.21,632.81 530.19,633.49 529.18,634.18 528.16,634.86 527.15,635.53 526.13,636.21 525.12,636.88 524.1,637.55 523.09,638.21 522.07,638.87 521.06,639.53 520.04,640.18 519.03,640.83 518.01,641.48 517,642.12 515.98,642.76 514.97,643.4 513.95,644.04 512.94,644.67 511.92,645.3 510.91,645.92 509.89,646.55 508.88,647.17 507.86,647.79 506.85,648.4 505.83,649.01 504.82,649.62 503.8,650.23 502.79,650.83 501.77,651.43 500.76,652.03 499.74,652.63 498.73,653.22 497.71,653.81 496.69,654.4 495.68,654.98 494.66,655.56 493.65,656.14 492.63,656.72 491.62,657.29 490.6,657.87 489.59,658.44 488.57,659 487.56,659.57 486.54,660.13 485.53,660.69 484.51,661.25 483.5,661.81 482.48,662.36 481.47,662.91 480.45,663.46 479.44,664.01 478.42,664.55 477.41,665.09 476.39,665.63 475.38,666.17 474.36,666.71 473.35,667.24 472.33,667.77 471.32,668.3 470.3,668.83 469.29,669.35 468.27,669.88 467.26,670.4 466.24,670.92 465.23,671.43 464.21,671.95 463.2,672.46 462.18,672.97 461.17,673.48 460.15,673.99 459.14,674.49 458.12,675 457.11,675.5 456.09,676 455.08,676.5 454.06,677 453.05,677.49 452.03,677.98 451.02,678.47 450,678.96 448.99,679.45 447.97,679.94 446.96,680.42 445.94,680.9 444.93,681.39 443.91,681.87 442.9,682.34 441.88,682.82 440.87,683.29 439.85,683.77 438.84,684.24 437.82,684.71 436.81,685.18 435.79,685.64 434.78,686.11 433.76,686.57 432.75,687.03 431.73,687.49 430.72,687.95 429.7,688.41" fill="none" stroke="#1ee81e" stroke-width="1.8" stroke-linejoin="round" stroke-linecap="round" />
<polyline points="429.7,688.66 430.72,683.84 431.73,680.09 432.75,677.06 433.76,674.51 434.78,672.3 435.79,670.32 436.81,668.5 437.82,666.78 438.84,665.15 439.85,663.57 440.87,662.04 441.88,660.55 442.9,659.08 443.91,657.63 444.93,656.21 445.94,654.81 446.96,653.42 447.97,652.05 448.99,650.7 450,649.36 451.02,648.04 452.03,646.73 453.05,645.43 454.06,644.15 455.08,642.89 456.09,641.63 457.11,640.39 458.12,639.16 459.14,637.94 460.15,636.74 461.17,635.55 462.18,634.37 463.2,633.2 464.21,632.04 465.23,630.9 466.24,629.77 467.26,628.64 468.27,627.53 469.29,626.43 470.3,625.35 471.32,624.27 472.33,623.2 473.35,622.14 474.36,621.09 475.38,620.06 476.39,619.03 477.41,618.01 478.42,617 479.44,616 480.45,615.02 481.47,614.04 482.48,613.06 483.5,612.1 484.51,611.15 485.53,610.2 486.54,609.27 487.56,608.34 488.57,607.42 489.59,606.51 490.6,605.61 491.62,604.71 492.63,603.82 493.65,602.94 494.66,602.07 495.68,601.21 496.69,600.35 497.71,599.5 498.73,598.66 499.74,597.82 500.76,596.99 501.77,596.17 502.79,595.36 503.8,594.55 504.82,593.75 505.83,592.95 506.85,592.16 507.86,591.38 508.88,590.6 509.89,589.83 510.91,589.07 511.92,588.31 512.94,587.56 513.95,586.81 514.97,586.07 515.98,585.34 517,584.61 518.01,583.88 519.03,583.17 520.04,582.45 521.06,581.74 522.07,581.04 523.09,580.34 524.1,579.65 525.12,578.96 526.13,578.28 527.15,577.6 528.16,576.93 529.18,576.26 530.19,575.6 531.21,574.94 532.22,574.28 533.24,573.63 534.25,572.98 535.27,572.34 536.28,571.7 537.3,571.07 538.31,570.44 539.33,569.82 540.34,569.19 541.36,568.58 542.37,567.96 543.39,567.35 544.4,566.75 545.42,566.14 546.43,565.55 547.45,564.95 548.46,564.36 549.48,563.77 550.49,563.19 551.51,562.6 552.52,562.03 553.54,561.45 554.55,560.88 555.57,560.31 556.58,559.75 557.6,559.18 558.61,558.63 559.63,558.07 560.64,557.52 561.66,556.97 562.67,556.42 563.69,555.88 564.71,555.33 565.72,554.8 566.74,554.26 567.75,553.73 568.77,553.2 569.78,552.67 570.8,552.14 571.81,551.62 572.83,551.1 573.84,550.58 574.86,550.07 575.87,549.56 576.89,549.04 577.9,548.54 578.92,548.03 579.93,547.53 580.95,547.03 581.96,546.53 582.98,546.03 583.99,545.53 585.01,545.04 586.02,544.55 587.04,544.06 588.05,543.58 589.07,543.09 590.08,542.61 591.1,542.13 592.11,541.65 593.13,541.17 594.14,540.7 595.16,540.23 596.17,539.75 597.19,539.28 598.2,538.82 599.22,538.35 600.23,537.89 601.25,537.42 602.26,536.96 603.28,536.5 604.29,536.05 605.31,535.59 606.32,535.13 607.34,534.68 608.35,534.23 609.37,533.78 610.38,533.33 611.4,532.88 612.41,532.44 613.43,531.99 614.44,531.55 615.46,531.11 616.47,530.67 617.49,530.23 618.5,529.79 619.52,529.36 620.53,528.92 621.55,528.49 622.56,528.05 623.58,527.62 624.59,527.19 625.61,526.76 626.62,526.34 627.64,525.91 628.65,525.48 629.67,525.06 630.68,524.64 631.7,524.22 631.7,524.22 630.68,528.75 629.67,532.68 628.65,536.11 627.64,539.13 626.62,541.81 625.61,544.22 624.59,546.4 623.58,548.39 622.56,550.23 621.55,551.93 620.53,553.53 619.52,555.04 618.5,556.48 617.49,557.86 616.47,559.18 615.46,560.46 614.44,561.7 613.43,562.92 612.41,564.1 611.4,565.26 610.38,566.4 609.37,567.52 608.35,568.63 607.34,569.72 606.32,570.8 605.31,571.87 604.29,572.93 603.28,573.97 602.26,575.01 601.25,576.04 600.23,577.06 599.22,578.07 598.2,579.08 597.19,580.08 596.17,581.07 595.16,582.05 594.14,583.03 593.13,584 592.11,584.97 591.1,585.93 590.08,586.88 589.07,587.82 588.05,588.77 587.04,589.7 586.02,590.63 585.01,591.55 583.99,592.47 582.98,593.38 581.96,594.29 580.95,595.19 579.93,596.08 578.92,596.97 577.9,597.86 576.89,598.74 575.87,599.61 574.86,600.48 573.84,601.34 572.83,602.2 571.81,603.06 570.8,603.9 569.78,604.75 568.77,605.59 567.75,606.42 566.74,607.25 565.72,608.07 564.71,608.89 563.69,609.71 562.67,610.52 561.66,611.33 560.64,612.13 559.63,612.92 558.61,613.72 557.6,614.5 556.58,615.29 555.57,616.07 554.55,616.84 553.54,617.61 552.52,618.38 551.51,619.14 550.49,619.9 549.48,620.65 548.46,621.4 547.45,622.15 546.43,622.89 545.42,623.62 544.4,624.36 543.39,625.09 542.37,625.81 541.36,626.54 540.34,627.25 539.33,627.97 538.31,628.68 537.3,629.39 536.28,630.09 535.27,630.79 534.25,631.48 533.24,632.18 532.22,632.87 531.21,633.55 530.19,634.23 529.18,634.91 528.16,635.59 527.15,636.26 526.13,636.93 525.12,637.59 524.1,638.25 523.09,638.91 522.07,639.56 521.06,640.22 520.04,640.87 519.03,641.51 518.01,642.15 517,642.79 515.98,643.43 514.97,644.06 513.95,644.69 512.94,645.32 511.92,645.94 510.91,646.56 509.89,647.18 508.88,647.8 507.86,648.41 506.85,649.02 505.83,649.63 504.82,650.23 503.8,650.83 502.79,651.43 501.77,652.02 500.76,652.62 499.74,653.21 498.73,653.8 497.71,654.38 496.69,654.96 495.68,655.54 494.66,656.12 493.65,656.7 492.63,657.27 491.62,657.84 490.6,658.41 489.59,658.97 488.57,659.53 487.56,660.09 486.54,660.65 485.53,661.21 484.51,661.76 483.5,662.31 482.48,662.86 481.47,663.4 480.45,663.95 479.44,664.49 478.42,665.03 477.41,665.57 476.39,666.1 475.38,666.63 474.36,667.17 473.35,667.69 472.33,668.22 471.32,668.74 470.3,669.27 469.29,669.79 468.27,670.31 467.26,670.82 466.24,671.34 465.23,671.85 464.21,672.36 463.2,672.87 462.18,673.37 461.17,673.88 460.15,674.38 459.14,674.88 458.12,675.38 457.11,675.88 456.09,676.37 455.08,676.87 454.06,677.36 453.05,677.85 452.03,678.34 451.02,678.82 450,679.31 448.99,679.79 447.97,680.27 446.96,680.75 445.94,681.23 444.93,681.71 443.91,682.18 442.9,682.66 441.88,683.13 440.87,683.6 439.85,684.07 438.84,684.53 437.82,685 436.81,685.46 435.79,685.92 434.78,686.38 433.76,686.84 432.75,687.3 431.73,687.76 430.72,688.21 429.7,688.66" fill="none" stroke="#1a1aee" stroke-width="1.8" stroke-linejoin="round" stroke-linecap="round" />
<polyline points="429.7,688.92 430.72,684.1 431.73,680.35 432.75,677.33 433.76,674.79 434.78,672.58 435.79,670.6 436.81,668.78 437.82,667.07 438.84,665.45 439.85,663.88 440.87,662.35 441.88,660.86 442.9,659.4 443.91,657.96 444.93,656.54 445.94,655.14 446.96,653.76 447.97,652.4 448.99,651.05 450,649.72 451.02,648.4 452.03,647.1 453.05,645.8 454.06,644.53 455.08,643.27 456.09,642.02 457.11,640.78 458.12,639.55 459.14,638.34 460.15,637.14 461.17,635.96 462.18,634.78 463.2,633.62 464.21,632.47 465.23,631.33 466.24,630.2 467.26,629.09 468.27,627.98 469.29,626.89 470.3,625.8 471.32,624.73 472.33,623.67 473.35,622.61 474.36,621.57 475.38,620.54 476.39,619.52 477.41,618.5 478.42,617.5 479.44,616.51 480.45,615.52 481.47,614.55 482.48,613.58 483.5,612.62 484.51,611.68 485.53,610.74 486.54,609.81 487.56,608.88 488.57,607.97 489.59,607.06 490.6,606.16 491.62,605.27 492.63,604.39 493.65,603.52 494.66,602.65 495.68,601.79 496.69,600.94 497.71,600.09 498.73,599.26 499.74,598.43 500.76,597.6 501.77,596.79 502.79,595.98 503.8,595.17 504.82,594.38 505.83,593.59 506.85,592.8 507.86,592.02 508.88,591.25 509.89,590.49 510.91,589.73 511.92,588.98 512.94,588.23 513.95,587.49 514.97,586.75 515.98,586.02 517,585.3 518.01,584.58 519.03,583.87 520.04,583.16 521.06,582.46 522.07,581.76 523.09,581.06 524.1,580.38 525.12,579.69 526.13,579.02 527.15,578.34 528.16,577.68 529.18,577.01 530.19,576.35 531.21,575.7 532.22,575.05 533.24,574.4 534.25,573.76 535.27,573.12 536.28,572.49 537.3,571.86 538.31,571.24 539.33,570.62 540.34,570 541.36,569.39 542.37,568.78 543.39,568.18 544.4,567.57 545.42,566.98 546.43,566.38 547.45,565.79 548.46,565.21 549.48,564.62 550.49,564.04 551.51,563.47 552.52,562.89 553.54,562.32 554.55,561.76 555.57,561.2 556.58,560.64 557.6,560.08 558.61,559.52 559.63,558.97 560.64,558.43 561.66,557.88 562.67,557.34 563.69,556.8 564.71,556.26 565.72,555.73 566.74,555.2 567.75,554.67 568.77,554.15 569.78,553.62 570.8,553.1 571.81,552.59 572.83,552.07 573.84,551.56 574.86,551.05 575.87,550.54 576.89,550.04 577.9,549.53 578.92,549.03 579.93,548.53 580.95,548.04 581.96,547.54 582.98,547.05 583.99,546.56 585.01,546.07 586.02,545.59 587.04,545.1 588.05,544.62 589.07,544.14 590.08,543.67 591.1,543.19 592.11,542.72 593.13,542.25 594.14,541.78 595.16,541.31 596.17,540.84 597.19,540.38 598.2,539.91 599.22,539.45 600.23,538.99 601.25,538.54 602.26,538.08 603.28,537.63 604.29,537.17 605.31,536.72 606.32,536.27 607.34,535.82 608.35,535.38 609.37,534.93 610.38,534.49 611.4,534.05 612.41,533.61 613.43,533.17 614.44,532.73 615.46,532.29 616.47,531.86 617.49,531.42 618.5,530.99 619.52,530.56 620.53,530.13 621.55,529.7 622.56,529.27 623.58,528.85 624.59,528.42 625.61,528 626.62,527.58 627.64,527.15 628.65,526.73 629.67,526.32 630.68,525.9 631.7,525.48 631.7,525.48 630.68,530.05 629.67,534.01 628.65,537.46 627.64,540.5 626.62,543.2 625.61,545.61 624.59,547.8 623.58,549.79 622.56,551.63 621.55,553.33 620.53,554.93 619.52,556.44 618.5,557.87 617.49,559.24 616.47,560.56 615.46,561.83 614.44,563.07 613.43,564.28 612.41,565.45 611.4,566.61 610.38,567.74 609.37,568.86 608.35,569.95 607.34,571.04 606.32,572.11 605.31,573.17 604.29,574.22 603.28,575.26 602.26,576.29 601.25,577.31 600.23,578.33 599.22,579.33 598.2,580.33 597.19,581.32 596.17,582.3 595.16,583.28 594.14,584.25 593.13,585.21 592.11,586.17 591.1,587.12 590.08,588.07 589.07,589.01 588.05,589.94 587.04,590.87 586.02,591.79 585.01,592.7 583.99,593.61 582.98,594.52 581.96,595.42 580.95,596.31 579.93,597.2 578.92,598.08 577.9,598.96 576.89,599.83 575.87,600.7 574.86,601.56 573.84,602.42 572.83,603.27 571.81,604.12 570.8,604.96 569.78,605.79 568.77,606.63 567.75,607.45 566.74,608.28 565.72,609.09 564.71,609.91 563.69,610.72 562.67,611.52 561.66,612.32 560.64,613.11 559.63,613.9 558.61,614.69 557.6,615.47 556.58,616.25 555.57,617.02 554.55,617.79 553.54,618.55 552.52,619.31 551.51,620.07 550.49,620.82 549.48,621.56 548.46,622.31 547.45,623.05 546.43,623.78 545.42,624.51 544.4,625.24 543.39,625.96 542.37,626.68 541.36,627.4 540.34,628.11 539.33,628.82 538.31,629.52 537.3,630.22 536.28,630.92 535.27,631.61 534.25,632.3 533.24,632.99 532.22,633.67 531.21,634.35 530.19,635.03 529.18,635.7 528.16,636.37 527.15,637.03 526.13,637.7 525.12,638.35 524.1,639.01 523.09,639.66 522.07,640.31 521.06,640.96 520.04,641.6 519.03,642.24 518.01,642.88 517,643.51 515.98,644.14 514.97,644.77 513.95,645.39 512.94,646.01 511.92,646.63 510.91,647.25 509.89,647.86 508.88,648.47 507.86,649.07 506.85,649.68 505.83,650.28 504.82,650.88 503.8,651.47 502.79,652.07 501.77,652.66 500.76,653.24 499.74,653.83 498.73,654.41 497.71,654.99 496.69,655.57 495.68,656.14 494.66,656.71 493.65,657.28 492.63,657.85 491.62,658.41 490.6,658.97 489.59,659.53 488.57,660.09 487.56,660.64 486.54,661.2 485.53,661.75 484.51,662.29 483.5,662.84 482.48,663.38 481.47,663.92 480.45,664.46 479.44,665 478.42,665.53 477.41,666.06 476.39,666.59 475.38,667.12 474.36,667.65 473.35,668.17 472.33,668.69 471.32,669.21 470.3,669.73 469.29,670.24 468.27,670.75 467.26,671.27 466.24,671.78 465.23,672.28 464.21,672.79 463.2,673.29 462.18,673.79 461.17,674.29 460.15,674.79 459.14,675.28 458.12,675.78 457.11,676.27 456.09,676.76 455.08,677.25 454.06,677.74 453.05,678.22 452.03,678.7 451.02,679.18 450,679.66 448.99,680.14 447.97,680.62 446.96,681.09 445.94,681.57 444.93,682.04 443.91,682.51 442.9,682.97 441.88,683.44 440.87,683.91 439.85,684.37 438.84,684.83 437.82,685.29 436.81,685.75 435.79,686.21 434.78,686.66 433.76,687.12 432.75,687.57 431.73,688.02 430.72,688.47 429.7,688.92" fill="none" stroke="#ff8820" stroke-width="1.8" stroke-linejoin="round" stroke-linecap="round" />
<line x1="403.25" y1="510.2" x2="657.65" y2="510.2" stroke="#111" stroke-width="1.7" />
<line x1="403.25" y1="713.3" x2="657.65" y2="713.3" stroke="#111" stroke-width="1.7" />
<line x1="404.1" y1="509.35" x2="404.1" y2="714.15" stroke="#111" stroke-width="1.7" />
<line x1="656.8" y1="509.35" x2="656.8" y2="714.15" stroke="#111" stroke-width="1.7" />
<line x1="429.7" y1="713.3" x2="429.7" y2="717.1" stroke="#111" stroke-width="1.6" />
<line x1="480.2" y1="713.3" x2="480.2" y2="717.1" stroke="#111" stroke-width="1.6" />
<line x1="530.7" y1="713.3" x2="530.7" y2="717.1" stroke="#111" stroke-width="1.6" />
<line x1="581.2" y1="713.3" x2="581.2" y2="717.1" stroke="#111" stroke-width="1.6" />
<line x1="631.7" y1="713.3" x2="631.7" y2="717.1" stroke="#111" stroke-width="1.6" />
<line x1="454.95" y1="713.3" x2="454.95" y2="715.4" stroke="#111" stroke-width="1.2" />
<line x1="505.45" y1="713.3" x2="505.45" y2="715.4" stroke="#111" stroke-width="1.2" />
<line x1="555.95" y1="713.3" x2="555.95" y2="715.4" stroke="#111" stroke-width="1.2" />
<line x1="606.45" y1="713.3" x2="606.45" y2="715.4" stroke="#111" stroke-width="1.2" />
<text x="429.7" y="729.8" font-family="'Liberation Serif', serif" font-size="13.7" font-weight="bold" fill="#111" text-anchor="middle" >0.0</text>
<text x="480.2" y="729.8" font-family="'Liberation Serif', serif" font-size="13.7" font-weight="bold" fill="#111" text-anchor="middle" >0.2</text>
<text x="530.7" y="729.8" font-family="'Liberation Serif', serif" font-size="13.7" font-weight="bold" fill="#111" text-anchor="middle" >0.4</text>
<text x="581.2" y="729.8" font-family="'Liberation Serif', serif" font-size="13.7" font-weight="bold" fill="#111" text-anchor="middle" >0.6</text>
<text x="631.7" y="729.8" font-family="'Liberation Serif', serif" font-size="13.7" font-weight="bold" fill="#111" text-anchor="middle" >0.8</text>
<line x1="404.1" y1="692.46" x2="400.3" y2="692.46" stroke="#111" stroke-width="1.6" />
<line x1="404.1" y1="651.98" x2="400.3" y2="651.98" stroke="#111" stroke-width="1.6" />
<line x1="404.1" y1="611.5" x2="400.3" y2="611.5" stroke="#111" stroke-width="1.6" />
<line x1="404.1" y1="571.02" x2="400.3" y2="571.02" stroke="#111" stroke-width="1.6" />
<line x1="404.1" y1="530.54" x2="400.3" y2="530.54" stroke="#111" stroke-width="1.6" />
<line x1="404.1" y1="672.22" x2="402" y2="672.22" stroke="#111" stroke-width="1.2" />
<line x1="404.1" y1="631.74" x2="402" y2="631.74" stroke="#111" stroke-width="1.2" />
<line x1="404.1" y1="591.26" x2="402" y2="591.26" stroke="#111" stroke-width="1.2" />
<line x1="404.1" y1="550.78" x2="402" y2="550.78" stroke="#111" stroke-width="1.2" />
<text x="397.7" y="697.01" font-family="'Liberation Serif', serif" font-size="13.7" font-weight="bold" fill="#111" text-anchor="end" >-16</text>
<text x="397.7" y="656.53" font-family="'Liberation Serif', serif" font-size="13.7" font-weight="bold" fill="#111" text-anchor="end" >-8</text>
<text x="397.7" y="616.05" font-family="'Liberation Serif', serif" font-size="13.7" font-weight="bold" fill="#111" text-anchor="end" >0</text>
<text x="397.7" y="575.57" font-family="'Liberation Serif', serif" font-size="13.7" font-weight="bold" fill="#111" text-anchor="end" >8</text>
<text x="397.7" y="535.09" font-family="'Liberation Serif', serif" font-size="13.7" font-weight="bold" fill="#111" text-anchor="end" >16</text>
<line x1="472.7" y1="518.1" x2="493.6" y2="518.1" stroke="#ff1a1a" stroke-width="2.2" />
<text x="495.3" y="520.9" font-family="'Liberation Serif', serif" font-size="8.5" font-weight="bold" fill="#111" text-anchor="start" >0</text>
<line x1="472.7" y1="528.97" x2="493.6" y2="528.97" stroke="#1ee81e" stroke-width="2.2" />
<text x="495.3" y="531.77" font-family="'Liberation Serif', serif" font-size="8.5" font-weight="bold" fill="#111" text-anchor="start" >Pressure 10%</text>
<line x1="472.7" y1="539.84" x2="493.6" y2="539.84" stroke="#1a1aee" stroke-width="2.2" />
<text x="495.3" y="542.64" font-family="'Liberation Serif', serif" font-size="8.5" font-weight="bold" fill="#111" text-anchor="start" >Pressure 20%</text>
<line x1="472.7" y1="550.71" x2="493.6" y2="550.71" stroke="#ff8820" stroke-width="2.2" />
<text x="495.3" y="553.51" font-family="'Liberation Serif', serif" font-size="8.5" font-weight="bold" fill="#111" text-anchor="start" >Pressure 30%</text>
<rect x="570.9" y="623.6" width="78.4" height="67.2" fill="#fff" stroke="#3a3a3a" stroke-width="1.0"/>
<line x1="570.9" y1="690.8" x2="569.4" y2="690.8" stroke="#3a3a3a" stroke-width="0.6" />
<text x="569" y="692.2" font-family="'Liberation Serif', serif" font-size="3.8" font-weight="bold" fill="#2a2a2a" text-anchor="end" >0</text>
<line x1="570.9" y1="678.57" x2="569.4" y2="678.57" stroke="#3a3a3a" stroke-width="0.6" />
<text x="569" y="679.97" font-family="'Liberation Serif', serif" font-size="3.8" font-weight="bold" fill="#2a2a2a" text-anchor="end" >20</text>
<line x1="570.9" y1="666.34" x2="569.4" y2="666.34" stroke="#3a3a3a" stroke-width="0.6" />
<text x="569" y="667.74" font-family="'Liberation Serif', serif" font-size="3.8" font-weight="bold" fill="#2a2a2a" text-anchor="end" >40</text>
<line x1="570.9" y1="654.11" x2="569.4" y2="654.11" stroke="#3a3a3a" stroke-width="0.6" />
<text x="569" y="655.51" font-family="'Liberation Serif', serif" font-size="3.8" font-weight="bold" fill="#2a2a2a" text-anchor="end" >60</text>
<line x1="570.9" y1="641.88" x2="569.4" y2="641.88" stroke="#3a3a3a" stroke-width="0.6" />
<text x="569" y="643.28" font-family="'Liberation Serif', serif" font-size="3.8" font-weight="bold" fill="#2a2a2a" text-anchor="end" >80</text>
<line x1="570.9" y1="629.65" x2="569.4" y2="629.65" stroke="#3a3a3a" stroke-width="0.6" />
<text x="569" y="631.05" font-family="'Liberation Serif', serif" font-size="3.8" font-weight="bold" fill="#2a2a2a" text-anchor="end" >100</text>
<line x1="576.5" y1="690.8" x2="576.5" y2="692.2" stroke="#3a3a3a" stroke-width="0.6" />
<text x="576.5" y="696.3" font-family="'Liberation Serif', serif" font-size="3.8" font-weight="bold" fill="#2a2a2a" text-anchor="middle" >0</text>
<line x1="587.79" y1="690.8" x2="587.79" y2="692.2" stroke="#3a3a3a" stroke-width="0.6" />
<text x="587.79" y="696.3" font-family="'Liberation Serif', serif" font-size="3.8" font-weight="bold" fill="#2a2a2a" text-anchor="middle" >5</text>
<line x1="599.08" y1="690.8" x2="599.08" y2="692.2" stroke="#3a3a3a" stroke-width="0.6" />
<text x="599.08" y="696.3" font-family="'Liberation Serif', serif" font-size="3.8" font-weight="bold" fill="#2a2a2a" text-anchor="middle" >10</text>
<line x1="610.37" y1="690.8" x2="610.37" y2="692.2" stroke="#3a3a3a" stroke-width="0.6" />
<text x="610.37" y="696.3" font-family="'Liberation Serif', serif" font-size="3.8" font-weight="bold" fill="#2a2a2a" text-anchor="middle" >15</text>
<line x1="621.66" y1="690.8" x2="621.66" y2="692.2" stroke="#3a3a3a" stroke-width="0.6" />
<text x="621.66" y="696.3" font-family="'Liberation Serif', serif" font-size="3.8" font-weight="bold" fill="#2a2a2a" text-anchor="middle" >20</text>
<line x1="632.95" y1="690.8" x2="632.95" y2="692.2" stroke="#3a3a3a" stroke-width="0.6" />
<text x="632.95" y="696.3" font-family="'Liberation Serif', serif" font-size="3.8" font-weight="bold" fill="#2a2a2a" text-anchor="middle" >25</text>
<line x1="644.24" y1="690.8" x2="644.24" y2="692.2" stroke="#3a3a3a" stroke-width="0.6" />
<text x="644.24" y="696.3" font-family="'Liberation Serif', serif" font-size="3.8" font-weight="bold" fill="#2a2a2a" text-anchor="middle" >30</text>
<polyline points="576.5,629.65 587.79,631 594.56,632.34 599.08,632.96 610.37,633.51 621.66,634.12 632.95,634.79 644.24,635.4" fill="none" stroke="#ff9a3c" stroke-width="1.1" stroke-linejoin="round" stroke-linecap="round" />
<circle cx="576.5" cy="629.65" r="0.9" fill="#ff9a3c"/>
<circle cx="599.08" cy="632.96" r="0.9" fill="#ff9a3c"/>
<circle cx="621.66" cy="634.12" r="0.9" fill="#ff9a3c"/>
<circle cx="644.24" cy="635.4" r="0.9" fill="#ff9a3c"/>
<text x="613" y="701.2" font-family="'Liberation Serif', serif" font-size="4.8" font-weight="bold" fill="#2a2a2a" text-anchor="middle" >Strain(%)</text>
<text x="560.5" y="659" font-family="'Liberation Serif', serif" font-size="5.0" font-weight="bold" fill="#2a2a2a" text-anchor="middle" transform="rotate(-90 560.5 659)" >C/C<tspan font-size="3.2" dy="1.1">0</tspan></text>
<text x="530.6" y="746.7" font-family="'Liberation Serif', serif" font-size="17" font-weight="bold" fill="#111" text-anchor="middle" >Potential (V)</text>
<text x="381.4" y="609.7" font-family="'Liberation Serif', serif" font-size="17" font-weight="bold" fill="#111" text-anchor="middle" transform="rotate(-90 381.4 609.7)" >Current (mA)</text>
<text x="356.2" y="526.5" font-family="'Liberation Serif', serif" font-size="19.5" font-weight="bold" fill="#ff0000" text-anchor="start" >(h)</text>
<polyline points="758,710.8 758,682.91 759.06,679.04 760.11,675.4 761.17,671.97 762.23,668.75 763.29,665.72 764.34,662.87 765.4,660.19 766.46,657.67 767.51,655.29 768.57,653.04 769.63,650.92 770.69,648.9 771.74,646.98 772.8,645.15 773.86,643.39 774.92,641.69 775.97,640.04 777.03,638.43 778.09,636.86 779.14,635.34 780.2,633.85 781.26,632.4 782.32,630.99 783.37,629.61 784.43,628.26 785.49,626.94 786.54,625.65 787.6,624.38 788.66,623.14 789.72,621.93 790.77,620.73 791.83,619.56 792.89,618.4 793.94,617.26 795,616.14 796.06,615.03 797.12,613.93 798.17,612.84 799.23,611.76 800.29,610.68 801.35,609.61 802.4,608.55 803.46,607.48 804.52,606.42 805.57,605.35 806.63,604.28 807.69,603.21 808.75,602.13 809.8,601.05 810.86,599.97 811.92,598.89 812.97,597.8 814.03,596.71 815.09,595.63 816.15,594.54 817.2,593.45 818.26,592.35 819.32,591.26 820.38,590.17 821.43,589.08 822.49,587.99 823.55,586.89 824.6,585.8 825.66,584.71 826.72,583.62 827.78,582.53 828.83,581.45 829.89,580.36 830.95,579.28 832,578.19 833.06,577.11 834.12,576.04 835.18,574.96 836.23,573.89 837.29,572.82 838.35,571.76 839.4,570.7 840.46,569.64 841.52,568.59 842.58,567.54 843.63,566.5 844.69,565.46 845.75,564.42 846.81,563.39 847.86,562.37 848.92,561.35 849.98,560.34 851.03,559.33 852.09,558.33 853.15,557.33 854.21,556.35 855.26,555.37 856.32,554.39 857.38,553.43 858.43,552.47 859.49,551.52 860.55,550.58 861.61,549.64 862.66,548.72 863.72,547.8 864.78,546.89 865.83,545.99 866.89,545.1 867.95,544.22 869.01,543.35 870.06,542.49 871.12,541.64 872.18,540.8 873.24,539.97 874.29,539.15 875.35,538.35 876.41,537.55 877.46,536.77 878.52,536 879.58,535.24 880.64,534.49 881.69,533.75 882.75,533.03 883.81,532.32 883.91,560.43 884.12,561.6 884.33,562.73 884.54,563.81 884.75,564.84 884.96,565.84 885.17,566.79 885.38,567.72 885.59,568.6 885.8,569.46 886.01,570.28 886.22,571.07 886.43,571.84 886.64,572.58 886.85,573.3 887.06,574 887.27,574.67 887.48,575.32 887.69,575.96 887.9,576.57 888.11,577.17 888.32,577.76 888.53,578.32 888.74,578.88 888.95,579.42 889.16,579.94 889.37,580.46 889.58,580.96 889.79,581.45 890,581.93 890.21,582.4 890.42,582.87 890.63,583.32 890.84,583.77 891.05,584.2 891.26,584.64 891.47,585.06 891.68,585.48 891.89,585.89 892.1,586.29 892.31,586.69 892.52,587.09 892.73,587.48 892.94,587.86 893.15,588.25 893.36,588.62 893.57,589 893.78,589.36 893.99,589.73 894.2,590.09 894.41,590.45 894.62,590.81 894.83,591.16 895.04,591.51 895.25,591.86 895.46,592.2 895.67,592.55 895.88,592.89 896.09,593.23 896.3,593.57 896.51,593.9 896.72,594.23 896.93,594.57 897.14,594.9 897.35,595.23 897.56,595.55 897.77,595.88 897.98,596.2 898.19,596.53 898.4,596.85 899.69,598.81 900.98,600.75 902.28,602.65 903.57,604.54 904.87,606.42 906.16,608.28 907.46,610.13 908.75,611.97 910.05,613.8 911.34,615.62 912.63,617.43 913.93,619.24 915.22,621.04 916.52,622.83 917.81,624.62 919.11,626.39 920.4,628.17 921.69,629.93 922.99,631.69 924.28,633.44 925.58,635.18 926.87,636.92 928.17,638.65 929.46,640.37 930.75,642.09 932.05,643.8 933.34,645.5 934.64,647.19 935.93,648.88 937.23,650.56 938.52,652.24 939.81,653.91 941.11,655.57 942.4,657.22 943.7,658.87 944.99,660.51 946.29,662.14 947.58,663.77 948.87,665.39 950.17,667 951.46,668.61 952.76,670.21 954.05,671.8 955.35,673.38 956.64,674.96 957.93,676.53 959.23,678.1 960.52,679.66 961.82,681.21 963.11,682.75 964.41,684.29 965.7,685.82 966.99,687.34 968.29,688.86 969.58,690.37 970.88,691.87 972.17,693.37 973.47,694.86 974.76,696.34 976.05,697.82 977.35,699.28 978.64,700.75 979.94,702.2 981.23,703.65 982.53,705.09 983.82,706.52 985.11,707.95 986.41,709.37 987.7,710.79" fill="none" stroke="#a424ff" stroke-width="1.9" stroke-linejoin="round" stroke-linecap="round" />
<polyline points="758,710.8 758,682.91 759.01,679.04 760.02,675.4 761.03,671.97 762.04,668.75 763.05,665.72 764.06,662.87 765.06,660.19 766.07,657.67 767.08,655.29 768.09,653.04 769.1,650.92 770.11,648.9 771.12,646.98 772.13,645.15 773.14,643.39 774.15,641.69 775.16,640.04 776.17,638.43 777.18,636.86 778.19,635.34 779.19,633.85 780.2,632.4 781.21,630.99 782.22,629.61 783.23,628.26 784.24,626.94 785.25,625.65 786.26,624.38 787.27,623.14 788.28,621.93 789.29,620.73 790.3,619.56 791.31,618.4 792.31,617.26 793.32,616.14 794.33,615.03 795.34,613.93 796.35,612.84 797.36,611.76 798.37,610.68 799.38,609.61 800.39,608.55 801.4,607.48 802.41,606.42 803.42,605.35 804.43,604.28 805.43,603.21 806.44,602.13 807.45,601.05 808.46,599.97 809.47,598.89 810.48,597.8 811.49,596.71 812.5,595.63 813.51,594.54 814.52,593.45 815.53,592.35 816.54,591.26 817.55,590.17 818.56,589.08 819.56,587.99 820.57,586.89 821.58,585.8 822.59,584.71 823.6,583.62 824.61,582.53 825.62,581.45 826.63,580.36 827.64,579.28 828.65,578.19 829.66,577.11 830.67,576.04 831.68,574.96 832.68,573.89 833.69,572.82 834.7,571.76 835.71,570.7 836.72,569.64 837.73,568.59 838.74,567.54 839.75,566.5 840.76,565.46 841.77,564.42 842.78,563.39 843.79,562.37 844.8,561.35 845.8,560.34 846.81,559.33 847.82,558.33 848.83,557.33 849.84,556.35 850.85,555.37 851.86,554.39 852.87,553.43 853.88,552.47 854.89,551.52 855.9,550.58 856.91,549.64 857.92,548.72 858.93,547.8 859.93,546.89 860.94,545.99 861.95,545.1 862.96,544.22 863.97,543.35 864.98,542.49 865.99,541.64 867,540.8 868.01,539.97 869.02,539.15 870.03,538.35 871.04,537.55 872.05,536.77 873.05,536 874.06,535.24 875.07,534.49 876.08,533.75 877.09,533.03 878.1,532.32 878.18,560.43 878.6,562.32 879.02,564.12 879.44,565.85 879.85,567.51 880.27,569.09 880.69,570.62 881.11,572.09 881.53,573.49 881.94,574.85 882.36,576.15 882.78,577.41 883.2,578.62 883.61,579.79 884.03,580.92 884.45,582.01 884.87,583.07 885.28,584.09 885.7,585.08 886.12,586.04 886.54,586.97 886.96,587.88 887.37,588.76 887.79,589.62 888.21,590.45 888.63,591.26 889.04,592.06 889.46,592.83 889.88,593.59 890.3,594.33 890.71,595.05 891.13,595.76 891.55,596.46 891.97,597.14 892.38,597.81 892.8,598.47 893.22,599.12 893.64,599.75 894.06,600.38 894.47,601 894.89,601.61 895.31,602.21 895.73,602.8 896.14,603.39 896.56,603.97 896.98,604.54 897.4,605.1 897.81,605.66 898.23,606.22 898.65,606.77 899.07,607.31 899.49,607.85 899.9,608.39 900.32,608.92 900.74,609.45 901.16,609.97 901.57,610.5 901.99,611.01 902.41,611.53 902.83,612.04 903.24,612.55 903.66,613.06 904.08,613.56 904.5,614.07 904.92,614.57 905.33,615.07 905.75,615.56 906.17,616.06 906.59,616.55 907,617.04 908.18,618.42 909.35,619.79 910.53,621.15 911.71,622.51 912.88,623.86 914.06,625.2 915.23,626.54 916.41,627.88 917.58,629.22 918.76,630.56 919.93,631.89 921.11,633.22 922.29,634.56 923.46,635.89 924.64,637.22 925.81,638.56 926.99,639.89 928.16,641.22 929.34,642.56 930.51,643.9 931.69,645.23 932.87,646.57 934.04,647.91 935.22,649.25 936.39,650.59 937.57,651.93 938.74,653.27 939.92,654.61 941.09,655.96 942.27,657.3 943.45,658.65 944.62,660 945.8,661.35 946.97,662.7 948.15,664.05 949.32,665.41 950.5,666.76 951.67,668.12 952.85,669.47 954.03,670.83 955.2,672.19 956.38,673.55 957.55,674.91 958.73,676.28 959.9,677.64 961.08,679.01 962.26,680.38 963.43,681.74 964.61,683.11 965.78,684.49 966.96,685.86 968.13,687.23 969.31,688.61 970.48,689.98 971.66,691.36 972.84,692.74 974.01,694.12 975.19,695.5 976.36,696.88 977.54,698.27 978.71,699.65 979.89,701.04 981.06,702.43 982.24,703.82 983.42,705.21 984.59,706.6 985.77,707.99 986.94,709.39 988.12,710.78" fill="none" stroke="#1e8cff" stroke-width="1.9" stroke-linejoin="round" stroke-linecap="round" />
<polyline points="758,710.8 758,682.91 758.99,679.04 759.98,675.4 760.97,671.97 761.96,668.75 762.95,665.72 763.94,662.87 764.94,660.19 765.93,657.67 766.92,655.29 767.91,653.04 768.9,650.92 769.89,648.9 770.88,646.98 771.87,645.15 772.86,643.39 773.85,641.69 774.84,640.04 775.83,638.43 776.82,636.86 777.82,635.34 778.81,633.85 779.8,632.4 780.79,630.99 781.78,629.61 782.77,628.26 783.76,626.94 784.75,625.65 785.74,624.38 786.73,623.14 787.72,621.93 788.71,620.73 789.7,619.56 790.7,618.4 791.69,617.26 792.68,616.14 793.67,615.03 794.66,613.93 795.65,612.84 796.64,611.76 797.63,610.68 798.62,609.61 799.61,608.55 800.6,607.48 801.59,606.42 802.58,605.35 803.58,604.28 804.57,603.21 805.56,602.13 806.55,601.05 807.54,599.97 808.53,598.89 809.52,597.8 810.51,596.71 811.5,595.63 812.49,594.54 813.48,593.45 814.47,592.35 815.46,591.26 816.46,590.17 817.45,589.08 818.44,587.99 819.43,586.89 820.42,585.8 821.41,584.71 822.4,583.62 823.39,582.53 824.38,581.45 825.37,580.36 826.36,579.28 827.35,578.19 828.34,577.11 829.34,576.04 830.33,574.96 831.32,573.89 832.31,572.82 833.3,571.76 834.29,570.7 835.28,569.64 836.27,568.59 837.26,567.54 838.25,566.5 839.24,565.46 840.23,564.42 841.22,563.39 842.22,562.37 843.21,561.35 844.2,560.34 845.19,559.33 846.18,558.33 847.17,557.33 848.16,556.35 849.15,555.37 850.14,554.39 851.13,553.43 852.12,552.47 853.11,551.52 854.1,550.58 855.1,549.64 856.09,548.72 857.08,547.8 858.07,546.89 859.06,545.99 860.05,545.1 861.04,544.22 862.03,543.35 863.02,542.49 864.01,541.64 865,540.8 865.99,539.97 866.98,539.15 867.98,538.35 868.97,537.55 869.96,536.77 870.95,536 871.94,535.24 872.93,534.49 873.92,533.75 874.91,533.03 875.9,532.32 876.03,560.43 876.42,562.3 876.82,564.09 877.21,565.81 877.61,567.45 878.01,569.03 878.4,570.54 878.8,571.99 879.19,573.38 879.59,574.72 879.98,576.01 880.38,577.26 880.78,578.45 881.17,579.61 881.57,580.72 881.96,581.8 882.36,582.84 882.76,583.85 883.15,584.82 883.55,585.77 883.94,586.68 884.34,587.57 884.74,588.44 885.13,589.28 885.53,590.1 885.92,590.9 886.32,591.67 886.71,592.43 887.11,593.18 887.51,593.9 887.9,594.61 888.3,595.3 888.69,595.98 889.09,596.65 889.49,597.3 889.88,597.94 890.28,598.58 890.67,599.2 891.07,599.81 891.46,600.41 891.86,601 892.26,601.59 892.65,602.16 893.05,602.73 893.44,603.29 893.84,603.85 894.24,604.4 894.63,604.94 895.03,605.48 895.42,606.01 895.82,606.54 896.22,607.07 896.61,607.59 897.01,608.1 897.4,608.61 897.8,609.12 898.19,609.62 898.59,610.13 898.99,610.62 899.38,611.12 899.78,611.61 900.17,612.1 900.57,612.59 900.97,613.08 901.36,613.56 901.76,614.04 902.15,614.52 902.55,615 902.94,615.48 903.34,615.95 904.51,617.35 905.69,618.74 906.86,620.12 908.03,621.5 909.21,622.86 910.38,624.23 911.55,625.59 912.73,626.94 913.9,628.3 915.07,629.65 916.25,631 917.42,632.35 918.59,633.7 919.77,635.05 920.94,636.4 922.11,637.75 923.29,639.1 924.46,640.46 925.63,641.81 926.81,643.16 927.98,644.51 929.15,645.87 930.33,647.22 931.5,648.58 932.67,649.93 933.85,651.29 935.02,652.65 936.19,654.01 937.37,655.37 938.54,656.73 939.71,658.09 940.89,659.46 942.06,660.82 943.23,662.19 944.41,663.56 945.58,664.93 946.75,666.3 947.93,667.67 949.1,669.04 950.27,670.42 951.45,671.79 952.62,673.17 953.79,674.54 954.97,675.92 956.14,677.3 957.31,678.68 958.49,680.07 959.66,681.45 960.83,682.83 962.01,684.22 963.18,685.61 964.35,686.99 965.53,688.38 966.7,689.77 967.87,691.17 969.05,692.56 970.22,693.95 971.39,695.35 972.57,696.75 973.74,698.14 974.91,699.54 976.09,700.94 977.26,702.35 978.43,703.75 979.61,705.15 980.78,706.56 981.95,707.96 983.13,709.37 984.3,710.78" fill="none" stroke="#d4f01e" stroke-width="1.9" stroke-linejoin="round" stroke-linecap="round" />
<polyline points="758,710.8 758,682.91 758.97,679.04 759.94,675.4 760.92,671.97 761.89,668.75 762.86,665.72 763.83,662.87 764.81,660.19 765.78,657.67 766.75,655.29 767.72,653.04 768.7,650.92 769.67,648.9 770.64,646.98 771.61,645.15 772.58,643.39 773.56,641.69 774.53,640.04 775.5,638.43 776.47,636.86 777.45,635.34 778.42,633.85 779.39,632.4 780.36,630.99 781.33,629.61 782.31,628.26 783.28,626.94 784.25,625.65 785.22,624.38 786.2,623.14 787.17,621.93 788.14,620.73 789.11,619.56 790.09,618.4 791.06,617.26 792.03,616.14 793,615.03 793.97,613.93 794.95,612.84 795.92,611.76 796.89,610.68 797.86,609.61 798.84,608.55 799.81,607.48 800.78,606.42 801.75,605.35 802.73,604.28 803.7,603.21 804.67,602.13 805.64,601.05 806.61,599.97 807.59,598.89 808.56,597.8 809.53,596.71 810.5,595.63 811.48,594.54 812.45,593.45 813.42,592.35 814.39,591.26 815.36,590.17 816.34,589.08 817.31,587.99 818.28,586.89 819.25,585.8 820.23,584.71 821.2,583.62 822.17,582.53 823.14,581.45 824.12,580.36 825.09,579.28 826.06,578.19 827.03,577.11 828,576.04 828.98,574.96 829.95,573.89 830.92,572.82 831.89,571.76 832.87,570.7 833.84,569.64 834.81,568.59 835.78,567.54 836.76,566.5 837.73,565.46 838.7,564.42 839.67,563.39 840.64,562.37 841.62,561.35 842.59,560.34 843.56,559.33 844.53,558.33 845.51,557.33 846.48,556.35 847.45,555.37 848.42,554.39 849.39,553.43 850.37,552.47 851.34,551.52 852.31,550.58 853.28,549.64 854.26,548.72 855.23,547.8 856.2,546.89 857.17,545.99 858.15,545.1 859.12,544.22 860.09,543.35 861.06,542.49 862.03,541.64 863.01,540.8 863.98,539.97 864.95,539.15 865.92,538.35 866.9,537.55 867.87,536.77 868.84,536 869.81,535.24 870.79,534.49 871.76,533.75 872.73,533.03 873.7,532.32 873.83,560.43 874.19,562.28 874.56,564.05 874.92,565.75 875.29,567.37 875.65,568.92 876.01,570.42 876.38,571.85 876.74,573.22 877.11,574.54 877.47,575.81 877.84,577.03 878.2,578.2 878.57,579.33 878.93,580.43 879.3,581.48 879.66,582.5 880.03,583.48 880.39,584.44 880.76,585.36 881.12,586.25 881.48,587.12 881.85,587.96 882.21,588.78 882.58,589.58 882.94,590.35 883.31,591.11 883.67,591.84 884.04,592.56 884.4,593.26 884.77,593.95 885.13,594.62 885.5,595.27 885.86,595.92 886.23,596.55 886.59,597.17 886.95,597.77 887.32,598.37 887.68,598.96 888.05,599.53 888.41,600.1 888.78,600.66 889.14,601.22 889.51,601.76 889.87,602.3 890.24,602.83 890.6,603.36 890.97,603.87 891.33,604.39 891.7,604.9 892.06,605.4 892.42,605.9 892.79,606.4 893.15,606.89 893.52,607.37 893.88,607.86 894.25,608.34 894.61,608.81 894.98,609.29 895.34,609.76 895.71,610.22 896.07,610.69 896.44,611.15 896.8,611.61 897.17,612.07 897.53,612.53 897.89,612.98 898.26,613.44 898.62,613.89 898.99,614.34 900.16,615.77 901.33,617.19 902.5,618.6 903.67,620 904.84,621.4 906.01,622.79 907.18,624.18 908.35,625.56 909.52,626.94 910.68,628.32 911.85,629.7 913.02,631.07 914.19,632.45 915.36,633.82 916.53,635.2 917.7,636.57 918.87,637.95 920.04,639.32 921.21,640.7 922.38,642.08 923.55,643.46 924.72,644.83 925.89,646.21 927.06,647.59 928.23,648.97 929.4,650.36 930.57,651.74 931.74,653.12 932.91,654.51 934.08,655.89 935.25,657.28 936.42,658.67 937.59,660.06 938.76,661.45 939.93,662.84 941.1,664.23 942.26,665.62 943.43,667.02 944.6,668.41 945.77,669.81 946.94,671.21 948.11,672.61 949.28,674.01 950.45,675.41 951.62,676.81 952.79,678.21 953.96,679.62 955.13,681.02 956.3,682.43 957.47,683.83 958.64,685.24 959.81,686.65 960.98,688.06 962.15,689.47 963.32,690.89 964.49,692.3 965.66,693.72 966.83,695.13 968,696.55 969.17,697.97 970.34,699.39 971.51,700.81 972.68,702.23 973.84,703.65 975.01,705.07 976.18,706.5 977.35,707.92 978.52,709.35 979.69,710.78" fill="none" stroke="#ff4a14" stroke-width="1.9" stroke-linejoin="round" stroke-linecap="round" />
<line x1="756.95" y1="510.6" x2="1007.85" y2="510.6" stroke="#111" stroke-width="1.7" />
<line x1="756.95" y1="710.8" x2="1007.85" y2="710.8" stroke="#111" stroke-width="1.7" />
<line x1="757.8" y1="509.75" x2="757.8" y2="711.65" stroke="#111" stroke-width="1.7" />
<line x1="1007" y1="509.75" x2="1007" y2="711.65" stroke="#111" stroke-width="1.7" />
<line x1="758" y1="710.8" x2="758" y2="714.6" stroke="#111" stroke-width="1.6" />
<line x1="799.5" y1="710.8" x2="799.5" y2="714.6" stroke="#111" stroke-width="1.6" />
<line x1="841" y1="710.8" x2="841" y2="714.6" stroke="#111" stroke-width="1.6" />
<line x1="882.5" y1="710.8" x2="882.5" y2="714.6" stroke="#111" stroke-width="1.6" />
<line x1="924" y1="710.8" x2="924" y2="714.6" stroke="#111" stroke-width="1.6" />
<line x1="965.5" y1="710.8" x2="965.5" y2="714.6" stroke="#111" stroke-width="1.6" />
<line x1="1007" y1="710.8" x2="1007" y2="714.6" stroke="#111" stroke-width="1.6" />
<line x1="778.75" y1="710.8" x2="778.75" y2="712.9" stroke="#111" stroke-width="1.2" />
<line x1="820.25" y1="710.8" x2="820.25" y2="712.9" stroke="#111" stroke-width="1.2" />
<line x1="861.75" y1="710.8" x2="861.75" y2="712.9" stroke="#111" stroke-width="1.2" />
<line x1="903.25" y1="710.8" x2="903.25" y2="712.9" stroke="#111" stroke-width="1.2" />
<line x1="944.75" y1="710.8" x2="944.75" y2="712.9" stroke="#111" stroke-width="1.2" />
<line x1="986.25" y1="710.8" x2="986.25" y2="712.9" stroke="#111" stroke-width="1.2" />
<text x="758" y="728" font-family="'Liberation Serif', serif" font-size="13.7" font-weight="bold" fill="#111" text-anchor="middle" >0</text>
<text x="799.5" y="728" font-family="'Liberation Serif', serif" font-size="13.7" font-weight="bold" fill="#111" text-anchor="middle" >200</text>
<text x="841" y="728" font-family="'Liberation Serif', serif" font-size="13.7" font-weight="bold" fill="#111" text-anchor="middle" >400</text>
<text x="882.5" y="728" font-family="'Liberation Serif', serif" font-size="13.7" font-weight="bold" fill="#111" text-anchor="middle" >600</text>
<text x="924" y="728" font-family="'Liberation Serif', serif" font-size="13.7" font-weight="bold" fill="#111" text-anchor="middle" >800</text>
<text x="965.5" y="728" font-family="'Liberation Serif', serif" font-size="13.7" font-weight="bold" fill="#111" text-anchor="middle" >1000</text>
<text x="1007" y="728" font-family="'Liberation Serif', serif" font-size="13.7" font-weight="bold" fill="#111" text-anchor="middle" >1200</text>
<line x1="757.8" y1="710.8" x2="754" y2="710.8" stroke="#111" stroke-width="1.6" />
<line x1="757.8" y1="666.18" x2="754" y2="666.18" stroke="#111" stroke-width="1.6" />
<line x1="757.8" y1="621.56" x2="754" y2="621.56" stroke="#111" stroke-width="1.6" />
<line x1="757.8" y1="576.94" x2="754" y2="576.94" stroke="#111" stroke-width="1.6" />
<line x1="757.8" y1="532.32" x2="754" y2="532.32" stroke="#111" stroke-width="1.6" />
<line x1="757.8" y1="688.49" x2="755.7" y2="688.49" stroke="#111" stroke-width="1.2" />
<line x1="757.8" y1="643.87" x2="755.7" y2="643.87" stroke="#111" stroke-width="1.2" />
<line x1="757.8" y1="599.25" x2="755.7" y2="599.25" stroke="#111" stroke-width="1.2" />
<line x1="757.8" y1="554.63" x2="755.7" y2="554.63" stroke="#111" stroke-width="1.2" />
<text x="751.3" y="715.35" font-family="'Liberation Serif', serif" font-size="13.7" font-weight="bold" fill="#111" text-anchor="end" >0.0</text>
<text x="751.3" y="670.73" font-family="'Liberation Serif', serif" font-size="13.7" font-weight="bold" fill="#111" text-anchor="end" >0.2</text>
<text x="751.3" y="626.11" font-family="'Liberation Serif', serif" font-size="13.7" font-weight="bold" fill="#111" text-anchor="end" >0.4</text>
<text x="751.3" y="581.49" font-family="'Liberation Serif', serif" font-size="13.7" font-weight="bold" fill="#111" text-anchor="end" >0.6</text>
<text x="751.3" y="536.87" font-family="'Liberation Serif', serif" font-size="13.7" font-weight="bold" fill="#111" text-anchor="end" >0.8</text>
<line x1="901.7" y1="528.4" x2="926.7" y2="528.4" stroke="#a424ff" stroke-width="2.2" />
<text x="928.6" y="532.2" font-family="'Liberation Serif', serif" font-size="10.55" font-weight="bold" fill="#111" text-anchor="start" >0</text>
<line x1="901.7" y1="541.47" x2="926.7" y2="541.47" stroke="#1e8cff" stroke-width="2.2" />
<text x="928.6" y="545.27" font-family="'Liberation Serif', serif" font-size="10.55" font-weight="bold" fill="#111" text-anchor="start" >Pressure 10%</text>
<line x1="901.7" y1="554.54" x2="926.7" y2="554.54" stroke="#d4f01e" stroke-width="2.2" />
<text x="928.6" y="558.34" font-family="'Liberation Serif', serif" font-size="10.55" font-weight="bold" fill="#111" text-anchor="start" >Pressure 20%</text>
<line x1="901.7" y1="567.61" x2="926.7" y2="567.61" stroke="#ff4a14" stroke-width="2.2" />
<text x="928.6" y="571.41" font-family="'Liberation Serif', serif" font-size="10.55" font-weight="bold" fill="#111" text-anchor="start" >Pressure 30%</text>
<rect x="797.4" y="626.1" width="104.1" height="67.2" fill="#fff" stroke="#3a3a3a" stroke-width="1.0"/>
<line x1="797.4" y1="693.3" x2="795.9" y2="693.3" stroke="#3a3a3a" stroke-width="0.6" />
<text x="795.5" y="694.7" font-family="'Liberation Serif', serif" font-size="3.9" font-weight="bold" fill="#2a2a2a" text-anchor="end" >0</text>
<line x1="797.4" y1="681" x2="795.9" y2="681" stroke="#3a3a3a" stroke-width="0.6" />
<text x="795.5" y="682.4" font-family="'Liberation Serif', serif" font-size="3.9" font-weight="bold" fill="#2a2a2a" text-anchor="end" >20</text>
<line x1="797.4" y1="668.7" x2="795.9" y2="668.7" stroke="#3a3a3a" stroke-width="0.6" />
<text x="795.5" y="670.1" font-family="'Liberation Serif', serif" font-size="3.9" font-weight="bold" fill="#2a2a2a" text-anchor="end" >40</text>
<line x1="797.4" y1="656.4" x2="795.9" y2="656.4" stroke="#3a3a3a" stroke-width="0.6" />
<text x="795.5" y="657.8" font-family="'Liberation Serif', serif" font-size="3.9" font-weight="bold" fill="#2a2a2a" text-anchor="end" >60</text>
<line x1="797.4" y1="644.1" x2="795.9" y2="644.1" stroke="#3a3a3a" stroke-width="0.6" />
<text x="795.5" y="645.5" font-family="'Liberation Serif', serif" font-size="3.9" font-weight="bold" fill="#2a2a2a" text-anchor="end" >80</text>
<line x1="797.4" y1="631.8" x2="795.9" y2="631.8" stroke="#3a3a3a" stroke-width="0.6" />
<text x="795.5" y="633.2" font-family="'Liberation Serif', serif" font-size="3.9" font-weight="bold" fill="#2a2a2a" text-anchor="end" >100</text>
<line x1="801.82" y1="693.3" x2="801.82" y2="694.8" stroke="#3a3a3a" stroke-width="0.6" />
<text x="801.82" y="699.2" font-family="'Liberation Serif', serif" font-size="3.9" font-weight="bold" fill="#2a2a2a" text-anchor="middle" >0</text>
<line x1="831.31" y1="693.3" x2="831.31" y2="694.8" stroke="#3a3a3a" stroke-width="0.6" />
<text x="831.31" y="699.2" font-family="'Liberation Serif', serif" font-size="3.9" font-weight="bold" fill="#2a2a2a" text-anchor="middle" >10</text>
<line x1="860.8" y1="693.3" x2="860.8" y2="694.8" stroke="#3a3a3a" stroke-width="0.6" />
<text x="860.8" y="699.2" font-family="'Liberation Serif', serif" font-size="3.9" font-weight="bold" fill="#2a2a2a" text-anchor="middle" >20</text>
<line x1="890.29" y1="693.3" x2="890.29" y2="694.8" stroke="#3a3a3a" stroke-width="0.6" />
<text x="890.29" y="699.2" font-family="'Liberation Serif', serif" font-size="3.9" font-weight="bold" fill="#2a2a2a" text-anchor="middle" >30</text>
<line x1="816.57" y1="693.3" x2="816.57" y2="694.3" stroke="#3a3a3a" stroke-width="0.5" />
<line x1="846.06" y1="693.3" x2="846.06" y2="694.3" stroke="#3a3a3a" stroke-width="0.5" />
<line x1="875.55" y1="693.3" x2="875.55" y2="694.3" stroke="#3a3a3a" stroke-width="0.5" />
<polyline points="801.82,631.8 831.31,632.05 860.8,633.28 890.29,634.26" fill="none" stroke="#3aa83a" stroke-width="1.1" stroke-linejoin="round" stroke-linecap="round" />
<circle cx="801.82" cy="631.8" r="0.9" fill="#3aa83a"/>
<circle cx="831.31" cy="632.05" r="0.9" fill="#3aa83a"/>
<circle cx="860.8" cy="633.28" r="0.9" fill="#3aa83a"/>
<circle cx="890.29" cy="634.26" r="0.9" fill="#3aa83a"/>
<text x="849" y="706.5" font-family="'Liberation Serif', serif" font-size="5.0" font-weight="bold" fill="#2a2a2a" text-anchor="middle" >Pressure(%)</text>
<text x="787" y="663" font-family="'Liberation Serif', serif" font-size="5.2" font-weight="bold" fill="#2a2a2a" text-anchor="middle" transform="rotate(-90 787 663)" >C/C<tspan font-size="3.3" dy="1.1">0</tspan></text>
<text x="880" y="744.2" font-family="'Liberation Serif', serif" font-size="17" font-weight="bold" fill="#111" text-anchor="middle" >Times (s)</text>
<text x="727.6" y="606" font-family="'Liberation Serif', serif" font-size="17" font-weight="bold" fill="#111" text-anchor="middle" transform="rotate(-90 727.6 606)" >Voltage (V)</text>
<text x="709.8" y="526.4" font-family="'Liberation Serif', serif" font-size="19.5" font-weight="bold" fill="#ff0000" text-anchor="start" >(i)</text>
<polyline points="403.3,968 403.38,951.84 403.95,950.24 404.52,948.68 405.09,947.17 405.66,945.72 406.23,944.3 406.8,942.93 407.37,941.61 407.95,940.32 408.52,939.08 409.09,937.88 409.66,936.72 410.23,935.6 410.8,934.52 411.37,933.47 411.94,932.46 412.51,931.49 413.08,930.55 413.65,929.64 414.22,928.76 414.79,927.92 415.37,927.1 415.94,926.31 416.51,925.55 417.08,924.82 417.65,924.11 418.22,923.43 418.79,922.78 419.36,922.14 419.93,921.53 420.5,920.94 421.07,920.37 421.64,919.81 422.22,919.28 422.79,918.76 423.36,918.26 423.93,917.77 424.5,917.3 425.07,916.84 425.64,916.39 426.21,915.95 426.78,915.53 427.35,915.11 427.92,914.7 428.49,914.3 429.07,913.9 429.64,913.51 430.21,913.12 430.78,912.74 431.35,912.37 431.92,911.99 432.49,911.63 433.06,911.27 433.63,910.91 434.2,910.56 434.77,910.21 435.34,909.86 435.92,909.52 436.49,909.18 437.06,908.84 437.63,908.51 438.2,908.18 438.77,907.85 439.34,907.53 439.91,907.2 440.48,906.88 441.05,906.56 441.62,906.24 442.19,905.93 442.76,905.61 443.34,905.3 443.91,904.99 444.48,904.68 445.05,904.37 445.62,904.05 446.19,903.74 446.76,903.43 447.33,903.12 447.9,902.81 448.47,902.5 449.04,902.19 449.61,901.88 450.19,901.56 450.76,901.25 451.33,900.93 451.9,900.61 452.47,900.29 453.04,899.97 453.61,899.64 454.18,899.32 454.75,898.99 455.32,898.65 455.89,898.32 456.46,897.98 457.04,897.64 457.61,897.3 458.18,896.95 458.75,896.59 459.32,896.24 459.89,895.88 460.46,895.51 461.03,895.14 461.6,894.77 462.17,894.39 462.74,894.01 463.31,893.62 463.88,893.22 464.46,892.82 465.03,892.41 465.6,892 466.17,891.58 466.74,891.16 467.31,890.73 467.88,890.29 468.45,889.84 469.02,889.39 469.59,888.93 470.16,888.46 470.73,887.99 471.31,887.5 471.38,900.33 471.9,901.8 472.41,903.19 472.93,904.52 473.45,905.78 473.96,906.98 474.48,908.13 474.99,909.22 475.51,910.26 476.02,911.26 476.54,912.21 477.05,913.12 477.57,914 478.08,914.83 478.6,915.64 479.11,916.41 479.63,917.16 480.15,917.88 480.66,918.57 481.18,919.24 481.69,919.89 482.21,920.51 482.72,921.12 483.24,921.72 483.75,922.29 484.27,922.85 484.78,923.4 485.3,923.94 485.81,924.46 486.33,924.98 486.85,925.48 487.36,925.98 487.88,926.47 488.39,926.95 488.91,927.42 489.42,927.89 489.94,928.36 490.45,928.82 490.97,929.28 491.48,929.73 492,930.18 492.51,930.63 493.03,931.08 493.55,931.53 494.06,931.97 494.58,932.42 495.09,932.87 495.61,933.31 496.12,933.76 496.64,934.21 497.15,934.66 497.67,935.11 498.18,935.56 498.7,936.02 499.21,936.47 499.73,936.93 500.25,937.4 500.76,937.86 501.28,938.33 501.79,938.8 502.31,939.28 502.82,939.76 503.34,940.24 503.85,940.73 504.37,941.22 504.88,941.71 505.4,942.21 505.91,942.71 506.43,943.22 506.95,943.73 507.24,944.03 507.53,944.32 507.82,944.62 508.11,944.91 508.41,945.21 508.7,945.51 508.99,945.81 509.28,946.12 509.58,946.42 509.87,946.73 510.16,947.04 510.45,947.35 510.74,947.66 511.04,947.97 511.33,948.29 511.62,948.61 511.91,948.92 512.21,949.25 512.5,949.57 512.79,949.89 513.08,950.22 513.37,950.54 513.67,950.87 513.96,951.2 514.25,951.54 514.54,951.87 514.84,952.21 515.13,952.54 515.42,952.88 515.71,953.22 516,953.57 516.3,953.91 516.59,954.26 516.88,954.61 517.17,954.96 517.47,955.31 517.76,955.67 518.05,956.02 518.34,956.38 518.63,956.74 518.93,957.1 519.22,957.46 519.51,957.83 519.8,958.2 520.1,958.57 520.39,958.94 520.68,959.31 520.97,959.68 521.27,960.06 521.56,960.44 521.85,960.82 522.14,961.2 522.43,961.59 522.73,961.97 523.02,962.36 523.31,962.75 523.6,963.14 523.9,963.54 524.19,963.93 524.48,964.33 524.77,964.73 525.06,965.13 525.36,965.54 525.65,965.94 525.94,966.35 526.23,966.76 526.53,967.17 526.82,967.58 527.11,968 527.33,955.88 527.9,954.8 528.47,953.73 529.04,952.67 529.61,951.63 530.17,950.6 530.74,949.58 531.31,948.58 531.88,947.58 532.44,946.61 533.01,945.64 533.58,944.69 534.15,943.75 534.72,942.82 535.28,941.91 535.85,941 536.42,940.11 536.99,939.23 537.55,938.36 538.12,937.5 538.69,936.66 539.26,935.82 539.83,935 540.39,934.19 540.96,933.39 541.53,932.6 542.1,931.82 542.66,931.05 543.23,930.29 543.8,929.54 544.37,928.8 544.94,928.07 545.5,927.35 546.07,926.64 546.64,925.94 547.21,925.25 547.77,924.57 548.34,923.9 548.91,923.24 549.48,922.58 550.05,921.94 550.61,921.3 551.18,920.67 551.75,920.05 552.32,919.44 552.89,918.84 553.45,918.24 554.02,917.65 554.59,917.07 555.16,916.5 555.72,915.94 556.29,915.38 556.86,914.83 557.43,914.28 558,913.75 558.56,913.22 559.13,912.69 559.7,912.18 560.27,911.67 560.83,911.16 561.4,910.67 561.97,910.18 562.54,909.69 563.11,909.21 563.67,908.74 564.24,908.27 564.81,907.8 565.38,907.35 565.94,906.89 566.51,906.44 567.08,906 567.65,905.56 568.22,905.13 568.78,904.7 569.35,904.27 569.92,903.85 570.49,903.44 571.05,903.02 571.62,902.61 572.19,902.21 572.76,901.81 573.33,901.41 573.89,901.01 574.46,900.62 575.03,900.23 575.6,899.85 576.16,899.46 576.73,899.08 577.3,898.7 577.87,898.33 578.44,897.95 579,897.58 579.57,897.21 580.14,896.84 580.71,896.48 581.27,896.11 581.84,895.75 582.41,895.39 582.98,895.03 583.55,894.67 584.11,894.31 584.68,893.95 585.25,893.6 585.82,893.24 586.38,892.88 586.95,892.53 587.52,892.17 588.09,891.82 588.66,891.46 589.22,891.11 589.79,890.75 590.36,890.39 590.93,890.03 591.49,889.68 592.06,889.32 592.63,888.96 593.2,888.6 593.77,888.23 594.33,887.87 594.9,887.5 594.97,901.04 595.78,902.82 596.59,904.54 597.4,906.18 598.21,907.76 599.02,909.27 599.83,910.73 600.65,912.14 601.46,913.49 602.27,914.79 603.08,916.05 603.89,917.27 604.7,918.45 605.51,919.59 606.32,920.7 607.13,921.77 607.94,922.82 608.75,923.84 609.56,924.83 610.38,925.8 611.19,926.74 612,927.67 612.81,928.58 613.62,929.47 614.43,930.34 615.24,931.2 616.05,932.05 616.86,932.89 617.67,933.71 618.48,934.53 619.3,935.34 620.11,936.14 620.92,936.94 621.73,937.73 622.54,938.51 623.35,939.3 624.16,940.08 624.97,940.86 625.78,941.63 626.59,942.41 627.4,943.19 628.21,943.97 629.03,944.75 629.84,945.53 630.65,946.32 631.46,947.11 632.27,947.9 633.08,948.7 633.89,949.5 634.7,950.3 635.51,951.12 636.32,951.93 637.13,952.76 637.95,953.59 638.76,954.43 639.57,955.27 640.38,956.12 641.19,956.98 642,957.85 642.81,958.73 643.62,959.61 644.43,960.51 645.24,961.41 646.05,962.32 646.87,963.24 647.68,964.17 648.49,965.11 649.3,966.06 650.11,967.03 650.92,968 650.92,968 650.92,968 650.92,968 650.92,968 650.92,968 650.92,968 650.92,968 650.92,968 650.92,968 650.92,968 650.92,968 650.92,968 650.92,968 650.92,968 650.92,968 650.92,968 650.92,968 650.92,968 650.92,968 650.92,968 650.92,968 650.92,968 650.92,968 650.92,968 650.92,968 650.92,968 650.92,968 650.92,968 650.92,968 650.92,968 650.92,968 650.92,968 650.92,968 650.92,968 650.92,968 650.92,968 650.92,968 650.92,968 650.92,968 650.92,968 650.92,968 650.92,968 650.92,968 650.92,968 650.92,968 650.92,968 650.92,968 650.92,968 650.92,968 650.92,968 650.92,968 650.92,968 650.92,968 650.92,968 650.92,968 650.92,968 650.92,968 650.92,968 650.92,968 650.92,968 650.92,968 650.92,968 650.92,968 650.92,968 650.92,968 650.92,968 650.92,968 650.92,968 650.92,968" fill="none" stroke="#404040" stroke-width="1.6" stroke-linejoin="round" stroke-linecap="round" />
<polyline points="403.3,968 403.38,954.87 404.52,952.54 405.67,950.41 406.81,948.47 407.95,946.7 409.1,945.1 410.24,943.64 411.38,942.32 412.53,941.12 413.67,940.03 414.81,939.03 415.96,938.11 417.1,937.26 418.25,936.46 419.39,935.7 420.53,934.96 421.68,934.25 422.82,933.56 423.96,932.88 425.11,932.23 426.25,931.59 427.39,930.97 428.54,930.36 429.68,929.77 430.83,929.2 431.97,928.64 433.11,928.09 434.26,927.56 435.4,927.04 436.54,926.53 437.69,926.03 438.83,925.54 439.97,925.06 441.12,924.59 442.26,924.13 443.4,923.68 444.55,923.23 445.69,922.79 446.84,922.35 447.98,921.92 449.12,921.49 450.27,921.06 451.41,920.64 452.55,920.22 453.7,919.8 454.84,919.38 455.98,918.96 457.13,918.54 458.27,918.12 459.42,917.69 460.56,917.27 461.7,916.84 462.85,916.4 463.99,915.96 465.13,915.51 466.28,915.06 467.42,914.6 468.56,914.14 469.71,913.67 470.85,913.19 472,912.71 473.14,912.23 474.28,911.74 475.43,911.25 476.57,910.75 477.71,910.25 478.86,909.75 480,909.25 481.14,908.74 482.29,908.23 483.43,907.72 484.57,907.21 485.72,906.7 486.86,906.18 488.01,905.67 489.15,905.16 490.29,904.64 491.44,904.13 492.58,903.62 493.72,903.11 494.87,902.6 496.01,902.09 497.15,901.58 498.3,901.08 499.44,900.58 500.59,900.08 501.73,899.59 502.87,899.09 504.02,898.61 505.16,898.13 506.3,897.65 507.45,897.18 508.59,896.71 509.73,896.25 510.88,895.79 512.02,895.34 513.17,894.9 514.31,894.46 515.45,894.03 516.6,893.61 517.74,893.19 518.88,892.79 520.03,892.39 521.17,892 522.31,891.62 523.46,891.25 524.6,890.88 525.74,890.53 526.89,890.19 528.03,889.86 529.18,889.54 530.32,889.23 531.46,888.93 532.61,888.65 533.75,888.37 534.89,888.11 536.04,887.87 537.18,887.63 538.32,887.41 539.47,887.2 539.58,899.83 540.59,901.64 541.6,903.36 542.6,904.99 543.61,906.53 544.62,907.99 545.63,909.38 546.63,910.7 547.64,911.95 548.65,913.14 549.66,914.27 550.66,915.35 551.67,916.38 552.68,917.35 553.69,918.29 554.69,919.18 555.7,920.03 556.71,920.84 557.72,921.62 558.72,922.37 559.73,923.09 560.74,923.78 561.75,924.44 562.75,925.08 563.76,925.69 564.77,926.29 565.78,926.87 566.78,927.42 567.79,927.96 568.8,928.49 569.81,929 570.81,929.5 571.82,929.99 572.83,930.46 573.84,930.93 574.84,931.38 575.85,931.83 576.86,932.27 577.87,932.7 578.87,933.13 579.88,933.55 580.89,933.97 581.9,934.38 582.9,934.79 583.91,935.2 584.92,935.6 585.93,936.01 586.93,936.41 587.94,936.81 588.95,937.2 589.96,937.6 590.96,938 591.97,938.4 592.98,938.8 593.99,939.2 594.99,939.6 596,940 597.01,940.41 598.02,940.81 599.02,941.22 600.03,941.63 601.04,942.04 602.05,942.46 603.05,942.88 604.06,943.3 605.07,943.72 606.08,944.15 607.08,944.58 608.09,945.02 609.1,945.46 609.71,945.73 610.31,945.99 610.92,946.26 611.52,946.53 612.13,946.81 612.74,947.08 613.34,947.36 613.95,947.63 614.55,947.91 615.16,948.19 615.77,948.47 616.37,948.76 616.98,949.04 617.59,949.33 618.19,949.62 618.8,949.91 619.4,950.2 620.01,950.49 620.62,950.79 621.22,951.08 621.83,951.38 622.43,951.68 623.04,951.99 623.65,952.29 624.25,952.6 624.86,952.9 625.46,953.21 626.07,953.53 626.68,953.84 627.28,954.16 627.89,954.47 628.49,954.79 629.1,955.11 629.71,955.44 630.31,955.76 630.92,956.09 631.52,956.42 632.13,956.75 632.74,957.08 633.34,957.41 633.95,957.75 634.56,958.09 635.16,958.43 635.77,958.77 636.37,959.12 636.98,959.46 637.59,959.81 638.19,960.16 638.8,960.51 639.4,960.87 640.01,961.23 640.62,961.58 641.22,961.94 641.83,962.31 642.43,962.67 643.04,963.04 643.65,963.41 644.25,963.78 644.86,964.15 645.46,964.52 646.07,964.9 646.68,965.28 647.28,965.66 647.89,966.04 648.5,966.43 649.1,966.82 649.71,967.2 650.31,967.6 650.92,967.99" fill="none" stroke="#1a66e8" stroke-width="1.6" stroke-linejoin="round" stroke-linecap="round" />
<polyline points="403.3,968 403.38,946.79 403.95,941.05 404.52,935.96 405.1,931.47 405.67,927.53 406.24,924.09 406.81,921.09 407.39,918.49 407.96,916.24 408.53,914.28 409.1,912.56 409.68,911.04 410.25,909.66 410.82,908.37 411.39,907.12 411.96,905.91 412.54,904.72 413.11,903.55 413.68,902.41 414.25,901.29 414.83,900.18 415.4,899.1 415.97,898.02 416.54,896.97 417.12,895.92 417.69,894.88 418.26,893.85 418.83,892.82 419.41,891.79 419.98,890.77 420.55,889.75 421.12,888.72 421.7,887.69 422.27,886.67 422.84,885.64 423.41,884.61 423.99,883.58 424.56,882.55 425.13,881.52 425.7,880.49 426.28,879.46 426.85,878.43 427.42,877.4 427.99,876.37 428.57,875.35 429.14,874.32 429.71,873.29 430.28,872.26 430.85,871.23 431.43,870.21 432,869.18 432.57,868.16 433.14,867.14 433.72,866.12 434.29,865.1 434.86,864.08 435.43,863.06 436.01,862.05 436.58,861.03 437.15,860.02 437.72,859.01 438.3,858 438.87,857 439.44,855.99 440.01,854.99 440.59,854 441.16,853 441.73,852.01 442.3,851.02 442.88,850.03 443.45,849.05 444.02,848.07 444.59,847.09 445.17,846.11 445.74,845.14 446.31,844.18 446.88,843.21 447.45,842.25 448.03,841.3 448.6,840.34 449.17,839.4 449.74,838.45 450.32,837.51 450.89,836.58 451.46,835.65 452.03,834.72 452.61,833.8 453.18,832.88 453.75,831.97 454.32,831.06 454.9,830.16 455.47,829.27 456.04,828.38 456.61,827.49 457.19,826.61 457.76,825.74 458.33,824.87 458.9,824 459.48,823.15 460.05,822.3 460.62,821.45 461.19,820.61 461.77,819.78 462.34,818.95 462.91,818.13 463.48,817.32 464.06,816.52 464.63,815.72 465.2,814.93 465.77,814.14 466.34,813.36 466.92,812.59 467.49,811.83 468.06,811.07 468.63,810.33 469.21,809.59 469.78,808.85 470.35,808.13 470.92,807.41 471.5,806.7 471.61,831.65 471.82,833.32 472.03,834.93 472.24,836.47 472.44,837.94 472.65,839.36 472.86,840.72 473.07,842.02 473.28,843.28 473.49,844.49 473.7,845.66 473.91,846.78 474.11,847.87 474.32,848.92 474.53,849.93 474.74,850.91 474.95,851.86 475.16,852.78 475.37,853.67 475.57,854.53 475.78,855.37 475.99,856.19 476.2,856.99 476.41,857.76 476.62,858.51 476.83,859.25 477.04,859.97 477.24,860.67 477.45,861.36 477.66,862.03 477.87,862.69 478.08,863.33 478.29,863.96 478.5,864.59 478.71,865.19 478.91,865.79 479.12,866.38 479.33,866.96 479.54,867.54 479.75,868.1 479.96,868.66 480.17,869.2 480.38,869.75 480.58,870.28 480.79,870.81 481,871.33 481.21,871.85 481.42,872.36 481.63,872.87 481.84,873.38 482.05,873.87 482.25,874.37 482.46,874.86 482.67,875.35 482.88,875.83 483.09,876.31 483.3,876.79 483.51,877.27 483.72,877.74 483.92,878.21 484.13,878.67 484.34,879.14 484.55,879.6 484.76,880.06 484.97,880.52 485.18,880.98 485.39,881.44 485.59,881.89 485.8,882.34 486.01,882.79 486.61,884.07 487.2,885.34 487.8,886.61 488.39,887.86 488.99,889.11 489.59,890.36 490.18,891.6 490.78,892.84 491.37,894.08 491.97,895.31 492.56,896.55 493.16,897.78 493.76,899.01 494.35,900.24 494.95,901.47 495.54,902.69 496.14,903.92 496.73,905.15 497.33,906.38 497.92,907.6 498.52,908.83 499.12,910.06 499.71,911.28 500.31,912.51 500.9,913.74 501.5,914.96 502.09,916.19 502.69,917.42 503.29,918.64 503.88,919.87 504.48,921.1 505.07,922.33 505.67,923.56 506.26,924.79 506.86,926.02 507.45,927.25 508.05,928.47 508.65,929.71 509.24,930.94 509.84,932.17 510.43,933.4 511.03,934.63 511.62,935.86 512.22,937.09 512.81,938.32 513.41,939.56 514.01,940.79 514.6,942.02 515.2,943.26 515.79,944.49 516.39,945.72 516.98,946.96 517.58,948.19 518.18,949.43 518.77,950.67 519.37,951.9 519.96,953.14 520.56,954.37 521.15,955.61 521.75,956.85 522.34,958.09 522.94,959.32 523.54,960.56 524.13,961.8 524.73,963.04 525.32,964.28 525.92,965.52 526.51,966.76 527.11,968 527.33,946.79 527.91,943.11 528.49,939.62 529.06,936.31 529.64,933.15 530.21,930.16 530.79,927.31 531.37,924.6 531.94,922.03 532.52,919.57 533.09,917.23 533.67,915 534.25,912.86 534.82,910.81 535.4,908.84 535.97,906.94 536.55,905.11 537.12,903.33 537.7,901.59 538.28,899.89 538.85,898.23 539.43,896.6 540,895 540.58,893.43 541.16,891.89 541.73,890.38 542.31,888.9 542.88,887.45 543.46,886.02 544.04,884.62 544.61,883.24 545.19,881.88 545.76,880.55 546.34,879.24 546.92,877.95 547.49,876.67 548.07,875.42 548.64,874.18 549.22,872.96 549.79,871.76 550.37,870.57 550.95,869.4 551.52,868.23 552.1,867.08 552.67,865.94 553.25,864.81 553.83,863.69 554.4,862.58 554.98,861.48 555.55,860.38 556.13,859.29 556.71,858.21 557.28,857.14 557.86,856.08 558.43,855.02 559.01,853.98 559.59,852.94 560.16,851.91 560.74,850.89 561.31,849.88 561.89,848.88 562.47,847.88 563.04,846.9 563.62,845.92 564.19,844.95 564.77,843.99 565.34,843.04 565.92,842.1 566.5,841.17 567.07,840.25 567.65,839.33 568.22,838.43 568.8,837.53 569.38,836.65 569.95,835.77 570.53,834.9 571.1,834.05 571.68,833.2 572.26,832.36 572.83,831.53 573.41,830.71 573.98,829.9 574.56,829.1 575.14,828.31 575.71,827.53 576.29,826.76 576.86,826 577.44,825.24 578.01,824.5 578.59,823.77 579.17,823.05 579.74,822.34 580.32,821.64 580.89,820.95 581.47,820.27 582.05,819.6 582.62,818.94 583.2,818.29 583.77,817.65 584.35,817.02 584.93,816.4 585.5,815.79 586.08,815.19 586.65,814.61 587.23,814.03 587.81,813.47 588.38,812.91 588.96,812.37 589.53,811.84 590.11,811.31 590.68,810.8 591.26,810.3 591.84,809.81 592.41,809.34 592.99,808.87 593.56,808.41 594.14,807.97 594.72,807.54 595.29,807.11 595.87,806.7 595.98,831.95 596.35,834.26 596.72,836.48 597.09,838.62 597.46,840.69 597.83,842.69 598.2,844.63 598.57,846.5 598.94,848.32 599.31,850.08 599.68,851.79 600.06,853.45 600.43,855.06 600.8,856.63 601.17,858.16 601.54,859.64 601.91,861.09 602.28,862.51 602.65,863.89 603.02,865.24 603.39,866.56 603.76,867.85 604.13,869.11 604.5,870.35 604.87,871.56 605.24,872.75 605.61,873.92 605.98,875.07 606.35,876.2 606.72,877.31 607.09,878.41 607.46,879.48 607.83,880.54 608.21,881.59 608.58,882.62 608.95,883.64 609.32,884.64 609.69,885.63 610.06,886.61 610.43,887.58 610.8,888.54 611.17,889.49 611.54,890.43 611.91,891.35 612.28,892.27 612.65,893.19 613.02,894.09 613.39,894.99 613.76,895.87 614.13,896.76 614.5,897.63 614.87,898.5 615.24,899.36 615.61,900.22 615.98,901.07 616.35,901.91 616.73,902.75 617.1,903.59 617.47,904.42 617.84,905.24 618.21,906.06 618.58,906.88 618.95,907.69 619.32,908.5 619.69,909.3 620.06,910.1 620.43,910.89 620.8,911.69 621.17,912.48 621.54,913.26 621.97,914.16 622.39,915.05 622.82,915.94 623.24,916.83 623.67,917.71 624.1,918.59 624.52,919.46 624.95,920.33 625.37,921.2 625.8,922.06 626.22,922.92 626.65,923.77 627.08,924.63 627.5,925.48 627.93,926.32 628.35,927.17 628.78,928.01 629.21,928.84 629.63,929.68 630.06,930.51 630.48,931.34 630.91,932.16 631.33,932.98 631.76,933.8 632.19,934.62 632.61,935.43 633.04,936.25 633.46,937.05 633.89,937.86 634.31,938.66 634.74,939.46 635.17,940.26 635.59,941.06 636.02,941.85 636.44,942.64 636.87,943.42 637.29,944.21 637.72,944.99 638.15,945.77 638.57,946.55 639,947.32 639.42,948.09 639.85,948.86 640.28,949.63 640.7,950.39 641.13,951.16 641.55,951.92 641.98,952.67 642.4,953.43 642.83,954.18 643.26,954.93 643.68,955.67 644.11,956.42 644.53,957.16 644.96,957.9 645.38,958.64 645.81,959.37 646.24,960.11 646.66,960.83 647.09,961.56 647.51,962.29 647.94,963.01 648.36,963.73 648.79,964.45 649.22,965.16 649.64,965.88 650.07,966.59 650.49,967.29 650.92,968" fill="none" stroke="#ff3535" stroke-width="1.6" stroke-linejoin="round" stroke-linecap="round" />
<line x1="402.45" y1="766" x2="657.55" y2="766" stroke="#111" stroke-width="1.7" />
<line x1="402.45" y1="968" x2="657.55" y2="968" stroke="#111" stroke-width="1.7" />
<line x1="403.3" y1="765.15" x2="403.3" y2="968.85" stroke="#111" stroke-width="1.7" />
<line x1="656.7" y1="765.15" x2="656.7" y2="968.85" stroke="#111" stroke-width="1.7" />
<line x1="403.3" y1="968" x2="403.3" y2="971.8" stroke="#111" stroke-width="1.6" />
<line x1="459.48" y1="968" x2="459.48" y2="971.8" stroke="#111" stroke-width="1.6" />
<line x1="515.65" y1="968" x2="515.65" y2="971.8" stroke="#111" stroke-width="1.6" />
<line x1="571.83" y1="968" x2="571.83" y2="971.8" stroke="#111" stroke-width="1.6" />
<line x1="628" y1="968" x2="628" y2="971.8" stroke="#111" stroke-width="1.6" />
<line x1="431.39" y1="968" x2="431.39" y2="970.1" stroke="#111" stroke-width="1.2" />
<line x1="487.56" y1="968" x2="487.56" y2="970.1" stroke="#111" stroke-width="1.2" />
<line x1="543.74" y1="968" x2="543.74" y2="970.1" stroke="#111" stroke-width="1.2" />
<line x1="599.91" y1="968" x2="599.91" y2="970.1" stroke="#111" stroke-width="1.2" />
<line x1="656.09" y1="968" x2="656.09" y2="970.1" stroke="#111" stroke-width="1.2" />
<text x="403.3" y="985.2" font-family="'Liberation Serif', serif" font-size="13.7" font-weight="bold" fill="#111" text-anchor="middle" >0</text>
<text x="459.48" y="985.2" font-family="'Liberation Serif', serif" font-size="13.7" font-weight="bold" fill="#111" text-anchor="middle" >500</text>
<text x="515.65" y="985.2" font-family="'Liberation Serif', serif" font-size="13.7" font-weight="bold" fill="#111" text-anchor="middle" >1000</text>
<text x="571.83" y="985.2" font-family="'Liberation Serif', serif" font-size="13.7" font-weight="bold" fill="#111" text-anchor="middle" >1500</text>
<text x="628" y="985.2" font-family="'Liberation Serif', serif" font-size="13.7" font-weight="bold" fill="#111" text-anchor="middle" >2000</text>
<line x1="403.3" y1="968" x2="399.5" y2="968" stroke="#111" stroke-width="1.6" />
<line x1="403.3" y1="927.6" x2="399.5" y2="927.6" stroke="#111" stroke-width="1.6" />
<line x1="403.3" y1="887.2" x2="399.5" y2="887.2" stroke="#111" stroke-width="1.6" />
<line x1="403.3" y1="846.8" x2="399.5" y2="846.8" stroke="#111" stroke-width="1.6" />
<line x1="403.3" y1="806.4" x2="399.5" y2="806.4" stroke="#111" stroke-width="1.6" />
<line x1="403.3" y1="766" x2="399.5" y2="766" stroke="#111" stroke-width="1.6" />
<line x1="403.3" y1="947.8" x2="401.2" y2="947.8" stroke="#111" stroke-width="1.2" />
<line x1="403.3" y1="907.4" x2="401.2" y2="907.4" stroke="#111" stroke-width="1.2" />
<line x1="403.3" y1="867" x2="401.2" y2="867" stroke="#111" stroke-width="1.2" />
<line x1="403.3" y1="826.6" x2="401.2" y2="826.6" stroke="#111" stroke-width="1.2" />
<line x1="403.3" y1="786.2" x2="401.2" y2="786.2" stroke="#111" stroke-width="1.2" />
<text x="396.5" y="972.55" font-family="'Liberation Serif', serif" font-size="13.7" font-weight="bold" fill="#111" text-anchor="end" >0.0</text>
<text x="396.5" y="932.15" font-family="'Liberation Serif', serif" font-size="13.7" font-weight="bold" fill="#111" text-anchor="end" >0.4</text>
<text x="396.5" y="891.75" font-family="'Liberation Serif', serif" font-size="13.7" font-weight="bold" fill="#111" text-anchor="end" >0.8</text>
<text x="396.5" y="851.35" font-family="'Liberation Serif', serif" font-size="13.7" font-weight="bold" fill="#111" text-anchor="end" >1.2</text>
<text x="396.5" y="810.95" font-family="'Liberation Serif', serif" font-size="13.7" font-weight="bold" fill="#111" text-anchor="end" >1.6</text>
<text x="396.5" y="770.55" font-family="'Liberation Serif', serif" font-size="13.7" font-weight="bold" fill="#111" text-anchor="end" >2.0</text>
<line x1="443.7" y1="772.8" x2="469.3" y2="772.8" stroke="#404040" stroke-width="2.2" />
<text x="471" y="776.1" font-family="'Liberation Serif', serif" font-size="10.6" font-weight="bold" fill="#111" text-anchor="start" >1 electrode</text>
<line x1="443.7" y1="785.9" x2="469.3" y2="785.9" stroke="#ff3535" stroke-width="2.2" />
<text x="471" y="789.2" font-family="'Liberation Serif', serif" font-size="10.6" font-weight="bold" fill="#111" text-anchor="start" >2 electrodes connected in series</text>
<line x1="443.7" y1="799" x2="469.3" y2="799" stroke="#1a66e8" stroke-width="2.2" />
<text x="471" y="802.3" font-family="'Liberation Serif', serif" font-size="10.6" font-weight="bold" fill="#111" text-anchor="start" >2 electrodes connected in parallel</text>
<text x="529.5" y="1002.7" font-family="'Liberation Serif', serif" font-size="17" font-weight="bold" fill="#111" text-anchor="middle" >Times (s)</text>
<text x="373.3" y="869.8" font-family="'Liberation Serif', serif" font-size="17" font-weight="bold" fill="#111" text-anchor="middle" transform="rotate(-90 373.3 869.8)" >Voltage (V)</text>
<text x="367" y="786.6" font-family="'Liberation Serif', serif" font-size="19.5" font-weight="bold" fill="#ff0000" text-anchor="start" >(k)</text>
</svg></body></html>
